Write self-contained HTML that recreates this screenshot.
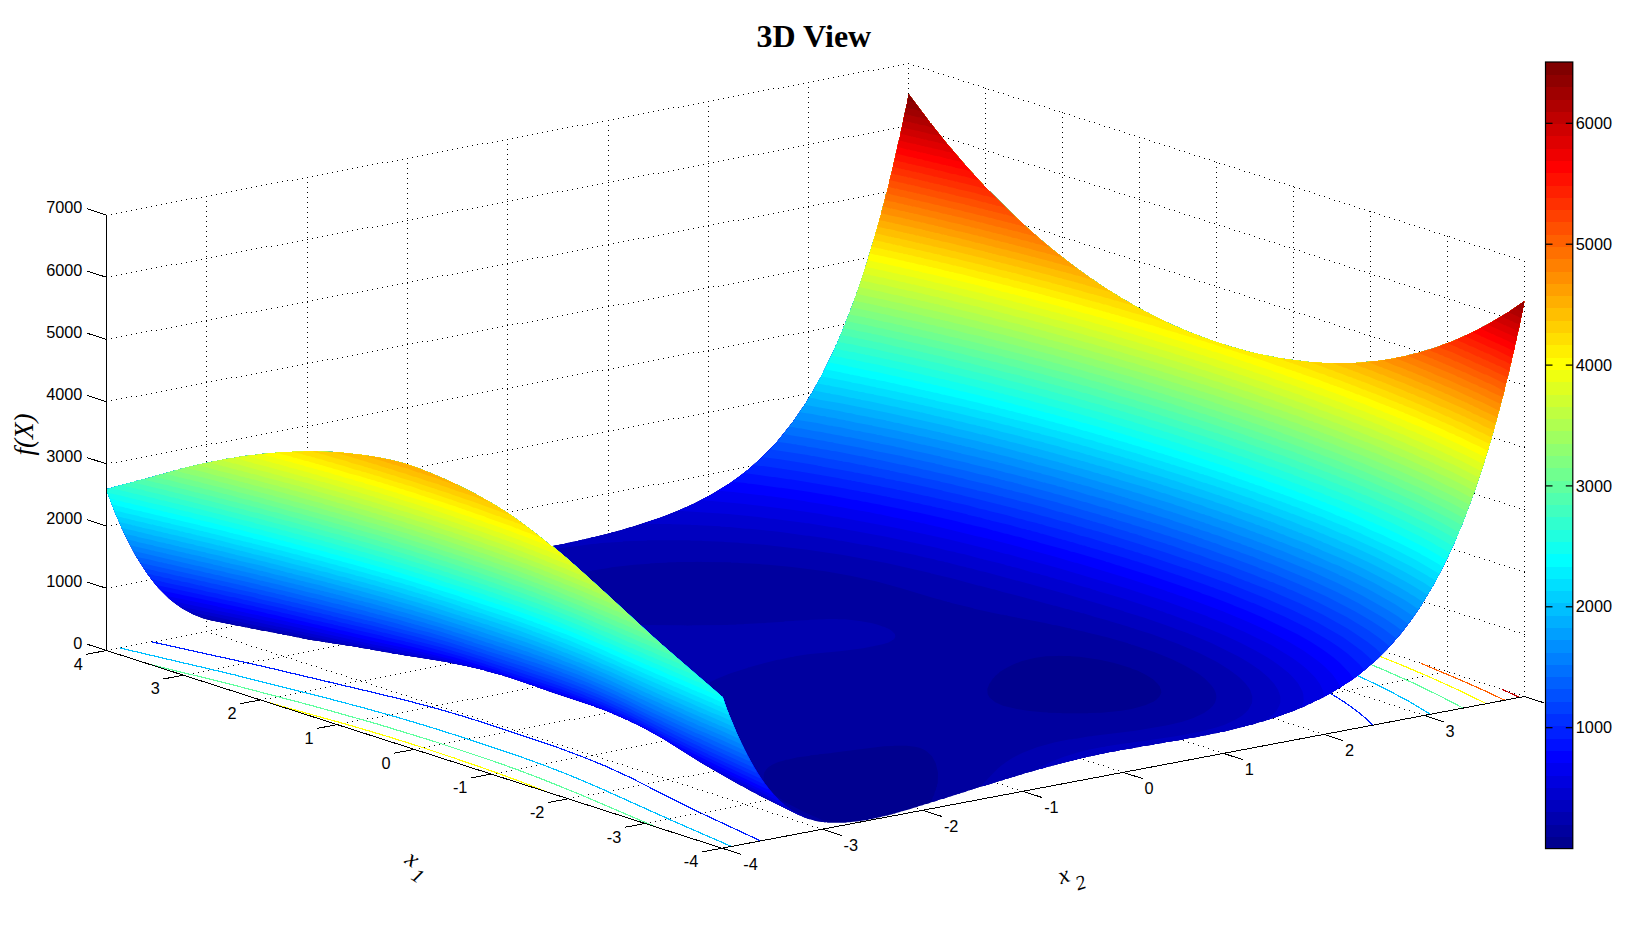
<!DOCTYPE html><html><head><meta charset="utf-8"><title>3D View</title><style>html,body{margin:0;padding:0;background:#fff}svg{display:block}</style></head><body>
<svg width="1632" height="945" viewBox="0 0 1632 945">
<rect width="1632" height="945" fill="#fff"/>
<path stroke="#000" stroke-width="1" fill="none" d="M908 63.5h1m-6 1h1m-6 1h1m14 0h1m-21 1h1m24 0h1m-31 1h1m-6 1h1m24 0h1m14 0h1m-46 1h1m49 0h1m-61 1h1m4 0h1m-11 1h1m69 0h1m-76 1h1m-6 1h1m54 0h1m29 0h1m-91 1h1m94 0h1m-101 1h1m-6 1h1m109 0h1m-116 1h1m119 0h1m-126 1h1m79 0h1m-86 1h1m134 0h1m-141 1h1m-6 1h1m149 0h1m-156 1h1m159 0h1m-166 1h1m104 0h1m-111 1h1m174 0h1m-181 1h1m184 0h1m-191 1h1m-6 1h1m24 0h1m174 0h1m-211 1h1m4 0h1m129 0h1m76 0h1m-218 1h1m219 0h1m-226 1h1m229 0h1m-236 1h1m-6 1h1m54 0h1m189 0h1m-251 1h1m159 0h1m76 0h1m17 0h1m-261 1h1m-6 1h1m269 0h1m-276 1h1m-6 1h1m79 0h1m204 0h1m-291 1h1m261 0h1m32 0h1m-301 1h1m-6 1h1m309 0h1m-316 1h1m319 0h1m-326 1h1m104 0h1m-111 1h1m286 0h1m48 0h1m-342 1h1m-6 1h1m350 0h1m-357 1h1m24 0h1m335 0h1m-372 1h1m4 0h1m129 0h1m-141 1h1m316 0h1m63 0h1m-387 1h1m-6 1h1m395 0h1m-402 1h1m54 0h1m350 0h1m-412 1h1m159 0h1m253 0h1m-420 1h1m341 0h1m78 0h1m-427 1h1m430 0h1m-437 1h1m-6 1h1m79 0h1m365 0h1m-452 1h1m184 0h1m253 0h1m-445 1h1m366 0h1m93 0h1m-467 1h1m470 0h1m-477 1h1m-7 1h1m105 0h1m380 0h1m-493 1h1m210 0h1m253 0h1m31 0h1m-503 1h1m392 0h1m-399 1h1m511 0h1m-523 1h1m4 0h1m25 0h1m-37 1h1m135 0h1m395 0h1m-538 1h1m240 0h1m89 0h1m163 0h1m46 0h1m-548 1h1m330 0h1m91 0h1m-429 1h1m330 0h1m225 0h1m-563 1h1m55 0h1m274 0h1m235 0h1m-573 1h1m160 0h1m169 0h1m-337 1h1m265 0h1m64 0h1m188 0h1m61 0h1m-588 1h1m330 0h1m116 0h1m-454 1h1m330 0h1m265 0h1m-603 1h1m80 0h1m249 0h1m275 0h1m-613 1h1m185 0h1m139 0h1m4 0h1m89 0h1m-427 1h1m290 0h1m34 0h1m218 0h1m76 0h1m-628 1h1m325 0h1m109 0h1m36 0h1m158 0h1m-638 1h1m325 0h1m-332 1h1m105 0h1m219 0h1m124 0h1m195 0h1m-653 1h1m210 0h1m114 0h1m134 0h1m-467 1h1m315 0h1m9 0h1m243 0h1m76 0h1m14 0h1m-673 1h1m4 0h1m325 0h1m149 0h1m21 0h1m173 0h1m-683 1h1m29 0h1m300 0h1m159 0h1m-497 1h1m135 0h1m194 0h1m360 0h1m-698 1h1m240 0h1m89 0h1m174 0h1m195 0h1m-708 1h1m330 0h1m14 0h1m253 0h1m76 0h1m-683 1h1m330 0h1m189 0h1m6 0h1m188 0h1m-723 1h1m54 0h1m275 0h1m199 0h1m-537 1h1m160 0h1m169 0h1m400 0h1m-738 1h1m265 0h1m64 0h1m214 0h1m195 0h1m-748 1h1m330 0h1m39 0h1m184 0h1m68 0h1m76 0h1m-708 1h1m330 0h1m221 0h1m203 0h1m-763 1h1m79 0h1m245 0h1m4 0h1m239 0h1m-577 1h1m185 0h1m139 0h1m445 0h1m-778 1h1m290 0h1m34 0h1m259 0h1m195 0h1m-788 1h1m325 0h1m69 0h1m199 0h1m53 0h1m76 0h1m-733 1h1m325 0h1m251 0h1m218 0h1m-803 1h1m104 0h1m220 0h1m284 0h1m195 0h1m-813 1h1m210 0h1m114 0h1m294 0h1m-627 1h1m315 0h1m9 0h1m495 0h1m-833 1h1m4 0h1m325 0h1m94 0h1m214 0h1m38 0h1m76 0h1m76 0h1m-840 1h1m29 0h1m300 0h1m276 0h1m233 0h1m-848 1h1m134 0h1m195 0h1m324 0h1m195 0h1m-858 1h1m240 0h1m89 0h1m335 0h1m-673 1h1m330 0h1m14 0h1m520 0h1m-873 1h1m330 0h1m119 0h1m230 0h1m22 0h1m76 0h1m76 0h1m17 0h1m-883 1h1m54 0h1m275 0h1m301 0h1m58 0h1m-698 1h1m159 0h1m170 0h1m560 0h1m-898 1h1m265 0h1m64 0h1m375 0h1m-713 1h1m330 0h1m39 0h1m535 0h1m-913 1h1m330 0h1m144 0h1m245 0h1m7 0h1m76 0h1m76 0h1m32 0h1m-923 1h1m79 0h1m245 0h1m4 0h1m326 0h1m73 0h1m-738 1h1m184 0h1m140 0h1m605 0h1m-938 1h1m290 0h1m34 0h1m420 0h1m194 0h1m-948 1h1m325 0h1m69 0h1m-402 1h1m325 0h1m174 0h1m253 0h1m6 0h1m69 0h1m76 0h1m47 0h1m-963 1h1m104 0h1m220 0h1m356 0h1m88 0h1m-778 1h1m209 0h1m115 0h1m645 0h1m-983 1h1m4 0h1m315 0h1m9 0h1m460 0h1m194 0h1m-993 1h1m330 0h1m94 0h1m375 0h1m-808 1h1m29 0h1m300 0h1m199 0h1m253 0h1m76 0h1m76 0h1m62 0h1m-1009 1h1m135 0h1m194 0h1m382 0h1m103 0h1m194 0h1m-1019 1h1m240 0h1m89 0h1m-337 1h1m330 0h1m15 0h1m485 0h1m194 0h1m-1034 1h1m330 0h1m120 0h1m390 0h1m193 0h1m-1043 1h1m55 0h1m274 0h1m225 0h1m253 0h1m76 0h1m76 0h1m77 0h1m-1049 1h1m160 0h1m169 0h1m526 0h1m194 0h1m-1059 1h1m265 0h1m64 0h1m536 0h1m-874 1h1m330 0h1m40 0h1m695 0h1m-1074 1h1m325 0h1m4 0h1m145 0h1m405 0h1m178 0h1m15 0h1m-1084 1h1m80 0h1m244 0h1m255 0h1m74 0h1m178 0h1m76 0h1m76 0h1m-996 1h1m185 0h1m139 0h1m330 0h1m240 0h1m194 0h1m-1099 1h1m290 0h1m34 0h1m330 0h1m250 0h1m-914 1h1m325 0h1m70 0h1m259 0h1m450 0h1m-1114 1h1m325 0h1m175 0h1m154 0h1m265 0h1m163 0h1m30 0h1m-1124 1h1m105 0h1m219 0h1m280 0h1m49 0h1m203 0h1m71 0h1m4 0h1m76 0h1m-1026 1h1m4 0h1m210 0h1m114 0h1m330 0h1m475 0h1m-1144 1h1m320 0h1m9 0h1m330 0h1m290 0h1m-959 1h1m330 0h1m95 0h1m234 0h1m490 0h1m-1159 1h1m29 0h1m300 0h1m200 0h1m129 0h1m305 0h1m148 0h1m45 0h1m-1169 1h1m135 0h1m194 0h1m305 0h1m19 0h1m4 0h1m228 0h1m76 0h1m9 0h1m66 0h1m-1051 1h1m240 0h1m89 0h1m325 0h1m520 0h1m-1184 1h1m330 0h1m14 0h1m310 0h1m335 0h1m194 0h1m-1194 1h1m330 0h1m120 0h1m204 0h1m345 0h1m-1009 1h1m54 0h1m275 0h1m225 0h1m99 0h1m484 0h1m60 0h1m-1209 1h1m160 0h1m169 0h1m325 0h1m4 0h1m253 0h1m76 0h1m24 0h1m51 0h1m-1076 1h1m265 0h1m64 0h1m325 0h1m560 0h1m-1224 1h1m325 0h1m4 0h1m39 0h1m285 0h1m375 0h1m194 0h1m-1234 1h1m325 0h1m150 0h1m179 0h1m385 0h1m-1049 1h1m79 0h1m245 0h1m255 0h1m74 0h1m509 0h1m75 0h1m0 0h1m-1250 1h1m185 0h1m139 0h1m330 0h1m29 0h1m253 0h1m76 0h1m39 0h1m36 0h1m157 0h1m-1259 1h1m290 0h1m34 0h1m330 0h1m-663 1h1m325 0h1m69 0h1m260 0h1m415 0h1m194 0h1m-1274 1h1m325 0h1m175 0h1m154 0h1m425 0h1m-984 1h1m220 0h1m280 0h1m49 0h1m534 0h1m76 0h1m13 0h1m-1078 1h1m114 0h1m330 0h1m54 0h1m253 0h1m76 0h1m54 0h1m21 0h1m172 0h1m-983 1h1m9 0h1m330 0h1m450 0h1m-788 1h1m94 0h1m235 0h1m650 0h1m-988 1h1m200 0h1m124 0h1m4 0h1m465 0h1m194 0h1m-1194 1h1m195 0h1m305 0h1m19 0h1m564 0h1m76 0h1m-1064 1h1m89 0h1m325 0h1m84 0h1m253 0h1m76 0h1m69 0h1m6 0h1m187 0h1m-1013 1h1m14 0h1m310 0h1m495 0h1m-828 1h1m119 0h1m205 0h1m695 0h1m-1028 1h1m225 0h1m99 0h1m510 0h1m194 0h1m-1209 1h1m170 0h1m325 0h1m4 0h1m319 0h1m195 0h1m68 0h1m76 0h1m-1064 1h1m59 0h1m4 0h1m325 0h1m109 0h1m225 0h1m27 0h1m76 0h1m76 0h1m202 0h1m-1058 1h1m44 0h1m285 0h1m535 0h1m194 0h1m-1068 1h1m149 0h1m180 0h1m350 0h1m-688 1h1m255 0h1m74 0h1m550 0h1m194 0h1m-1224 1h1m140 0h1m330 0h1m29 0h1m335 0h1m194 0h1m130 0h1m-1064 1h1m34 0h1m330 0h1m134 0h1m240 0h1m12 0h1m76 0h1m76 0h1m76 0h1m140 0h1m-1098 1h1m69 0h1m260 0h1m575 0h1m194 0h1m-1108 1h1m174 0h1m155 0h1m390 0h1m194 0h1m-923 1h1m280 0h1m49 0h1m785 0h1m-1239 1h1m115 0h1m330 0h1m54 0h1m350 0h1m194 0h1m115 0h1m76 0h1m1 0h1m-1143 1h1m9 0h1m330 0h1m159 0h1m253 0h1m1 0h1m74 0h1m76 0h1m76 0h1m-982 1h1m94 0h1m230 0h1m4 0h1m615 0h1m194 0h1m-1148 1h1m199 0h1m125 0h1m435 0h1m194 0h1m-963 1h1m305 0h1m19 0h1m445 0h1m384 0h1m-1254 1h1m90 0h1m325 0h1m84 0h1m560 0h1m100 0h1m76 0h1m16 0h1m-1173 1h1m14 0h1m310 0h1m189 0h1m253 0h1m16 0h1m59 0h1m76 0h1m57 0h1m18 0h1m-1007 1h1m119 0h1m205 0h1m855 0h1m-1188 1h1m224 0h1m100 0h1m475 0h1m194 0h1m-1003 1h1m324 0h1m5 0h1m480 0h1m384 0h1m-1269 1h1m59 0h1m4 0h1m325 0h1m110 0h1m575 0h1m85 0h1m76 0h1m31 0h1m-1219 1h1m45 0h1m284 0h1m215 0h1m253 0h1m31 0h1m44 0h1m76 0h1m72 0h1m3 0h1m-1038 1h1m150 0h1m179 0h1m511 0h1m384 0h1m-1234 1h1m255 0h1m74 0h1m711 0h1m194 0h1m-1244 1h1m330 0h1m30 0h1m495 0h1m194 0h1m-1094 1h1m34 0h1m330 0h1m135 0h1m661 0h1m76 0h1m46 0h1m-1259 1h1m70 0h1m259 0h1m240 0h1m253 0h1m46 0h1m29 0h1m76 0h1m76 0h1m10 0h1m-1074 1h1m175 0h1m154 0h1m551 0h1m384 0h1m-1274 1h1m280 0h1m49 0h1m751 0h1m194 0h1m-1284 1h1m330 0h1m55 0h1m510 0h1m194 0h1m-1109 1h1m9 0h1m330 0h1m160 0h1m415 0h1m245 0h1m76 0h1m61 0h1m-1299 1h1m95 0h1m229 0h1m4 0h1m265 0h1m59 0h1m270 0h1m76 0h1m76 0h1m25 0h1m194 0h1m-1309 1h1m200 0h1m124 0h1m330 0h1m265 0h1m-929 1h1m305 0h1m19 0h1m330 0h1m465 0h1m194 0h1m-1324 1h1m325 0h1m85 0h1m244 0h1m280 0h1m194 0h1m-1139 1h1m14 0h1m310 0h1m190 0h1m139 0h1m290 0h1m230 0h1m76 0h1m76 0h1m-1339 1h1m120 0h1m204 0h1m295 0h1m34 0h1m295 0h1m76 0h1m76 0h1m40 0h1m-1154 1h1m225 0h1m99 0h1m330 0h1m305 0h1m194 0h1m-1169 1h1m4 0h1m325 0h1m4 0h1m325 0h1m315 0h1m-984 1h1m330 0h1m110 0h1m219 0h1m515 0h1m-1184 1h1m44 0h1m285 0h1m215 0h1m114 0h1m330 0h1m215 0h1m76 0h1m76 0h1m-1369 1h1m150 0h1m179 0h1m320 0h1m9 0h1m320 0h1m76 0h1m76 0h1m55 0h1m-1199 1h1m255 0h1m74 0h1m325 0h1m4 0h1m345 0h1m194 0h1m-1209 1h1m330 0h1m29 0h1m295 0h1m360 0h1m-1024 1h1m330 0h1m135 0h1m189 0h1m560 0h1m-1224 1h1m69 0h1m260 0h1m240 0h1m84 0h1m375 0h1m194 0h1m5 0h1m76 0h1m76 0h1m-1394 1h1m175 0h1m154 0h1m325 0h1m19 0h1m330 0h1m34 0h1m41 0h1m76 0h1m-1168 1h1m280 0h1m49 0h1m325 0h1m585 0h1m-1249 1h1m330 0h1m54 0h1m270 0h1m400 0h1m-1064 1h1m325 0h1m4 0h1m160 0h1m164 0h1m600 0h1m-1264 1h1m94 0h1m230 0h1m270 0h1m59 0h1m415 0h1m185 0h1m8 0h1m67 0h1m76 0h1m-1419 1h1m200 0h1m124 0h1m330 0h1m44 0h1m330 0h1m49 0h1m26 0h1m76 0h1m-887 1h1m19 0h1m330 0h1m625 0h1m-963 1h1m84 0h1m245 0h1m440 0h1m194 0h1m-973 1h1m190 0h1m139 0h1m-543 1h1m205 0h1m295 0h1m34 0h1m455 0h1m170 0h1m23 0h1m52 0h1m76 0h1m-1218 1h1m99 0h1m330 0h1m69 0h1m330 0h1m64 0h1m11 0h1m76 0h1m-892 1h1m4 0h1m325 0h1m665 0h1m-1003 1h1m109 0h1m220 0h1m480 0h1m194 0h1m-1013 1h1m215 0h1m114 0h1m490 0h1m-1009 1h1m180 0h1m320 0h1m4 0h1m4 0h1m651 0h1m38 0h1m37 0h1m76 0h1m-1218 1h1m74 0h1m325 0h1m99 0h1m330 0h1m76 0h1m2 0h1m73 0h1m120 0h1m-1038 1h1m29 0h1m295 0h1m-332 1h1m134 0h1m190 0h1m525 0h1m194 0h1m-1053 1h1m240 0h1m84 0h1m535 0h1m-1024 1h1m155 0h1m325 0h1m19 0h1m661 0h1m53 0h1m22 0h1m76 0h1m-1218 1h1m49 0h1m325 0h1m124 0h1m330 0h1m76 0h1m17 0h1m58 0h1m135 0h1m-1083 1h1m4 0h1m54 0h1m270 0h1m560 0h1m-898 1h1m164 0h1m165 0h1m760 0h1m-1098 1h1m270 0h1m59 0h1m575 0h1m194 0h1m-1234 1h1m125 0h1m330 0h1m44 0h1m661 0h1m76 0h1m76 0h1m-1218 1h1m19 0h1m330 0h1m149 0h1m330 0h1m76 0h1m32 0h1m43 0h1m150 0h1m-1123 1h1m84 0h1m245 0h1m600 0h1m-938 1h1m189 0h1m140 0h1m800 0h1m-1138 1h1m295 0h1m34 0h1m615 0h1m194 0h1m-1249 1h1m100 0h1m330 0h1m69 0h1m555 0h1m105 0h1m76 0h1m-1146 1h1m4 0h1m325 0h1m174 0h1m330 0h1m76 0h1m76 0h1m165 0h1m-1163 1h1m109 0h1m220 0h1m640 0h1m-978 1h1m214 0h1m110 0h1m4 0h1m840 0h1m-1178 1h1m320 0h1m4 0h1m660 0h1m194 0h1m-1264 1h1m75 0h1m325 0h1m99 0h1m570 0h1m90 0h1m76 0h1m76 0h1m-1248 1h1m29 0h1m294 0h1m205 0h1m330 0h1m76 0h1m76 0h1m180 0h1m-1204 1h1m135 0h1m189 0h1m686 0h1m194 0h1m-1214 1h1m240 0h1m84 0h1m696 0h1m-1029 1h1m325 0h1m20 0h1m875 0h1m-1279 1h1m49 0h1m325 0h1m125 0h1m585 0h1m75 0h1m76 0h1m76 0h1m-1279 1h1m4 0h1m55 0h1m269 0h1m230 0h1m407 0h1m76 0h1m195 0h1m-1249 1h1m165 0h1m164 0h1m726 0h1m194 0h1m-1259 1h1m270 0h1m59 0h1m736 0h1m-1074 1h1m330 0h1m45 0h1m890 0h1m-1294 1h1m19 0h1m330 0h1m150 0h1m600 0h1m60 0h1m76 0h1m76 0h1m-1304 1h1m85 0h1m244 0h1m255 0h1m407 0h1m76 0h1m20 0h1m-1099 1h1m190 0h1m139 0h1m-337 1h1m295 0h1m34 0h1m776 0h1m-1114 1h1m330 0h1m70 0h1m-408 1h1m4 0h1m325 0h1m175 0h1m615 0h1m45 0h1m76 0h1m76 0h1m-1329 1h1m110 0h1m219 0h1m280 0h1m407 0h1m76 0h1m35 0h1m-1139 1h1m215 0h1m109 0h1m4 0h1m1001 0h1m-1339 1h1m320 0h1m4 0h1m330 0h1m490 0h1m-1154 1h1m325 0h1m100 0h1m229 0h1m-663 1h1m29 0h1m295 0h1m205 0h1m124 0h1m505 0h1m30 0h1m76 0h1m76 0h1m-1354 1h1m135 0h1m189 0h1m310 0h1m19 0h1m387 0h1m76 0h1m50 0h1m-1179 1h1m240 0h1m84 0h1m330 0h1m-663 1h1m325 0h1m19 0h1m310 0h1m530 0h1m-1199 1h1m4 0h1m325 0h1m125 0h1m204 0h1m540 0h1m-1209 1h1m59 0h1m270 0h1m230 0h1m99 0h1m561 0h1m76 0h1m76 0h1m-1384 1h1m165 0h1m164 0h1m330 0h1m4 0h1m407 0h1m76 0h1m65 0h1m-1224 1h1m270 0h1m59 0h1m330 0h1m-668 1h1m330 0h1m44 0h1m280 0h1m4 0h1m570 0h1m-1239 1h1m330 0h1m150 0h1m174 0h1m585 0h1m-1249 1h1m84 0h1m245 0h1m255 0h1m69 0h1m591 0h1m76 0h1m76 0h1m-1409 1h1m190 0h1m139 0h1m325 0h1m34 0h1m407 0h1m76 0h1m80 0h1m-1264 1h1m295 0h1m34 0h1m325 0h1m610 0h1m-1274 1h1m330 0h1m69 0h1m255 0h1m-332 1h1m175 0h1m149 0h1m625 0h1m-1179 1h1m215 0h1m4 0h1m280 0h1m44 0h1m616 0h1m76 0h1m76 0h1m-1218 1h1m109 0h1m330 0h1m59 0h1m484 0h1m95 0h1m-983 1h1m4 0h1m330 0h1m650 0h1m-988 1h1m99 0h1m230 0h1m-337 1h1m205 0h1m124 0h1m665 0h1m-1194 1h1m190 0h1m310 0h1m19 0h1m641 0h1m33 0h1m119 0h1m-1218 1h1m84 0h1m330 0h1m84 0h1m484 0h1m-907 1h1m19 0h1m310 0h1m690 0h1m-1028 1h1m124 0h1m205 0h1m-337 1h1m230 0h1m99 0h1m705 0h1m-1209 1h1m165 0h1m330 0h1m4 0h1m661 0h1m48 0h1m104 0h1m-1218 1h1m59 0h1m325 0h1m4 0h1m109 0h1m484 0h1m-932 1h1m44 0h1m280 0h1m-332 1h1m149 0h1m175 0h1m-332 1h1m255 0h1m69 0h1m-473 1h1m140 0h1m325 0h1m34 0h1m661 0h1m153 0h1m-1218 1h1m34 0h1m325 0h1m139 0h1m484 0h1m-957 1h1m69 0h1m255 0h1m-337 1h1m4 0h1m174 0h1m150 0h1m-337 1h1m285 0h1m44 0h1m-448 1h1m110 0h1m330 0h1m59 0h1m661 0h1m153 0h1m-1218 1h1m4 0h1m330 0h1m164 0h1m-502 1h1m99 0h1m230 0h1m-337 1h1m204 0h1m125 0h1m-337 1h1m310 0h1m19 0h1m-423 1h1m85 0h1m330 0h1m84 0h1m815 0h1m-1238 1h1m19 0h1m310 0h1m189 0h1m-527 1h1m124 0h1m205 0h1m-337 1h1m229 0h1m100 0h1m-338 1h1m325 0h1m4 0h1m5 0h1m-403 1h1m59 0h1m325 0h1m115 0h1m815 0h1m-1264 1h1m45 0h1m279 0h1m220 0h1m-553 1h1m150 0h1m174 0h1m-332 1h1m255 0h1m69 0h1m-332 1h1m325 0h1m35 0h1m-403 1h1m34 0h1m325 0h1m140 0h1m815 0h1m-1294 1h1m4 0h1m70 0h1m254 0h1m245 0h1m-583 1h1m180 0h1m149 0h1m-337 1h1m285 0h1m44 0h1m-337 1h1m330 0h1m60 0h1m900 0h1m-1304 1h1m4 0h1m330 0h1m165 0h1m815 0h1m-1319 1h1m100 0h1m229 0h1m270 0h1m705 0h1m-1314 1h1m205 0h1m124 0h1m986 0h1m-1324 1h1m310 0h1m19 0h1m-337 1h1m330 0h1m85 0h1m915 0h1m-1339 1h1m19 0h1m310 0h1m190 0h1m815 0h1m-1344 1h1m125 0h1m204 0h1m295 0h1m-633 1h1m230 0h1m94 0h1m4 0h1m-337 1h1m325 0h1m9 0h1m-342 1h1m325 0h1m115 0h1m-448 1h1m44 0h1m280 0h1m220 0h1m815 0h1m-1369 1h1m150 0h1m174 0h1m325 0h1m-658 1h1m255 0h1m69 0h1m330 0h1m-663 1h1m325 0h1m34 0h1m295 0h1m-663 1h1m325 0h1m140 0h1m189 0h1m-668 1h1m4 0h1m69 0h1m255 0h1m245 0h1m84 0h1m730 0h1m-1399 1h1m180 0h1m149 0h1m330 0h1m19 0h1m-688 1h1m285 0h1m44 0h1m330 0h1m-668 1h1m330 0h1m59 0h1m265 0h1m4 0h1m-668 1h1m330 0h1m165 0h1m159 0h1m-663 1h1m99 0h1m230 0h1m270 0h1m54 0h1m760 0h1m-1218 1h1m124 0h1m325 0h1m-352 1h1m19 0h1m325 0h1m-332 1h1m84 0h1m240 0h1m-332 1h1m190 0h1m134 0h1m-538 1h1m205 0h1m295 0h1m29 0h1m785 0h1m-1218 1h1m94 0h1m4 0h1m325 0h1m-337 1h1m9 0h1m320 0h1m-337 1h1m114 0h1m215 0h1m-337 1h1m220 0h1m109 0h1m-513 1h1m175 0h1m325 0h1m4 0h1m810 0h1m-1218 1h1m69 0h1m330 0h1m-337 1h1m34 0h1m295 0h1m-337 1h1m139 0h1m190 0h1m-337 1h1m245 0h1m84 0h1m-488 1h1m150 0h1m330 0h1m19 0h1m815 0h1m-1218 1h1m44 0h1m330 0h1m-337 1h1m59 0h1m265 0h1m4 0h1m-337 1h1m164 0h1m160 0h1m-332 1h1m270 0h1m54 0h1m-458 1h1m125 0h1m325 0h1m49 0h1m815 0h1m-1218 1h1m19 0h1m325 0h1m-332 1h1m84 0h1m240 0h1m-332 1h1m189 0h1m135 0h1m-337 1h1m4 0h1m295 0h1m29 0h1m-433 1h1m95 0h1m330 0h1m74 0h1m815 0h1m-1228 1h1m9 0h1m320 0h1m-337 1h1m114 0h1m215 0h1m-337 1h1m219 0h1m110 0h1m-337 1h1m325 0h1m4 0h1m-408 1h1m70 0h1m330 0h1m99 0h1m815 0h1m-1254 1h1m35 0h1m294 0h1m-337 1h1m140 0h1m189 0h1m-337 1h1m245 0h1m84 0h1m-337 1h1m330 0h1m20 0h1m-403 1h1m44 0h1m325 0h1m4 0h1m125 0h1m815 0h1m-1279 1h1m60 0h1m264 0h1m-332 1h1m165 0h1m159 0h1m926 0h1m-1259 1h1m270 0h1m54 0h1m936 0h1m-1269 1h1m325 0h1m50 0h1m-403 1h1m19 0h1m325 0h1m155 0h1m795 0h1m19 0h1m-1304 1h1m85 0h1m239 0h1m961 0h1m-1299 1h1m4 0h1m190 0h1m134 0h1m-337 1h1m300 0h1m29 0h1m976 0h1m-1314 1h1m330 0h1m75 0h1m-413 1h1m9 0h1m320 0h1m180 0h1m810 0h1m4 0h1m-1334 1h1m115 0h1m214 0h1m1001 0h1m-1339 1h1m220 0h1m109 0h1m-337 1h1m325 0h1m4 0h1m-337 1h1m330 0h1m100 0h1m-438 1h1m34 0h1m295 0h1m205 0h1m815 0h1m-1359 1h1m330 0h1m-337 1h1m245 0h1m84 0h1m-337 1h1m325 0h1m4 0h1m19 0h1m-357 1h1m325 0h1m130 0h1m-463 1h1m59 0h1m265 0h1m235 0h1m815 0h1m-1384 1h1m325 0h1m-332 1h1m270 0h1m54 0h1m-332 1h1m325 0h1m49 0h1m-382 1h1m325 0h1m155 0h1m-488 1h1m84 0h1m240 0h1m260 0h1m815 0h1m-1414 1h1m4 0h1m325 0h1m-337 1h1m300 0h1m29 0h1m-6 1h1m74 0h1m-81 1h1m180 0h1m-187 1h1m285 0h1m39 0h1m775 0h1m-1108 1h1m325 0h1m-6 1h1m-232 1h1m225 0h1m-126 1h1m119 0h1m-21 1h1m14 0h1m800 0h1m-807 1h1m-6 1h1m-207 1h1m200 0h1m-101 1h1m94 0h1m-6 1h1m9 0h1m815 0h1m-832 1h1m-6 1h1m-182 1h1m175 0h1m-76 1h1m69 0h1m-6 1h1m34 0h1m815 0h1m-857 1h1m-6 1h1m-157 1h1m145 0h1m4 0h1m-51 1h1m39 0h1m-6 1h1m64 0h1m815 0h1m-887 1h1m-6 1h1m-127 1h1m120 0h1m-21 1h1m14 0h1m-6 1h1m89 0h1m815 0h1m-912 1h1m-6 1h1m865 0h1m-968 1h1m94 0h1m-6 1h1m10 0h1m870 0h1m-888 1h1m931 0h1m-938 1h1m896 0h1m-903 1h1m906 0h1m-983 1h1m69 0h1m-6 1h1m35 0h1m885 0h1m-928 1h1m931 0h1m24 0h1m-968 1h1m4 0h1m-11 1h1m951 0h1m-998 1h1m39 0h1m-6 1h1m65 0h1m900 0h1m-973 1h1m976 0h1m9 0h1m-993 1h1m-6 1h1m991 0h1m-1013 1h1m14 0h1m1001 0h1m-1008 1h1m90 0h1m-97 1h1m1011 0h1m-1018 1h1m100 3h1m915 1h1m-917 4h1m915 1h1m-1409 3h1m-6 1h1m496 0h1m-503 1h1m1417 0h1m-917 4h1m915 1h1m-1 5h1m-1 5h1m-1 5h1m-71 3h1m4 2h1m64 0h1m-61 1h1m4 2h1m4 2h1m49 0h1m-46 1h1m4 2h1m4 1h1m-43 1h1m76 0h1m-31 1h1m4 2h1m4 1h1m-58 1h1m76 0h1m-16 1h1m4 1h1m4 2h1m-73 1h1m76 0h1m-1 1h1m-78 4h1m76 0h1m-1374 3h1m-6 1h1m-6 1h1m1305 0h1m76 0h1m-1389 1h1m-6 1h1m-6 1h1m-6 1h1m-6 1h1m1330 0h1m76 0h1m-1414 1h1m-6 1h1m1340 3h1m76 0h1m-78 5h1m76 0h1m-78 5h1m76 0h1m-101 1h1m4 1h1m4 2h1m4 1h1m7 0h1m76 0h1m-81 2h1m4 2h1m-3 1h1m6 0h1m69 0h1m-66 2h1m4 2h1m-18 1h1m21 0h1m54 0h1m-51 2h1m4 1h1m-1274 2h1m1240 0h1m36 0h1m39 0h1m-36 2h1m4 1h1m-1289 2h1m24 0h1m1215 0h1m51 0h1m24 0h1m-1299 1h1m1277 0h1m-1284 1h1m-6 1h1m1292 0h1m-1299 1h1m-6 1h1m1240 0h1m66 0h1m9 0h1m-1324 1h1m1317 0h1m-1324 1h1m14 0h1m-21 1h1m24 0h1m1307 0h1m-1339 1h1m-6 1h1m39 0h1m1225 0h1m76 0h1m-1349 1h1m49 0h1m-56 1h1m-6 1h1m64 0h1m-71 1h1m-11 1h1m4 0h1m79 0h1m1210 0h1m76 0h1m-1379 1h1m94 0h1m-101 1h1m-6 1h1m109 0h1m-116 1h1m206 0h1m-213 1h1m124 0h1m81 0h1m1113 0h1m76 0h1m-1404 1h1m134 0h1m71 0h1m-213 1h1m206 0h1m-213 1h1m149 0h1m56 0h1m-213 1h1m159 0h1m46 0h1m-6 1h1m1138 0h1m76 0h1m-1254 1h1m31 0h1m-6 1h1m1090 0h1m-1114 1h1m16 0h1m1100 0h1m-1114 1h1m6 0h1m-6 1h1m1115 0h1m47 0h1m76 0h1m-1247 1h1m7 0h1m1117 0h1m-1132 1h1m17 0h1m-24 1h1m1140 0h1m-1152 1h1m4 0h1m32 0h1m-44 1h1m1160 0h1m32 0h1m76 0h1m-1277 1h1m52 0h1m1117 0h1m-1177 1h1m62 0h1m143 0h1m-213 1h1m206 0h1m978 0h1m-1192 1h1m77 0h1m128 0h1m988 0h1m-1202 1h1m87 0h1m118 0h1m1011 0h1m76 0h1m-1302 1h1m206 0h1m1003 0h1m-1217 1h1m102 0h1m103 0h1m-213 1h1m206 0h1m1018 0h1m-1232 1h1m117 0h1m88 0h1m1028 0h1m-1242 1h1m127 0h1m78 0h1m1036 0h1m76 0h1m-1327 1h1m206 0h1m1036 0h1m6 0h1m-1257 1h1m142 0h1m63 0h1m1036 0h1m16 0h1m-1267 1h1m152 0h1m53 0h1m1036 0h1m-1250 1h1m206 0h1m1036 0h1m31 0h1m-1114 1h1m38 0h1m1036 0h1m101 0h1m-1145 1h1m1036 0h1m46 0h1m-1114 1h1m23 0h1m1036 0h1m56 0h1m-1114 1h1m13 0h1m1036 0h1m-1048 1h1m4 0h1m1036 0h1m71 0h1m-1120 1h1m5 0h1m1035 0h1m126 0h1m-1175 1h1m15 0h1m1025 0h1m86 0h1m-1135 1h1m1041 0h1m96 0h1m-1145 1h1m30 0h1m1010 0h1m-1048 1h1m1041 0h1m111 0h1m-1160 1h1m45 0h1m990 0h1m4 0h1m121 0h1m29 0h1m-1200 1h1m55 0h1m150 0h1m829 0h1m-1043 1h1m206 0h1m811 0h1m17 0h1m141 0h1m-1185 1h1m70 0h1m135 0h1m821 0h1m7 0h1m-1043 1h1m206 0h1m829 0h1m156 0h1m-1200 1h1m85 0h1m120 0h1m829 0h1m6 0h1m159 0h1m14 0h1m-1225 1h1m95 0h1m110 0h1m829 0h1m16 0h1m-1060 1h1m206 0h1m829 0h1m181 0h1m-1225 1h1m110 0h1m95 0h1m861 0h1m159 0h1m-1235 1h1m120 0h1m85 0h1m-213 1h1m206 0h1m876 0h1m159 0h1m-1250 1h1m135 0h1m70 0h1m886 0h1m-1105 1h1m4 0h1m206 0h1m-218 1h1m155 0h1m50 0h1m4 0h1m901 0h1m-954 1h1m40 0h1m916 0h1m-923 1h1m-32 1h1m25 0h1m931 0h1m-954 1h1m15 0h1m-6 1h1m946 0h1m-954 1h1m0 0h1m956 0h1m-963 1h1m-6 1h1m13 0h1m957 0h1m-978 1h1m23 0h1m-30 1h1m986 0h1m-993 1h1m38 0h1m957 0h1m-1003 1h1m49 0h1m-56 1h1m1011 0h1m-1018 1h1m64 0h1m141 0h1m814 0h1m-1028 1h1m206 0h1m-213 1h1m79 0h1m126 0h1m829 0h1m-1043 1h1m89 0h1m116 0h1m-213 1h1m206 0h1m-218 1h1m4 0h1m104 0h1m101 0h1m693 0h1m-912 1h1m119 0h1m86 0h1m4 0h1m703 0h1m-922 1h1m206 0h1m-213 1h1m134 0h1m71 0h1m723 0h1m-937 1h1m206 0h1m-213 1h1m149 0h1m56 0h1m738 0h1m-952 1h1m159 0h1m46 0h1m748 0h1m-755 1h1m-38 1h1m31 0h1m763 0h1m-792 1h1m21 0h1m773 0h1m-780 1h1m-13 1h1m6 0h1m788 0h1m-795 1h1m-6 1h1m7 0h1m795 0h1m-810 1h1m17 0h1m795 0h1m-820 1h1m-6 1h1m32 0h1m795 0h1m-835 1h1m-6 1h1m47 0h1m-59 1h1m4 0h1m57 0h1m-69 1h1m-6 1h1m77 0h1m-84 1h1m87 0h1m635 0h1m-730 1h1m206 0h1m-213 1h1m102 0h1m103 0h1m531 0h1m-745 1h1m206 0h1m541 0h1m-755 1h1m117 0h1m88 0h1m-213 1h1m127 0h1m78 0h1m556 0h1m-770 1h1m206 0h1m566 0h1m-780 1h1m142 0h1m63 0h1m-213 1h1m152 0h1m53 0h1m581 0h1m-795 1h1m206 0h1m-45 1h1m38 0h1m596 0h1m-603 1h1m606 0h1m-637 1h1m23 0h1m-20 1h1m13 0h1m621 0h1m-628 1h1m-6 1h1m0 0h1m-12 1h1m4 0h1m10 0h1m-22 1h1m-6 1h1m30 0h1m-37 1h1m516 0h1m-523 1h1m45 0h1m-52 1h1m55 0h1m475 0h1m-538 1h1m541 0h1m-548 1h1m70 0h1m-77 1h1m80 0h1m475 0h1m-563 1h1m566 0h1m-573 1h1m95 0h1m-102 1h1m581 0h1m-588 1h1m110 0h1m-117 1h1m120 0h1m475 0h1m-603 1h1m606 0h1m-613 1h1m135 0h1m70 0h1m-213 1h1m145 0h1m60 0h1m414 0h1m-628 1h1m206 0h1m-213 1h1m160 0h1m45 0h1m-6 1h1m-37 1h1m25 0h1m4 0h1m-27 1h1m15 0h1m-6 1h1m-7 1h1m0 0h1m-6 1h1m-6 1h1m13 0h1m-20 1h1m23 0h1m-30 1h1m348 0h1m-355 1h1m38 0h1m319 0h1m-365 1h1m48 0h1m-55 1h1m373 0h1m-380 1h1m63 0h1m-70 1h1m388 0h1m-395 1h1m78 0h1m319 0h1m-405 1h1m88 0h1m-95 1h1m413 0h1m-420 1h1m103 0h1m-110 1h1m113 0h1m-125 1h1m4 0h1m-11 1h1m133 0h1m-140 1h1m-6 1h1m148 0h1m-155 1h1m158 0h1m4 2h1m32 0h1m-29 1h1m22 0h1m-6 1h1m-14 1h1m7 0h1m-6 1h1m-6 1h1m6 0h1m-13 1h1m16 0h1m-23 1h1m-6 1h1m31 0h1m159 0h1m-198 1h1m41 0h1m-48 1h1m206 0h1m-213 1h1m56 0h1m-63 1h1m-6 1h1m71 0h1m-83 1h1m4 0h1m81 0h1m-93 1h1m-6 1h1m101 0h1m-108 1h1m111 0h1m-118 1h1m-6 1h1m126 0h1m-133 1h1m-6 1h1m141 0h1m-148 1h1m151 0h1m-158 1h1m161 1h1m4 2h1m4 1h1m4 2h1"/>
<g fill="none" stroke-width="1.2" shape-rendering="crispEdges">
<path stroke="#0020ff" d="M760.5 840.9L698.7 812L674.8 800.3L630.5 777.6L605 765.9L582.5 756.8L557.4 747.4L482.4 722.3L460.6 715.5L437.7 708.8L411.8 701.9L383.1 694.8L261.3 666L152 641.9M752.7 528.3L798.3 534.9L845.4 543L895 552.7L940.8 562.7L992 575L1040.8 587.7L1092.3 602.3L1140.1 616.8L1185.5 631.8L1225.8 646.2L1261.2 660.1L1292.2 673.7L1318.1 686.5L1331 693.8L1341.5 700.2L1350.3 706.1L1359.7 713.2L1367.2 719.7L1372.7 725.2"/>
<path stroke="#00bfff" d="M731.3 846.4L674.6 821.7L598.6 787.5L569.1 775L544.6 765.5L519 756.2L493.8 747.7L455.8 735.2L426.3 725.9L395.6 716.8L361.9 707.4L322.1 696.9L233 674.5L120 648M812.3 517.1L859.8 526.1L905.1 535.6L950 545.8L996 556.9L1041.7 568.7L1087.4 581.3L1131.4 594.1L1175.5 607.8L1216.4 621.2L1257.3 635.5L1293.7 649L1328.4 662.9L1358.1 675.8L1384.5 688.4L1409 701.4L1430.5 714.3"/>
<path stroke="#60ff9f" d="M655.9 827L577 793.2L538.6 777.7L516.3 769.3L491.8 760.6L434.7 741.6L377.7 724.1L310.8 705.3L227.2 683.4L149.8 664.4M845.3 510.8L888.3 519.8L932.5 529.7L978.3 540.5L1023.1 551.8L1068 563.7L1111.5 575.9L1153.6 588.4L1197.6 602L1238.6 615.5L1278.4 629.2L1316.8 643.1L1349.5 655.8L1382.6 669.4L1412 682.4L1440.1 696L1463.1 708.1"/>
<path stroke="#ffff00" d="M547.9 792.3L518.2 780.7L491.4 770.9L454.7 758.2L417 745.7L385.6 735.9L348.5 724.9L268.3 702.5M868.7 506.4L909.4 515.4L955.2 526L997.3 536.3L1043.1 548L1085.8 559.6L1130.7 572.3L1172.6 584.8L1214.9 598L1256 611.4L1295.9 625.1L1333.2 638.4L1367.8 651.5L1402.4 665.4L1432.6 678.3L1462.2 691.8L1486.4 703.7"/>
<path stroke="#ff6000" d="M1420.9 663.3L1464.8 681.9L1485.4 691.1L1504.6 700.2M887 502.9L953.4 518.2L1023.8 535.7"/>
<path stroke="#bf0000" d="M1502.3 689.4L1519.7 697.4M902.2 500.1L940.5 509"/>
</g>
<clipPath id="sc"><path clip-rule="evenodd" d="M1524.3 301.3l-15.6 10.7l-20.7 12.3l-9.3 4.7l-0.7 0.7l-5.3 2.3l-0.7 0.7l-0.7 0l-5 2.6l-0.6 0l-2.4 1.4l-0.6 0l-11 5l-10.4 3.6l-1 0.7l-11 3.7l-1 0l-10.3 3.3l-5 1l-1.3 0.7l-1.4 0l-4.3 1.3l-1.3 0l-1.7 0.7l-1.3 0l-1.7 0.6l-1.7 0l-5.3 1.4l-1.7 0l-0.3 0.3l-1.7 0l-4.3 1l-2 0l-0.3 0.3l-2 0l-0.4 0.4l-2 0l-0.3 0.3l-2.3 0l-0.4 0.3l-9.3 0.7l-0.3 0.3l-4 0l-0.4 0.4l-4.6 0l-0.4 0.3l-26 0.3l-0.3-0.3l-8 0l-0.3-0.3l-9.7-0.4l-0.3-0.3l-3.4 0l-0.3-0.3l-3 0l-0.3-0.4l-11-1l-0.4-0.3l-9-1l-0.3-0.3l-5.7-0.7l-5.6-1.3l-1.7 0l-3.3-1l-1.7 0l-6.3-1.7l-1.4 0l-3-1l-1.3 0l-9.3-2.3l-1.4-0.7l-3.6-0.7l-7-2.3l-1 0l-21.7-7l-1-0.7l-7.3-2.3l-4.4-2l-9.3-3.3l-1.7-1l-2.3-0.7l-7-3.3l-3-1l-6-3l-0.7 0l-0.6-0.7l-0.7 0l-5.7-3l-0.6 0l-0.7-0.7l-1.3-0.3l-0.7-0.7l-1.3-0.3l-0.7-0.7l-1.3-0.3l-0.7-0.7l-1.3-0.3l-1.4-1l-0.6 0l-0.7-0.7l-5.7-2.6l-0.6-0.7l-9.7-5l-2.3-1.7l-9.7-5.3l-4.3-3l-1.7-0.7l-2.7-2l-4.6-2.6l-1-1l-3.7-2l-7-5l-1-0.4l-2.3-2l-1-0.3l-15-10.7l-22-17l-0.4-0.6l-3.3-2.4l-12.3-10.3l-0.4-0.7l-5.3-4.3l-18.3-16.7l-30.7-30.6l-18-19.7l-19.7-23l-12.6-15.7l-2-3l-1.7-1.6l-6.3-8.7l-1.7-1.7l-0.7-1.3l-12.6-16.7l-2 11l-0.7 1.7l0 1.3l-1.3 5.4l0 1.3l-0.7 1.7l-1.7 9.3l-1.3 4.7l-0.3 3l-3.4 13.3l0 1.3l-1.6 6l0 1.4l-1 3l0 1.3l-1.4 4.3l0 1.4l-1.3 4.3l0 1.3l-3 11l0 1.4l-2.3 9.3l-0.7 1.3l-2 9l-0.7 1.4l-1 5l-0.6 1.3l-0.7 3.7l-1.7 5l-0.3 2.3l-0.7 1.3l0 1l-0.6 1.4l-0.4 2.3l-1.6 4.7l-1.4 5.6l-1 2.4l-0.6 3.3l-1 2.3l0 1l-1 2.4l0 1l-1 2.3l0 1l-1 2.3l0 1l-10.7 32.7l-0.7 1l-1.3 4.7l-0.7 1l-1.6 5.3l-0.7 1l-0.3 1.7l-0.7 1l-0.3 1.6l-0.7 1l-0.3 1.7l-4.7 11.3l-1 3.4l-1 1.6l-2 5.7l-1 1.7l-4 10l-1.3 2.3l0 0.7l-1.4 2.3l0 0.7l-14.3 29l-0.7 0.6l-6 11.4l-3.3 5l-3.3 6l-14 20.6l-15 18.7l-6.4 7l-10.3 10.3l-12 10.7l-9.3 7.3l-9.4 6.7l-18.3 11.3l-20 10.4l-0.7 0l-4.3 2.3l-0.7 0l-7 3.3l-15 6l-1.6 0.4l-1 0.6l-30.4 10l-1 0l-10.6 3.4l-2.4 0.3l-1.3 0.7l-3.7 0.6l-1.3 0.7l-17.3 4.3l-1.4 0l-4.3 1.4l-1.3 0l-3 1l-1.4 0l-7.6 2l-3 0.3l-1.7 0.7l-3 0.3l-1.7 0.7l-14 2.6l-7.3-6.3l-14-11l-14-10.3l-1-0.4l-2.3-2l-10-6.6l-1.7-0.7l-2.7-2l-10.6-6.3l-3-1.4l-2.4-1.6l-3.6-1.7l-4.4-2.7l-18.6-9.3l-0.7 0l-0.7-0.7l-0.6 0l-7.4-3.6l-0.6 0l-2.4-1.4l-0.6 0l-2.4-1.3l-0.6 0l-9.7-4.3l-1.7-0.4l-10.3-4.3l-14-4.7l-16-4l-1.3 0l-8.7-2l-1.7 0l-2-0.6l-12.3-1.7l-0.3-0.3l-10.7-1l-0.3-0.4l-3 0l-0.4-0.3l-3.3 0l-0.3-0.3l-8.7-0.4l-0.3-0.3l-16.7-0.3l-0.3-0.4l-14 0l-0.4 0.4l-11 0l-0.3 0.3l-6.3 0l-0.4 0.3l-9.6 0.4l-0.4 0.3l-7.3 0.3l-0.3 0.4l-6.4 0.3l-0.3 0.3l-2.7 0l-0.3 0.4l-13 1.3l-0.3 0.3l-8.7 1l-0.3 0.4l-11.7 1.6l-2 0.7l-1.7 0l-3.6 1l-1.7 0l-6.7 1.7l-4.6 0.6l-1.7 0.7l-1.3 0l-1.7 0.7l-1.3 0l-5.7 1.6l-1.3 0l-2.7 1l-2.7 0.4l-1.3 0.6l-5 1l-1.3 0.7l-6 1.3l-3.7 1.4l-2.3 0.3l-1.4 0.7l-7 1.6l-3.6 1.4l-2.4 0.3l-1.3 0.7l-2.3 0.3l-1.4 0.7l-5 1l-1.3 0.6l-5 1l-1.3 0.7l-18.7 4.7l-6 2l-2.3 0.3l-0.4 0.7l9.7 25.3l2.3 4.7l3.4 8.3l2 3.7l0 0.6l11.6 22.7l11.7 18.3l6 8l5.3 6.4l11 11l5.7 4.6l7 5l11 6l10 4l10.3 2.7l1.4 0l0.3 0.3l1.3 0l0.4 0.4l1.3 0l0.3 0.3l1.4 0l0.3 0.3l1.3 0l0.4 0.4l1.3 0l0.3 0.3l1.4 0l0.3 0.3l1.3 0l0.4 0.4l1.3 0l0.3 0.3l1.4 0l8.6 2l1.7 0l5.3 1.3l1.7 0l5.3 1.4l1.7 0l8.7 2l5.3 0.6l1.7 0.7l3.3 0.3l7 1.7l1.7 0l1.6 0.7l1.7 0l0.3 0.3l1.4 0l0.3 0.3l1.3 0l8.7 2l1.7 0l5 1.4l1.6 0l3.7 1l1.7 0l2 0.6l8 1l2.3 0.7l2 0l0.3 0.3l2 0l2.4 0.7l2 0l0.3 0.3l11.3 1.4l4.4 1l2 0l0.3 0.3l1.7 0l4.3 1l2 0l2 0.7l9.7 1.3l2 0.7l1.6 0l0.4 0.3l5.3 0.7l5.7 1.3l3.6 0.3l5.7 1.4l2 0l0.3 0.3l1.7 0l0.3 0.3l1.7 0l0.3 0.4l1.7 0l4.3 1l2 0l2.4 0.6l4.3 0.4l2.3 0.6l4.4 0.4l0.3 0.3l17.7 2.7l2 0.6l1.6 0l2 0.7l1.7 0l7 1.7l1.7 0l1.6 0.6l9.4 1.7l3 1l1.3 0l3 1l1.3 0l9.4 2.3l1.3 0.7l3.7 0.7l1.3 0.6l2.3 0.4l1.4 0.6l8 2l2.3 1l1 0l22 7.4l1 0.6l6.7 2l1 0.7l8.6 2.7l1 0.6l1 0l1 0.7l46 15.3l1 0.7l7 2.3l10 4l1.7 1l2.3 0.7l2.4 1.3l0.6 0l7.7 3.7l0.7 0l5 2.7l0.6 0l0.7 0.6l0.7 0l14.3 7.4l0.7 0.6l12.3 6.7l39.7 25l38.3 22l3 1.3l8 4.7l6.3 3l0.7 0.7l41.3 20.6l0.7 0l4 2l5.7 2l1 0l5.3 1.7l5.3 0.7l0.4 0.3l2 0l0.3 0.3l3 0l0.3 0.4l19 0l0.4-0.4l4 0l0.3-0.3l8.3-0.7l0.4-0.3l8-1l1.6-0.7l1.7 0l6.3-1.6l3-0.4l2.7-1l1.3 0l1.4-0.6l1.3 0l2.7-1l1.3 0l2.3-1l1.4 0l1.3-0.7l3.3-0.7l2.4-1l1 0l1.3-0.6l5.7-1.4l4.3-1.6l3.3-0.7l1-0.7l4.4-1l2-1l3.3-0.6l4-1.7l3.3-0.7l5-2l3.4-0.6l5-2l3.3-0.7l1-0.7l1 0l4.3-1.6l1 0l2-1l3.4-0.7l4-1.7l1 0l12-4l3.3-0.6l2-1l1 0l12-4l3.3-0.7l2-1l1 0l7-2.3l1 0l2-1l5.7-1.4l2.3-1l8-2l7-2.3l1.4 0l8.3-2.7l1.3 0l2.4-1l1.3 0l1.3-0.6l14-3.4l1.4-0.6l1.3 0l3-1l1.3 0l1.4-0.7l2.6-0.3l1.4-0.7l3-0.3l1.3-0.7l1.3 0l1.7-0.7l1.3 0l1.7-0.6l3-0.4l1.7-0.6l1.3 0l1.7-0.7l1.3 0l8.7-2l1.6 0l0.4-0.3l5-0.7l3.6-1l13.4-2l2-0.7l3.6-0.3l2-0.7l11.7-1.6l2-0.7l4-0.3l0.3-0.4l3.7-0.3l2-0.7l13.7-2l2-0.6l1.6 0l2-0.7l1.7 0l2-0.7l9-1.3l3.7-1l1.6 0l1.7-0.7l1.7 0l8.3-2l3.3-0.3l3-1l3-0.3l14.4-3.7l1.3 0l1.3-0.7l3.7-0.6l1.3-0.7l1.4 0l2.3-1l2.7-0.3l7-2.4l5.6-1.3l3-1.3l1 0l3.4-1.4l1 0l1-0.6l2-0.4l1-0.6l4.6-1.4l1-0.6l1 0l1-0.7l9.7-3.3l4-2l5.7-2l3-1.7l0.6 0l0.7-0.7l3.7-1.3l2.6-1.7l5-2l0.7-0.6l3.7-1.7l0.6-0.7l1.4-0.3l6-3.7l0.6 0l2.7-2l0.7 0l1-1l3.3-1.6l3-2.4l0.7 0l1-1l6-3.6l8.6-6.4l0.4-0.6l1.3-0.7l2.3-2.3l1-0.4l13-11.3l11.7-11.7l12.3-14.3l9-11.7l9.7-14l14-23.3l10.3-19.7l0-0.6l4-7.7l0-0.7l6-12.3l0-0.7l1-1.6l0-0.7l1-1.7l0-0.6l2-4l0.4-1.7l5-11.3l0.3-1.7l1.3-2.7l0.4-1.6l0.6-1l0.4-1.7l4.6-11.7l1-3.6l1.7-3.7l10.3-31l0-1l4-12l1.4-5.7l0.6-1l0-1l1-2.3l0-1l3.4-10.7l0.6-3.6l1.4-3.7l0.3-2.3l0.7-1.4l0.6-3.6l1.4-3.7l1.3-6.3l2.3-7.7l1.7-6.7l0-1.3l4.7-17.7l0.6-4.3l1-2.7l0-1.3l3.4-13.3l0.3-3l1.7-6l0.3-3l2.3-9l0-1.4l0.4-0.3l1-6.3l0.6-1.7l0.4-3l0.6-1.7z"/></clipPath>
<g clip-path="url(#sc)" fill-rule="evenodd">
<rect x="90" y="80" width="1450" height="760" fill="#00008f"/>
<path fill="#00009f" d="M1525 301l-0.7-0.3l-1 0.3l-5.3 4l-16.3 10.7l-18 10.3l-17.4 8.7l-18 7.6l-19 6.7l-17.6 5l-18.7 4l-17.7 2.7l-13.6 1l-0.4 0.3l-4.6 0l-0.4 0.3l-26 0.4l-0.3-0.4l-18-0.6l-18.3-2l-22.7-3.7l-17-3.7l-22.3-6l-21.7-7l-18.7-7l-17.3-7.3l-21.7-10.3l-18.6-10l-18-10.7l-20-13l-18.4-13l-22-17l-16-13.3l-24-21.7l-30.6-30.7l-18-19.6l-19.7-23l-24.3-30.7l-12.4-17l-1.6-1.3l-0.7 0.3l-2 11l-0.7 1.7l-1.3 8l-6 27.6l-12 50.4l-0.7 1.3l-2 9l-6.6 24.7l-10.4 34.6l-11 33l-11 29l-10.6 25l-14.4 29l-13.3 23l-14 20.7l-15 18.7l-16.7 17.3l-12 10.7l-18.6 14l-18.4 11.3l-19.3 10l-12.7 5.7l-17.6 7l-30.4 10l-37.6 10l-42 9l-21-17l-14-10.4l-13.4-9l-20.3-12l-28.7-14.6l-24.3-10.7l-12-4.7l-14-4.6l-26-6l-24.3-3.7l-13.7-1l-0.3-0.3l-11-0.4l-0.4-0.3l-10.3 0l-0.3-0.3l-25.4 0.3l-0.3 0.3l-11.7 0.4l-0.3 0.3l-4.3 0l-0.4 0.3l-14 1l-25.3 3.4l-26 4.6l-24.7 5.7l-39 11l-39.6 10.3l-1 0.7l0 1l9.6 25.3l7.7 17.4l11.7 22.6l11.6 18.4l11.4 14.3l11 11l12.6 9.7l11.7 6.3l10 4l10.3 2.7l49.4 9.6l5.3 0.7l12 2.7l1.7 0l1.6 0.6l15.4 2.7l5 1.3l19.3 3.4l35 5l36 6.6l27.7 4l34 6l29 6.7l28.6 8.3l33 11.7l1 0l1 0.7l46 15.3l12.4 4.7l21 9l15 7.3l18.6 10.3l46.4 29l25.6 14.7l24 13l46.7 23l12 3.7l9.3 1.3l0.7-0.3l0-1l-21.7-9.7l-13.3-6.7l-6.3-3.6l-11.7-8.4l-8-9.3l-1.3-3.7l0-5.6l0.6-1.4l0-1.3l0.7-0.3l1-2l2.7-2.7l3.6-2.3l6-2.7l6.7-1.7l1-0.6l1.7 0l10-2.4l11-1.3l2.3-0.7l5.3-0.6l0.4 0.3l2.6-0.7l10.7-1l2.7-0.6l51.3-6.4l9-0.3l0.3-0.3l0.4 0.3l0.3-0.3l12.7 0l8.3 1l5.3 1.3l5.7 2.7l6 5.6l3.7 7l2.3 9.4l-0.3 10.6l-0.7 1.4l0 2l-0.7 0.6l-0.3 2.4l-1 1.6l-1 4l-1 1.4l-1.3 4l0 1.6l0.6 0.4l27-8.4l2-1l3.4-0.6l4-1.7l3.3-0.7l5.3-2l7.7-2l2-1l16.3-4.6l2-1l9-2.4l2-1l23-6.6l1.4 0l8.3-2.7l1.3 0l2.4-1l1.3 0l16.7-4.7l39-8.6l29.6-5l2-0.7l11.7-1.7l2-0.6l23.7-3.7l38.6-7.3l21.7-5l25.3-7l29.7-10.4l25.3-11.3l17-9.3l21-14l17.4-14.4l15-14.6l12.3-14.4l9-11.6l9.7-14l14-23.4l10.3-19.6l10-21.4l9.3-22.3l10.4-27.7l10.3-31l5.3-18.6l1.7-4.4l7-26.3l1.3-3.7l10-39.6l0.7-4.4l1-2.6l5.7-26.7l2.3-9l1.3-8l3.7-16.3zM987.3 689l2.4-6l0.6-0.3l2.4-4l1.3-1l1.3-2l1.7-1l0.7-1l1-0.4l0.6-1l5.7-3.6l7-3.7l9.3-3.7l13-3.3l11.4-1.7l12.3-0.3l0.3-0.3l3 0.3l0.7-0.3l0.3 0.3l8.4 0l0.3 0.3l8.3 0.4l20.4 3l14.6 3.3l16.4 5l1.6 1l4.4 1.3l9 4.4l7.3 4.6l4.7 4.4l2.3 3l0 1l1 2l0.3 3l-2 4l-3.3 3.3l-2.7 1.7l-8.3 3.6l-12.3 3.4l-11.4 2l-20 2l-13 0.3l-0.3 0.3l-26.3 0l-0.4-0.3l-13.6-0.3l-0.4-0.4l-4 0l-13.6-1.3l-11.4-1.7l-15.3-3.6l-7.7-3.4l-5.6-4.6l-2-3.4z"/>
<path fill="#0000af" d="M1525 301l-0.7-0.3l-1 0.3l-5.3 4l-16.3 10.7l-18 10.3l-17.4 8.7l-18 7.6l-19 6.7l-17.6 5l-18.7 4l-17.7 2.7l-13.6 1l-0.4 0.3l-4.6 0l-0.4 0.3l-26 0.4l-0.3-0.4l-18-0.6l-18.3-2l-22.7-3.7l-17-3.7l-22.3-6l-21.7-7l-18.7-7l-17.3-7.3l-21.7-10.3l-18.6-10l-18-10.7l-20-13l-18.4-13l-22-17l-16-13.3l-24-21.7l-30.6-30.7l-18-19.6l-19.7-23l-24.3-30.7l-12.4-17l-1.6-1.3l-0.7 0.3l-2 11l-0.7 1.7l-1.3 8l-6 27.6l-12 50.4l-0.7 1.3l-2 9l-6.6 24.7l-10.4 34.6l-11 33l-11 29l-10.6 25l-14.4 29l-13.3 23l-14 20.7l-15 18.7l-16.7 17.3l-12 10.7l-18.6 14l-18.4 11.3l-19.3 10l-12.7 5.7l-17.6 7l-30.4 10l-37.6 10l-42 9l-21-17l-14-10.4l-13.4-9l-20.3-12l-28.7-14.6l-24.3-10.7l-12-4.7l-14-4.6l-26-6l-24.3-3.7l-13.7-1l-0.3-0.3l-11-0.4l-0.4-0.3l-10.3 0l-0.3-0.3l-25.4 0.3l-0.3 0.3l-11.7 0.4l-0.3 0.3l-4.3 0l-0.4 0.3l-14 1l-25.3 3.4l-26 4.6l-24.7 5.7l-39 11l-39.6 10.3l-1 0.7l0 1l9.6 25.3l7.7 17.4l11.7 22.6l11.6 18.4l11.4 14.3l11 11l12.6 9.7l11.7 6.3l6.3 2.7l7.4 2.3l0.3-0.3l31.7 6.6l1.6 0l42.7 8.7l1.7 0l1.6 0.7l8.4 1.3l1 0.7l0.6-0.4l8.7 2l15 2.4l1.3 0.6l0.7-0.3l3.7 1l0.6-0.3l1.4 0.6l2.6 0.4l0.4-0.4l1.6 0.7l25.7 3.7l36 6.6l27.7 4l34 6l29 6.7l28.6 8.3l33 11.7l1 0l1 0.7l46 15.3l12.4 4.7l21 9l15 7.3l18.6 10.3l46.4 29l38.3 21.7l53.3 27l9.7 3.7l0.7-0.4l0-1l-20-9.6l-5-3.7l-8.7-8l-11-13l-11.3-17.3l-13-24.7l-11-25.3l-7-19.4l-15.7-13.6l10-5l13.7-5.4l16-5l2-1l1.3 0l1-0.6l26.7-7l1.6 0l11.7-2.7l2 0l2-0.7l13.3-2l33.7-3.3l21.3-2.7l19.4-4l5.3-1.6l6-3.4l1.3-2.6l-0.3-2.7l-3.3-3.3l-2.7-1.7l-5-2.3l-1 0l-5-2l-6.7-1.7l-13.3-2.3l-13.3-1.4l-6.7 0l-0.3-0.3l-12 0l-0.4 0.3l-0.3-0.3l-0.3 0.3l-15 0.4l-0.4 0.3l-15.3 0.7l-0.3 0.3l-9 0.3l-0.4 0.4l-18 1l-0.3 0.3l-22 1l-0.3 0.3l-7 0l-0.4 0.4l-8 0l-0.3 0.3l-36.3 0.3l-0.4 0.4l-0.3-0.4l-1.3 0.4l-0.4-0.4l-1.3 0.4l-3-0.4l-0.3 0.4l-0.4-0.4l-43.6-0.3l-1-0.3l-40-37l-13.7-12l-3-3l0.7-0.7l17-2.7l2-0.6l0.3 0.3l9-1.7l22.3-2.6l15.4-1l0.3-0.4l0.3 0.4l0.4-0.4l4 0l0.3-0.3l12-0.3l0.3-0.4l0.4 0.4l0.3-0.4l8.3 0l0.4-0.3l18.3 0l0.3-0.3l0.4 0.3l0.3-0.3l1.3 0.3l0.4-0.3l1.3 0.3l2.7-0.3l0.3 0.3l29 0.3l0.3 0.4l7 0l0.4 0.3l21.3 1l0.3 0.3l7.7 0.4l24 2.3l33 4.3l25.3 4.4l25.4 5.6l24.6 6.7l34 10.3l6 1.4l4.7 1.6l1.3 0l1 0.7l1.4 0l3.6 1.3l20.4 4.7l1.3 0.7l27.7 6l1.6 0l1.7 0.6l1.7 0l1.6 0.7l36.7 7l8 2l3.3 0.3l12.4 3l1.6 0l1.4 0.7l13 2.7l1.3 0.6l21 5l21 6l1 0.7l1.3 0l1 0.7l1 0l22.4 7.6l17.3 7l15 7.4l12.3 7.6l6 4.7l6.4 6.7l2.3 3.3l1.7 3.7l0.6 3l0 2.6l-1.3 4.4l-2.3 3.3l-3.4 3.3l-5.3 3.7l-11.3 5.3l-10.4 3.4l-15 3.6l-32 5.4l-41.3 5l-2.3 0.6l-2.4 0l-13.3 2.4l-2 0l-2 0.6l-2 0l-15 3l-17.3 4.7l-15 5.7l-10.4 5.3l-7.3 4.7l-0.3 0.6l-2.4 1.4l-5 4.3l-16.3 16.7l0 0.6l1 0.7l57.3-17.3l1.4 0l12-3.7l1.3 0l6.3-2l16-3.7l5.4-1.6l3-0.4l1.3-0.6l34.3-7l5.7-0.7l31-5.7l6-0.6l4-1l2 0l2-0.7l7.7-1l22-4.3l1.6 0l1.7-0.7l1.7 0l20.6-4.3l30-7.7l16.4-5l9.6-3.7l1 0l20.4-8l10.6-5.3l5-2l13.7-7.3l18.3-11.7l8.7-6.3l0.3-0.7l9-7l8.7-7.7l11.7-11.6l16.3-19.4l14.7-20.6l7.6-12.4l10-17.6l13.7-27.7l12.3-29l13.7-37.3l14-44.4l12-44l10-41.3l9-41.3z"/>
<path fill="#0000bf" d="M1525 301l-0.7-0.3l-1 0.3l-5.3 4l-16.3 10.7l-18 10.3l-17.4 8.7l-18 7.6l-19 6.7l-17.6 5l-18.7 4l-17.7 2.7l-13.6 1l-0.4 0.3l-4.6 0l-0.4 0.3l-26 0.4l-0.3-0.4l-18-0.6l-18.3-2l-22.7-3.7l-17-3.7l-22.3-6l-21.7-7l-18.7-7l-17.3-7.3l-21.7-10.3l-18.6-10l-18-10.7l-20-13l-18.4-13l-22-17l-16-13.3l-24-21.7l-30.6-30.7l-18-19.6l-19.7-23l-24.3-30.7l-12.4-17l-1.6-1.3l-0.7 0.3l-2 11l-0.7 1.7l-1.3 8l-6 27.6l-12 50.4l-0.7 1.3l-2 9l-6.6 24.7l-10.4 34.6l-11 33l-11 29l-10.6 25l-14.4 29l-13.3 23l-14 20.7l-15 18.7l-16.7 17.3l-12 10.7l-18.6 14l-18.4 11.3l-19.3 10l-12.7 5.7l-17.6 7l-30.4 10l-37.6 10l-42 9l-21-17l-14-10.4l-13.4-9l-20.3-12l-28.7-14.6l-24.3-10.7l-12-4.7l-14-4.6l-26-6l-24.3-3.7l-13.7-1l-0.3-0.3l-11-0.4l-0.4-0.3l-10.3 0l-0.3-0.3l-25.4 0.3l-0.3 0.3l-11.7 0.4l-0.3 0.3l-4.3 0l-0.4 0.3l-14 1l-25.3 3.4l-26 4.6l-24.7 5.7l-39 11l-39.6 10.3l-1 0.7l0 1l9.6 25.3l7.7 17.4l11.7 22.6l11.6 18.4l11.4 14.3l11 11l12.6 9.7l11.7 6.3l14.7 3.3l1.6 0l1.7 0.7l100 20l54 9.7l1.3 0.6l0.7-0.3l3 1l0.7-0.3l1.3 0.6l0.3-0.3l5.4 1.3l0.3-0.3l1.3 0.7l14.7 2.6l27.7 4l34 6l29 6.7l28.6 8.3l33 11.7l1 0l1 0.7l46 15.3l22 8.7l18.4 8.3l13.6 7l13 7.3l39.7 25l32.3 18.7l24 13l41.4 20.7l0.6-0.4l-0.3-1.3l-3.7-1.7l-7.6-5l-5-4l-6.7-6.3l-11-13l-6-8.7l-9.7-16.3l-8.6-17l-11-25.3l-7-19.4l-64-55.3l-73-67l-18-16l-11.7-9.7l0.3-0.6l38-5l0.4 0.3l6.6-1l21.7-1.3l0.3-0.4l23.4-0.6l0.3-0.4l42.7 0l0.3 0.4l1-0.4l0.3 0.4l10.7 0l0.3 0.3l21.4 0.7l0.3 0.3l15 0.7l0.3 0.3l24.4 1.7l43.6 5l35.7 5.3l43.3 8l44 10l1.4 0.7l1.3 0l1.3 0.6l17.4 4l27 7.4l1.3 0l12.7 3.6l1.3 0l8.7 2.7l22.6 5.7l28.7 8l1.3 0l11 3.3l1.4 0l8.3 2.7l1.3 0l4.7 1.6l1.3 0l11.7 3.7l14 3.7l1 0.6l18.7 5.4l3 1.3l2.3 0.3l1 0.7l17 5.3l26.3 9.7l21 9l17.7 9l12.3 7.7l10 7.6l6 6l2.7 3.4l2.3 3.6l2 6.4l-0.3 6.3l-3.3 6.3l-2.7 3l-4 3.4l-5.7 3.6l-11.6 5.4l-7.7 2.6l-18 4.7l-23.3 4.3l-34 5l-2.4 0l-2.3 0.7l-2.3 0l-4.7 1l-2.3 0l-21.4 3.3l-2 0.7l-2 0l-15 3l-10.6 2.7l-12.7 4l-11.7 4.6l-14 7l-0.3 1.4l0.7 0.3l32-8.7l29-6.6l41.6-7.7l50.4-8.3l22.3-4.7l3.3-0.3l21.7-5l25.3-7l29.7-10.4l4-2l5.7-2l16.3-7.6l13-7l11.3-7l13-9l9.7-7.7l11-9.7l11.7-11.6l16.3-19.4l14-19.6l8.3-13.4l10-17.6l13.7-27.7l12.3-29l13.7-37.3l14-44.4l12-44l10-41.3l9-41.3z"/>
<path fill="#0000cf" d="M105.7 489l0.6 3l4.4 11.7l10.3 24.6l10 20.4l9.3 16l9.7 14l11.3 13.3l7.4 7l5.6 4.7l11 7.3l6.7 1l14.3 3.3l1.7 0l27.7 6l1.6 0l21.4 4.7l10 1.7l1.6 0.6l16.4 3l17.6 4l80.7 16.4l70.7 12.6l29 6.7l28.6 8.3l33 11.7l1 0l1 0.7l46 15.3l12.4 4.7l21 9l15 7.3l18.6 10.3l39.7 25l30 17.4l14.3 7.6l44.4 22l1-0.3l-0.4-1l-4-2.7l-7.3-6.3l-6.7-7l-7.3-9l-8.3-12.3l-7.4-12.7l-10.6-21.3l-9-21l-7-19.4l-58-50l-79-72.3l-18-16l-23-19.3l-23.4-18l-18-12.4l-20.3-12l-28.7-14.6l-18.6-8.4l-17.7-7l-14-4.6l-16-4l-19.7-3.7l-21-2.7l-12.3-0.6l-0.3-0.4l-6 0l-0.4-0.3l-24.6-0.3l-0.4 0.3l-11 0l-0.3 0.3l-11.7 0.4l-0.3 0.3l-4.3 0l-0.4 0.3l-14 1l-25.3 3.4l-21 3.6l-29.7 6.7l-39 11l-31.3 8l-6 2l-2.3 0.3zM908 94l-8 39.3l-8.7 37.7l-3 11l0 1.3l-11.6 44.4l-12.4 41l-11.3 33l-8 21l-8.7 20.6l-9.3 20l-7.7 15l-13.3 23l-14 20.7l-8 10.3l-9.7 11.4l-18.3 18.3l-17 14l-13.3 9.3l-12 7.4l-21.7 11.3l-27.7 11.7l-21.6 7.3l0 0.7l0.6 0.3l27.4 0l0.3 0.3l0.7-0.3l0.3 0.3l18.7 0.4l0.3 0.3l6.7 0l0.3 0.3l22.3 1l0.4 0.4l4.3 0l0.3 0.3l4.4 0l16 1.7l3.6 0l31.4 3.3l25.6 3.7l2.4 0l22.3 3.3l8.3 1.7l2 0l21 4l5.7 0.6l1.7 0.7l1.6 0l23.7 4.7l1.7 0.6l20 4l3 1l3 0.4l1.3 0.6l10.3 2l4 1.4l4.4 0.6l2.6 1l1.4 0l13.6 3.7l5.4 1l1.3 0.7l1.3 0l1.4 0.6l1.3 0l9 2.7l5.3 1l79.7 21.7l58.3 17.3l1 0.7l13.7 4l1 0.6l4 1l30 10.4l2.7 1.3l12.3 4.3l1.7 1l2.6 0.7l19 8l27.7 13.7l10 6l10.7 7.3l9 7.7l5.6 6.3l4 6.3l0 1l0.7 0.7l1.3 4.7l0 5.6l-1 3.4l-3 5.3l-5.3 5.3l-4 2.7l0 0.7l0.7 0.3l1.6 0l24.7-8.7l25.3-11.3l13.7-7.3l4.3-3l3.4-1.7l19.3-13.3l18-15.4l11.7-11.6l12.3-14.4l9-11.6l9.7-14l14-23.4l10.3-19.6l10-21.4l9.3-22.3l10.4-27.7l10.3-31l5.3-18.6l1.7-4.4l7-26.3l1.3-3.7l10-39.6l0.7-4.4l1-2.6l5.7-26.7l2.3-9l1.3-8l3.7-16.3l0-1.7l-0.7-0.3l-1 0.3l-5.3 4l-16.3 10.7l-18 10.3l-17.4 8.7l-18 7.6l-19 6.7l-17.6 5l-18.7 4l-17.7 2.7l-13.6 1l-0.4 0.3l-4.6 0l-0.4 0.3l-26 0.4l-0.3-0.4l-18-0.6l-18.3-2l-22.7-3.7l-17-3.7l-22.3-6l-21.7-7l-18.7-7l-17.3-7.3l-21.7-10.3l-18.6-10l-18-10.7l-20-13l-18.4-13l-22-17l-16-13.3l-24-21.7l-30.6-30.7l-18-19.6l-19.7-23l-24.3-30.7l-12.4-17l-1.6-1.3z"/>
<path fill="#0000df" d="M105.7 489l0.6 3l4.4 11.7l10.3 24.6l10 20.4l7 12.3l11 16.3l8.7 10.7l11 11l9 7l83.3 17l9.7 2.3l3.3 0.4l3 1l1.7 0l95.3 20.6l72 14.4l28.7 6.6l1 0.7l0.3-0.3l1 0.6l0.3-0.3l1 0.7l0.4-0.4l1 0.7l0.3-0.3l1 0.6l0.3-0.3l1 0.7l6.4 1.3l24.6 7.3l33 11.7l1 0l1 0.7l46 15.3l12.4 4.7l21 9l15 7.3l18.6 10.3l22.7 14l11 7.4l28.3 16l59.7 29.6l1-0.3l0-0.7l-5-4.3l-6.7-7l-7.3-9l-6-8.7l-8-13.3l-10.3-20l-5-11l-9-22l-4-11.7l-58-50l-79-72.3l-18-16l-23-19.3l-23.4-18l-18-12.4l-20.3-12l-28.7-14.6l-18.6-8.4l-17.7-7l-14-4.6l-16-4l-19.7-3.7l-21-2.7l-12.3-0.6l-0.3-0.4l-6 0l-0.4-0.3l-24.6-0.3l-0.4 0.3l-11 0l-0.3 0.3l-11.7 0.4l-0.3 0.3l-4.3 0l-0.4 0.3l-14 1l-25.3 3.4l-21 3.6l-29.7 6.7l-39 11l-31.3 8l-6 2l-2.3 0.3zM908 94l-8 39.3l-8.7 37.7l-3 11l0 1.3l-11.6 44.4l-10.4 34.6l-11 33l-14 36.4l-10.6 24l-13.4 26.3l-11.3 19.3l-14 20.7l-15 18.7l-16.7 17.3l-17 14.7l-17.6 12.6l-21 12.4l-17.7 8.6l-9 3.7l0 0.7l50.3 3.3l27.7 2.7l14.7 2l3 0l2.6 0.6l27.4 3.4l2.3 0.6l2.3 0l23.7 4l2 0l53.3 9.7l49.4 10.7l11.3 3l7 1.3l2.7 1l7 1.3l16 4.4l1.3 0l2.3 1l1.4 0l1.3 0.6l16.7 4l3.6 1.4l2.7 0.3l2.3 1l2.7 0.3l18.3 5.4l6.4 1.3l1 0.7l6 1.3l4.6 1.7l1.4 0l5.6 2l1.4 0l25.3 7.6l4.7 1l3.3 1.4l2.3 0.3l1 0.7l26 7.6l33.7 11l1 0.7l1 0l3 1.3l1 0l5.7 2.4l1 0l40 15l17.3 7.3l14.3 6.7l13.7 7l14 8l10.3 7l10.4 8.3l4.6 4.7l4.7 5.6l4.3 7.7l1 3.3l0.4 7l-1.4 4.4l0 1.3l0.7 0.3l16.3-7.3l13.7-7.3l11.3-7l15.7-11l18-15.4l11.7-11.6l12.3-14.4l9-11.6l9.7-14l14-23.4l10.3-19.6l10-21.4l9.3-22.3l10.4-27.7l10.3-31l5.3-18.6l1.7-4.4l7-26.3l1.3-3.7l10-39.6l0.7-4.4l1-2.6l5.7-26.7l2.3-9l1.3-8l3.7-16.3l0-1.7l-0.7-0.3l-1 0.3l-5.3 4l-16.3 10.7l-18 10.3l-17.4 8.7l-18 7.6l-19 6.7l-17.6 5l-18.7 4l-17.7 2.7l-13.6 1l-0.4 0.3l-4.6 0l-0.4 0.3l-26 0.4l-0.3-0.4l-18-0.6l-18.3-2l-22.7-3.7l-17-3.7l-22.3-6l-21.7-7l-18.7-7l-17.3-7.3l-21.7-10.3l-18.6-10l-18-10.7l-20-13l-18.4-13l-22-17l-16-13.3l-24-21.7l-30.6-30.7l-18-19.6l-19.7-23l-24.3-30.7l-12.4-17l-1.6-1.3z"/>
<path fill="#0000ef" d="M105.7 489l0.6 3l4.4 11.7l10.3 24.6l10 20.4l6 10.6l9.3 14.4l7.4 9.6l7.6 8.7l7.4 7l2.3 1.7l49.3 10.6l52.4 10.7l101.6 22.7l11 2l49 10.6l39 9.7l31.7 9.3l32.3 11.4l52 17.3l14 5.7l1 0l23.4 10l15 7.3l11.6 6.3l15.4 9l19 12l20 11l68 33.7l1 0.3l0.6-0.3l0-0.7l-8-8.6l-8.6-11.4l-12.4-20.3l-8.6-17l-5-11l-9-22l-4-11.7l-58-50l-79-72.3l-18-16l-23-19.3l-23.4-18l-18-12.4l-20.3-12l-28.7-14.6l-18.6-8.4l-17.7-7l-14-4.6l-16-4l-19.7-3.7l-21-2.7l-12.3-0.6l-0.3-0.4l-6 0l-0.4-0.3l-24.6-0.3l-0.4 0.3l-11 0l-0.3 0.3l-11.7 0.4l-0.3 0.3l-4.3 0l-0.4 0.3l-14 1l-25.3 3.4l-21 3.6l-29.7 6.7l-39 11l-31.3 8l-6 2l-2.3 0.3zM908 94l-8 39.3l-8.7 37.7l-3 11l0 1.3l-10 38.4l-10.3 35.3l-10.7 32.7l-12.3 33l-11.3 26.6l-10.4 21.4l-10.6 19.6l-15.7 24.7l-13 17.3l-13.3 15.4l-14.7 14.3l-17 14l-13.3 9.3l-14.4 8.7l-10.3 5.3l0 0.7l41.3 3.7l51.4 6.3l28.6 4.3l12.4 2.4l2 0l58.6 11l53 11.6l40.7 10l16.7 4.7l2.6 0.3l52.4 14.4l64.6 19.3l37.7 12.3l44.3 16l1.7 1l15 5.7l20.7 9l27 13.3l20.3 12.4l7 5l7.7 6.3l8.3 8.3l4.7 6.4l3.3 7l1 5.3l1 0.7l8-4l4.3-3l3.4-1.7l19.3-13.3l18-15.4l11.7-11.6l12.3-14.4l9-11.6l9.7-14l14-23.4l10.3-19.6l10-21.4l9.3-22.3l10.4-27.7l10.3-31l5.3-18.6l1.7-4.4l7-26.3l1.3-3.7l10-39.6l0.7-4.4l1-2.6l5.7-26.7l2.3-9l1.3-8l3.7-16.3l0-1.7l-0.7-0.3l-1 0.3l-5.3 4l-16.3 10.7l-18 10.3l-17.4 8.7l-18 7.6l-19 6.7l-17.6 5l-18.7 4l-17.7 2.7l-13.6 1l-0.4 0.3l-4.6 0l-0.4 0.3l-26 0.4l-0.3-0.4l-18-0.6l-18.3-2l-22.7-3.7l-17-3.7l-22.3-6l-21.7-7l-18.7-7l-17.3-7.3l-21.7-10.3l-18.6-10l-18-10.7l-20-13l-18.4-13l-22-17l-16-13.3l-24-21.7l-30.6-30.7l-18-19.6l-19.7-23l-24.3-30.7l-12.4-17l-1.6-1.3z"/>
<path fill="#0000ff" d="M105.7 489l0.6 3l4.4 11.7l9 21.6l15 30l5.6 9.4l9.7 14l11.3 13.3l2.7 2.7l1.7 1l51 10.6l1.6 0.7l4.7 0.7l3 1l5 0.6l20.3 4.7l6.4 1l3 1l25.6 5.3l3 1l23.7 5l48.7 11.4l53.3 11.6l38 9.4l38.3 11l35.7 12l1 0.6l1 0l4 1.7l1 0l2 1l1 0l37.7 12.7l24 9l20 8.3l11.6 5.3l18.4 9.4l35 20.3l28.6 15l60 29l0.7-0.3l0-1l-8-9.7l-6-8.7l-12.7-22l-5.6-11.3l-7-15.7l-7-17.3l-4-11.7l-64-55.3l-85.4-78l-32-27l-20-15.3l-18-12.4l-12.6-7.6l-15.7-8.7l-25-12.3l-18.3-8l-18.4-7l-1 0l-8.3-3l-16-4l-19.7-3.7l-21-2.7l-12.3-0.6l-0.3-0.4l-6 0l-0.4-0.3l-24.6-0.3l-0.4 0.3l-11 0l-0.3 0.3l-11.7 0.4l-0.3 0.3l-4.3 0l-0.4 0.3l-14 1l-25.3 3.4l-21 3.6l-29.7 6.7l-39 11l-31.3 8l-6 2l-2.3 0.3zM908 94l-8 39.3l-8.7 37.7l-3 11l0 1.3l-10 38.4l-10.3 35.3l-10.7 32.7l-9.3 25.3l-11.7 28.3l-9.3 20l-13 24.7l-10.3 17l-11.7 17l-13 16.3l-8.3 9.4l-17.7 17l-14 11.3l-13.3 9.3l-7.4 4.4l0 0.6l2.7 0.7l10 0.7l29.7 3.6l2.6 0l5 1l2.7 0l33 4.7l4.3 1l18.7 2.7l7.7 1.6l2 0l2 0.7l2 0l11 2.3l18 3l8.6 2l1.7 0l15 3.4l1.7 0l1.6 0.6l15.7 3l3 1l1.7 0l3 1l1.6 0l7.4 2l3 0.4l1.3 0.6l3 0.4l40.7 10l1.3 0l5 1.6l1.3 0l33.7 8.7l3.7 1.3l32.6 8.7l18.7 5.7l1.3 0l49.7 15l40.7 13.3l1 0.7l2 0.3l1 0.7l1 0l8.6 3.3l1 0l41.4 15.3l23.3 9.7l17.7 8l25 12.7l15 9l14 10l6.3 5.3l8.3 8.3l5.4 7.4l2.3 5l1 0.6l3.3-1.6l15.7-11l18-15.4l11.7-11.6l12.3-14.4l9-11.6l9.7-14l14-23.4l10.3-19.6l10-21.4l9.3-22.3l10.4-27.7l10.3-31l5.3-18.6l1.7-4.4l7-26.3l1.3-3.7l10-39.6l0.7-4.4l1-2.6l5.7-26.7l2.3-9l1.3-8l3.7-16.3l0-1.7l-0.7-0.3l-1 0.3l-5.3 4l-16.3 10.7l-18 10.3l-17.4 8.7l-18 7.6l-19 6.7l-17.6 5l-18.7 4l-17.7 2.7l-13.6 1l-0.4 0.3l-4.6 0l-0.4 0.3l-26 0.4l-0.3-0.4l-18-0.6l-18.3-2l-22.7-3.7l-17-3.7l-22.3-6l-21.7-7l-18.7-7l-17.3-7.3l-21.7-10.3l-18.6-10l-18-10.7l-20-13l-18.4-13l-22-17l-16-13.3l-24-21.7l-30.6-30.7l-18-19.6l-19.7-23l-24.3-30.7l-12.4-17l-1.6-1.3z"/>
<path fill="#0010ff" d="M105.7 489l2 6.7l7.6 19.6l7.7 17.4l8 16l7 12.3l8.3 12.7l9 11.6l5 5l104.7 22.4l3 1l7.3 1.3l7.4 2l22 4.7l8.6 2.3l4.4 0.7l4.3 1.3l4.3 0.7l4.4 1.3l4.3 0.7l4.3 1.3l4.4 0.7l13 3.3l43.3 9.7l54 13.6l41.7 12.7l18.6 6.7l52.7 17.3l20.7 7.7l27.6 11.3l29.7 14.3l36 20l35.7 18l50.6 24l1-0.3l0-1l-6.6-8.7l-8-12.6l-13-24.7l-11-25.3l-7-19.4l-64-55.3l-85.4-78l-32-27l-20-15.3l-22.3-15l-24-13.7l-28.7-14l-16.3-7l-20.7-7.7l-15.6-4.3l-15.7-3.3l-16.3-2.7l-22-2.3l-11-0.4l-0.4-0.3l-10.3 0l-0.3-0.3l-14 0l-0.4 0.3l-11 0l-0.3 0.3l-11.7 0.4l-0.3 0.3l-4.3 0l-0.4 0.3l-14 1l-25.3 3.4l-21 3.6l-29.7 6.7l-39 11l-31.3 8l-6 2l-2.3 0.3zM908 94l-6.3 31.7l-7.7 34l-8 33l-10 37.3l-11.7 38.7l-9 26.6l-11 29l-10.6 25l-10.4 21.4l-10.6 19.6l-9 14.7l-14.7 21l-14.7 17.7l-14 14.3l-12 10.7l-9.3 7.3l-6.3 4.3l-0.4 1l2 0.7l11.4 1l2.6 0.7l2.7 0l28 4l2.3 0l28.7 4.3l18.3 3.3l2 0l22.4 4.4l3.6 0.3l7 1.7l2 0l6.7 1.6l8.7 1.4l1.6 0.6l22.7 4.4l9.3 2.3l1.7 0l39.7 9l11 3l4.3 0.7l1.3 0.6l13.7 3l7.7 2.4l1.3 0l10.3 3l1.4 0l7.6 2.3l6.4 1.3l7.3 2.4l7.7 1.6l4.6 1.7l26.4 7l4.6 1.7l2.4 0.3l31.6 9.3l1 0.7l2.4 0.3l7.6 2.7l3.4 0.7l1 0.6l31.3 9.7l47.7 16.3l2.6 1.4l7.4 2.3l22.6 8.7l2.4 1.3l10 3.7l18.6 8l33.7 16.3l14 8l12 7.7l10.3 7.6l6.7 5.7l9.3 9.7l4 5.6l0.7 0.4l6-4l18-15.4l11.7-11.6l12.3-14.4l9-11.6l9.7-14l14-23.4l10.3-19.6l10-21.4l9.3-22.3l10.4-27.7l10.3-31l5.3-18.6l1.7-4.4l7-26.3l1.3-3.7l10-39.6l0.7-4.4l1-2.6l5.7-26.7l2.3-9l1.3-8l3.7-16.3l0-1.7l-0.7-0.3l-1 0.3l-5.3 4l-16.3 10.7l-18 10.3l-17.4 8.7l-18 7.6l-19 6.7l-17.6 5l-18.7 4l-17.7 2.7l-13.6 1l-0.4 0.3l-4.6 0l-0.4 0.3l-26 0.4l-0.3-0.4l-18-0.6l-18.3-2l-22.7-3.7l-17-3.7l-22.3-6l-21.7-7l-18.7-7l-17.3-7.3l-21.7-10.3l-18.6-10l-18-10.7l-20-13l-18.4-13l-22-17l-16-13.3l-24-21.7l-30.6-30.7l-18-19.6l-19.7-23l-24.3-30.7l-12.4-17l-1.6-1.3z"/>
<path fill="#0020ff" d="M105.7 489l2 6.7l7.6 19.6l7.7 17.4l8 16l7 12.3l8.3 12.7l7.4 9.6l2.3 1.7l45.7 9.7l6 1.6l9.3 1.7l3 1l4.7 0.7l4.6 1.3l1.7 0l16.7 4l4.6 0.7l4.4 1.3l22 4.7l4.3 1.3l4.3 0.7l24.4 6l10 2l1.3 0.6l10 2l1.3 0.7l3 0.3l1.4 0.7l4.3 0.7l5.7 1.6l34 7.7l1.3 0.7l20.7 4.6l1.3 0.7l1.3 0l31 8l28 8l1 0.7l18 5.3l1 0.7l1 0l2 1l1 0l2 1l1 0l8 3l59.7 19.6l41.7 16l26.6 12l23.4 12l19.3 10.7l32.7 16.3l58.3 27.4l1.3-0.4l0-0.6l-2.6-3.4l-8-12.6l-13-24.7l-11-25.3l-7-19.4l-64-55.3l-85.4-78l-32-27l-20-15.3l-22.3-15l-24-13.7l-28.7-14l-16.3-7l-20.7-7.7l-15.6-4.3l-15.7-3.3l-16.3-2.7l-22-2.3l-11-0.4l-0.4-0.3l-10.3 0l-0.3-0.3l-14 0l-0.4 0.3l-11 0l-0.3 0.3l-11.7 0.4l-0.3 0.3l-4.3 0l-0.4 0.3l-14 1l-25.3 3.4l-21 3.6l-29.7 6.7l-39 11l-31.3 8l-6 2l-2.3 0.3zM908 94l-6.3 31.7l-7.7 34l-8 33l-10 37.3l-9.7 32.3l-9 27.4l-9.3 25.3l-11.7 28.3l-9.3 20l-9.7 18.7l-11.3 19.3l-11.3 17l-10.7 14l-13.3 15.4l-14.7 14.3l-12.3 10.3l0 0.7l28.3 4l2.3 0l13.7 2.3l2.3 0l56 9.4l1.7 0.6l10.7 1.7l3.3 1l2 0l20.3 4.3l1.7 0l1.7 0.7l1.6 0l1.7 0.7l11.3 2l13.7 3.3l1.7 0l6 1.7l7.6 1.3l1.4 0.7l1.6 0l2.7 1l4.7 0.6l2.6 1l4.4 0.7l18.3 4.3l1.3 0.7l8.4 1.7l1.3 0.6l1.3 0l8 2.4l1.4 0l2.6 1l19.7 4.6l11.3 3.4l2.7 0.3l2.3 1l2.7 0.3l2.3 1l5 1l3.7 1.4l1.3 0l17.7 5.3l0.3-0.3l2.4 1l2.3 0.3l5.7 2l1.3 0l8 2.7l1.3 0l2 1l0.4-0.4l4.3 1.7l1.3 0l1 0.7l8 2l1 0.6l2.4 0.4l1 0.6l26.3 7.7l3 1.3l2.3 0.4l1 0.6l1 0l31.7 10.4l1 0.6l2 0.4l1 0.6l1 0l1 0.7l1 0l1 0.7l1 0l31.3 11l2.7 1.3l2 0.3l1.7 1l11.6 4l25.4 10.4l1.6 0.3l32 14l22.7 11.3l21.7 12.7l9 6l9.3 7l11.3 10.3l4.7 5.4l1.3 0.3l1.7-1l11-9.7l11.7-11.6l12.3-14.4l10.7-14l12-18l10-17l10.3-19.6l10-21.4l9.3-22.3l10.4-27.7l10.3-31l5.3-18.6l1.7-4.4l7-26.3l1.3-3.7l10-39.6l0.7-4.4l1-2.6l5.7-26.7l2.3-9l1.3-8l3.7-16.3l0-1.7l-0.7-0.3l-1 0.3l-5.3 4l-16.3 10.7l-18 10.3l-17.4 8.7l-18 7.6l-19 6.7l-17.6 5l-18.7 4l-17.7 2.7l-13.6 1l-0.4 0.3l-4.6 0l-0.4 0.3l-26 0.4l-0.3-0.4l-18-0.6l-18.3-2l-22.7-3.7l-17-3.7l-22.3-6l-21.7-7l-18.7-7l-17.3-7.3l-21.7-10.3l-18.6-10l-18-10.7l-20-13l-18.4-13l-22-17l-16-13.3l-24-21.7l-30.6-30.7l-18-19.6l-19.7-23l-24.3-30.7l-12.4-17l-1.6-1.3z"/>
<path fill="#0030ff" d="M105.7 489l2 6.7l7.6 19.6l7.7 17.4l8 16l9.3 16l9.7 14l1 0.6l8.7 1.7l3 1l0.3-0.3l3 1l34.7 7.3l7.6 2l7.7 1.3l15 3.7l3.3 0.3l10.4 2.7l1.6 0l4.4 1.3l36 8l1.3 0.7l8.7 1.7l1.3 0.6l8.7 1.7l1.3 0.7l12.7 2.6l8.3 2.4l4.3 0.6l8.4 2.4l5.6 1l1.4 0.6l15.3 3.4l1.3 0.6l8.4 1.7l9.6 2.7l1.4 0l58.6 15.3l36 11l77.7 26l27.7 10.3l1.6 1l15.7 6l24.3 11l28.4 14.4l5 3l33.3 16.6l14.7 6.7l1.3 1l50.7 23.3l0.6-0.3l0-1l-3.6-5.3l-7.4-12.7l-8.6-17l-11-25.3l-7-19.4l-64-55.3l-59-54.3l-32-28.7l-32.7-27l-21.7-16l-22.6-14.3l-15.7-8.7l-20.7-10.3l-14-6.4l-22.3-9l-14-4.6l-16-4l-13.7-2.7l-20.6-3l-13.7-1l-0.3-0.3l-4.7 0l-0.3-0.4l-16.7-0.3l-0.3-0.3l-25.4 0.3l-0.3 0.3l-6.3 0l-0.4 0.4l-17.3 1l-23 2.6l-35 6l-31 7.4l-32.7 9.3l-31.3 8l-6 2l-2.3 0.3zM908 94l-6.3 31.7l-7.7 34l-8 33l-0.7 1.3l-2 9l-6.6 24.7l-8.7 29.3l-10.7 32.7l-16 42l-7.6 17.6l-10.4 21.4l-10.6 19.6l-9 14.7l-11.7 17l-13 16.3l-8.3 9.4l-10.4 10.3l-6.6 6l0 0.7l4 1l7.3 0.6l31.7 4.7l41.3 7l5.3 1.3l3.7 0.4l1.7 0.6l2 0l1.6 0.7l2 0l3.4 1l2 0l8.3 2l12 2l1.7 0.7l13 2.3l3 1l1.6 0l26.4 6l1.6 0l4.4 1.3l3 0.4l1.3 0.6l14.7 3l1.3 0.7l15.7 3.3l12 3.4l5.6 1l3.7 1.3l17.3 4l12.7 3.7l2.7 0.3l5 1.7l10 2.3l3.6 1.3l1.4 0l4.6 1.7l11 2.7l4.7 1.6l3.7 0.7l3.3 1.3l1.3 0l10.4 3.4l7 1.6l24.6 7.7l2.4 0.3l5.3 2l3.3 0.7l2 1l6.7 1.7l4 1.6l1.3 0l7 2.7l1.4 0l38.3 13l1 0l45.7 16.3l34.3 13.7l27.3 12l25.7 12.7l24.7 14.3l19 13.7l12.3 11.3l1.3-0.3l14.4-14l10.6-12.4l10.7-13.6l9.7-14l7.6-12.4l13.4-24l10.3-21.3l7-16l0.3-1.7l4.4-9.6l3.6-10.4l2-4.3l8.7-24.3l8.7-26.7l8.6-29.3l0.7-3.7l8-28.7l6.3-25.6l0.7-4.4l1-2.6l5.7-26.7l2.3-9l1.3-8l3.7-16.3l0-1.7l-0.7-0.3l-1 0.3l-5.3 4l-16.3 10.7l-18 10.3l-17.4 8.7l-18 7.6l-19 6.7l-17.6 5l-18.7 4l-17.7 2.7l-13.6 1l-0.4 0.3l-4.6 0l-0.4 0.3l-26 0.4l-0.3-0.4l-18-0.6l-18.3-2l-22.7-3.7l-17-3.7l-22.3-6l-21.7-7l-18.7-7l-17.3-7.3l-21.7-10.3l-18.6-10l-18-10.7l-20-13l-18.4-13l-22-17l-16-13.3l-24-21.7l-30.6-30.7l-18-19.6l-19.7-23l-24.3-30.7l-12.4-17l-1.6-1.3z"/>
<path fill="#0040ff" d="M105.7 489l0.6 3l4.4 11.7l12.3 29l8 16l6 10.6l8.7 13.4l2 1.3l3 0.3l4.3 1.4l4.7 0.6l4.3 1.4l4.7 0.6l4.3 1.4l4.7 0.6l4.3 1.4l4.7 0.6l13.3 3.4l0.3-0.4l6 1.7l47.7 10.3l4.3 1.4l27 6l1.4 0.6l4.3 0.7l1.3 0.7l5.7 1l1.3 0.6l5.7 1l1.3 0.7l5.7 1l2.7 1l5.6 1l2.7 1l7 1.3l4 1.4l3 0.3l1.3 0.7l11 2.3l6.7 2l4.3 0.7l4 1.3l1.4 0l52.3 13.3l30.7 8.7l21.6 6.7l1 0.6l14.4 4.4l1 0.6l64.6 21.4l19 7l1.7 1l2.7 0.6l25 10l32 14.7l48 24.3l21 9.7l1.3 1l53.7 24.7l1-0.4l-0.4-1.6l-2.6-4l-7.4-13.4l-9.3-19.3l-10.3-25l-4-11.7l-64-55.3l-59-54.3l-32-28.7l-32.7-27l-21.7-16l-22.6-14.3l-15.7-8.7l-20.7-10.3l-14-6.4l-22.3-9l-14-4.6l-16-4l-13.7-2.7l-20.6-3l-13.7-1l-0.3-0.3l-4.7 0l-0.3-0.4l-16.7-0.3l-0.3-0.3l-25.4 0.3l-0.3 0.3l-6.3 0l-0.4 0.4l-17.3 1l-23 2.6l-35 6l-31 7.4l-32.7 9.3l-31.3 8l-6 2l-2.3 0.3zM908 94l-6.3 31.7l-7.7 34l-8 33l-0.7 1.3l-7 27.7l-14 47l-9 26.6l-11 29l-8 19l-9.3 20l-9.7 18.7l-11.3 19.3l-11.3 17l-9.4 12.4l-11 13l-12 12.3l0 0.7l1.4 0.6l16 2l37 6l2 0.7l2 0l2 0.7l29.3 5l3.3 1l2 0l6.7 1.6l7 1l1.7 0.7l11.6 2l1.4 0.7l8.3 1.3l3 1l1.7 0l42.6 9.3l2.7 1l17.3 3.7l4 1.3l7 1.4l25.7 6.6l2.7 0.4l1.3 0.6l10.3 2.4l1 0.6l0.4-0.3l10 3l2.6 0.3l17.4 5l3.6 0.7l14.4 4.3l8.3 2l2.3 1l2.4 0.4l2.3 1l4.7 1l5.6 2l1.4 0l1 0.6l1.3 0l2 1l4.7 1l47 14.4l1 0.6l20.6 6.4l27.7 9.6l5 1.4l4.7 2l25 8.6l10.6 4.4l1 0l5 2.3l3.7 1l1.7 1l16.6 6.3l32.4 14l23.3 11.4l25 14l19.3 13l7.7 6l6.3 6l1.4 0.6l0.6-0.3l6.4-6.3l16.3-19.4l14-19.6l7.3-11.7l11-19.3l6.7-13l10-21.4l8.7-20.6l14.3-39l8.7-26.7l8.6-29.3l0.7-3.7l8-28.7l6.3-25.6l0.7-4.4l1-2.6l5.7-26.7l2.3-9l1.3-8l3.7-16.3l0-1.7l-0.7-0.3l-1 0.3l-5.3 4l-16.3 10.7l-18 10.3l-17.4 8.7l-18 7.6l-19 6.7l-17.6 5l-18.7 4l-17.7 2.7l-13.6 1l-0.4 0.3l-4.6 0l-0.4 0.3l-26 0.4l-0.3-0.4l-18-0.6l-18.3-2l-22.7-3.7l-17-3.7l-22.3-6l-21.7-7l-18.7-7l-17.3-7.3l-21.7-10.3l-18.6-10l-18-10.7l-20-13l-18.4-13l-22-17l-16-13.3l-24-21.7l-30.6-30.7l-18-19.6l-19.7-23l-24.3-30.7l-12.4-17l-1.6-1.3z"/>
<path fill="#0050ff" d="M105.7 489l0.6 3l4.4 11.7l12.3 29l11.7 22.6l7.6 12.4l1.4 0.6l4.3 0.7l3 1l1.7 0l7 2l6.3 1l13 3.3l0.3-0.3l4.4 1.3l10.6 2l7.4 2l1.6 0l7.4 2l6 1l6 1.7l1.6 0l13 3.3l19 4l2.7 1l15.7 3.4l12.3 3.3l1.7 0l2.6 1l5.7 1l4 1.3l7 1.4l57.3 14.3l1.4 0l1.3 0.7l4 0.6l13 3.7l1.3 0l1.4 0.7l35 9l26.3 7.6l24.3 8l1 0l4 1.7l1 0l24.4 8.3l1 0l1 0.7l1 0l1 0.7l1 0l1 0.6l18.3 5.7l1 0.7l21 7l25 9.3l22.3 9l29.4 13.3l42 21l33 15.7l50.6 23l1-0.3l0-1l-7-12.4l-10.6-22.3l-9-22l-4-11.7l-64-55.3l-59-54.3l-32-28.7l-32.7-27l-21.7-16l-22.6-14.3l-15.7-8.7l-20.7-10.3l-14-6.4l-22.3-9l-14-4.6l-16-4l-13.7-2.7l-20.6-3l-13.7-1l-0.3-0.3l-4.7 0l-0.3-0.4l-16.7-0.3l-0.3-0.3l-25.4 0.3l-0.3 0.3l-6.3 0l-0.4 0.4l-17.3 1l-23 2.6l-35 6l-31 7.4l-32.7 9.3l-31.3 8l-6 2l-2.3 0.3zM908 94l-10 48.3l-1.3 4.4l-5.4 24.3l-3 11l0 1.3l-8 31l-16 54.4l-7 21l-9.3 25.3l-14.3 34.3l-10.4 21.4l-10.6 19.6l-9 14.7l-9 13.3l-10.7 14l-7 8.4l-6.3 6.6l-0.7 1.7l4.3 1l33.4 5l4 1l2 0l15 3l5.6 0.7l5.4 1.3l2 0l1.6 0.7l5.4 0.6l10.6 2.4l1.7 0l1.7 0.6l1.6 0l5 1.4l3.4 0.3l3.3 1l1.7 0l1.6 0.7l1.7 0l1.7 0.6l6.6 1l1.4 0.7l1.6 0l8 2l6.4 1l3 1l9.3 1.7l3 1l17.7 3.6l1.3 0.7l10.3 2l7 2l18 4l1.4 0.7l7 1.3l16 4.3l1.3 0l2.3 1l9.4 2l10 3l1.3 0l18.7 5l15.6 4.7l0.4-0.3l1 0.6l1.3 0l2.3 1l9.4 2.4l1 0.6l0.3-0.3l3.3 1.3l2.4 0.4l7 2.3l1.3 0l2 1l0.3-0.3l2 1l1.4 0l4.3 1.6l4.7 1l5.3 2l3.7 0.7l1 0.7l14.3 4l2 1l6.7 1.6l3 1.4l0.3-0.4l4 1.7l23 7l1 0.7l3 0.6l18 6.4l1 0l5.7 2.3l4 1l10.3 4l12.3 4l31.4 11.7l9.3 4l1 0l6.3 3l2.7 0.6l4 2l8 3l3 1.7l4 1.3l25 11.4l29.7 15.3l21.3 13l12.7 9l8.3 7l1 0.3l1.3-0.6l10.7-12.4l9-11.6l9.7-14l7.6-12.4l10-17.6l6.7-13l10-21.4l9.3-22.3l10.4-27.7l7-20.6l13.6-45l0.7-3.7l8-28.7l6.3-25.6l0.7-4.4l1-2.6l5.7-26.7l2.3-9l1.3-8l3.7-16.3l0-1.7l-0.7-0.3l-1 0.3l-5.3 4l-16.3 10.7l-18 10.3l-17.4 8.7l-18 7.6l-19 6.7l-17.6 5l-18.7 4l-17.7 2.7l-13.6 1l-0.4 0.3l-4.6 0l-0.4 0.3l-26 0.4l-0.3-0.4l-18-0.6l-18.3-2l-22.7-3.7l-17-3.7l-22.3-6l-21.7-7l-18.7-7l-17.3-7.3l-21.7-10.3l-18.6-10l-18-10.7l-20-13l-18.4-13l-22-17l-16-13.3l-24-21.7l-30.6-30.7l-18-19.6l-19.7-23l-24.3-30.7l-12.4-17l-1.6-1.3z"/>
<path fill="#0060ff" d="M105.7 489l0.6 3l4.4 11.7l12.3 29l11.7 22.6l3.3 5.7l2 1.7l99 22l1.3 0.6l4.4 0.7l5.6 1.7l14 3l1.4 0.6l8.6 1.7l2.7 1l7 1.3l4 1.4l1.3 0l57.4 14.3l1.3 0l4 1.3l4 0.7l1.3 0.7l2.7 0.3l11.7 3.3l1.3 0l1.3 0.7l1.4 0l1.3 0.7l1.3 0l1.4 0.6l12.6 3l25.7 7.4l1.3 0l1 0.6l8.4 2l35 10.7l1 0.7l13.3 4l1 0.6l2 0.4l1 0.6l1 0l1 0.7l1 0l2 1l16.3 5l1 0.7l1 0l1 0.6l1 0l4 1.7l1 0l25.7 8.7l31 11.3l12.7 5.3l1 0l36 15.7l33.6 16.7l9.7 4.3l1.3 1l32 15l3.7 1.3l5.7 3l1.6 0.4l8.7 4.3l33.7 15l1.3-0.3l0-1l-3.7-6.4l-10.6-22.3l-9-22l-4-11.7l-64-55.3l-59-54.3l-32-28.7l-32.7-27l-21.7-16l-22.6-14.3l-15.7-8.7l-20.7-10.3l-18.6-8.4l-17.7-7l-14-4.6l-16-4l-19.7-3.7l-17.6-2.3l-15.7-1l-0.3-0.4l-16.7-0.3l-0.3-0.3l-25.4 0.3l-0.3 0.3l-6.3 0l-0.4 0.4l-17.3 1l-23 2.6l-35 6l-31 7.4l-32.7 9.3l-31.3 8l-6 2l-2.3 0.3zM908 94l-10 48.3l-1.3 4.4l-5.4 24.3l-3 11l0 1.3l-8 31l-16 54.4l-7 21l-9.3 25.3l-14.3 34.3l-10.4 21.4l-9.3 17.3l-8 13.3l-9 13.7l-11.7 15.7l-8.3 9.6l0 1l1.7 0.7l12.6 1.7l2 0.6l2.4 0l2 0.7l8 1l1.6 0.7l9.7 1.3l3.7 1l6 0.7l5.3 1.3l3.7 0.3l24.6 5l1.7 0l11.7 2.7l2 0l1.3 0.7l1.7 0l22.3 5l3.3 0.3l7.4 2l1.6 0l10.7 2.7l1.7 0l1.3 0.6l3 0.4l4.3 1.3l17.7 3.7l7 2l3 0.3l5.3 1.7l26 6l3.7 1.3l0.3-0.3l7.7 2.3l0.3-0.3l2.4 1l1.3 0l1.3 0.6l1.4 0l1.3 0.7l14 3.3l8.7 2.7l21 5.3l8.3 2.7l3.7 0.7l17.3 5.3l0.3-0.3l3.4 1.3l10.3 2.7l2 1l4.7 1l3.3 1.3l2.3 0.3l1 0.7l2.4 0.3l1 0.7l14.3 4l2 1l6.7 1.7l1 0.6l7.3 2l8.3 3l2.4 0.4l6 2.3l5.3 1.3l2 1l3 0.7l18 6.3l1 0l3.7 1.7l9 2.7l19.6 7.3l6.7 2l2.7 1.3l21.3 7.7l3.3 1.7l1 0l5 2.3l2.7 0.7l31.3 13l25.7 11.6l29.7 15.4l15.3 9l13 8.6l10.7 8l0.3 0.7l1.7 1l0.6-0.3l8.7-10.4l14-19.6l14.7-24.4l7-13l10.3-21.3l7-16l0.3-1.7l4.4-9.6l3.6-10.4l2-4.3l8.7-24.3l7-21.4l5.3-18.6l1.7-4.4l7-26.3l1.3-3.7l13.7-55.3l9-41.3l2-11.7l-0.7-0.3l-1 0.3l-5.3 4l-16.3 10.7l-18 10.3l-17.4 8.7l-18 7.6l-19 6.7l-17.6 5l-18.7 4l-17.7 2.7l-13.6 1l-0.4 0.3l-4.6 0l-0.4 0.3l-26 0.4l-0.3-0.4l-18-0.6l-18.3-2l-22.7-3.7l-17-3.7l-22.3-6l-21.7-7l-18.7-7l-17.3-7.3l-21.7-10.3l-18.6-10l-18-10.7l-20-13l-18.4-13l-22-17l-16-13.3l-24-21.7l-30.6-30.7l-18-19.6l-19.7-23l-24.3-30.7l-12.4-17l-1.6-1.3z"/>
<path fill="#0070ff" d="M105.7 489l0.6 3l4.4 11.7l10.3 24.6l12 24l2.3 4l1.4 0.7l11.6 2.3l11.7 3l1.7 0l2.6 1l1.7 0l2.7 1l1.6 0l16 4l0.4-0.3l8.6 2.3l1.7 0l10 2.7l1.7 0l7.3 2l1.7 0l7.3 2l4.3 0.7l1.4 0.6l28.3 6.4l2.7 1l5.6 1l4 1.3l16.7 3.7l24.3 6.3l1.4 0l21.6 5.7l2.7 0.3l4 1.3l1.3 0l2.7 1l1.3 0l1 0.7l17.4 4l5 1.7l1.3 0l6.3 2l1.4 0l11.3 3.3l6.3 1.3l12 3.7l1.4 0l1 0.7l1.3 0l2.3 1l2.4 0.3l2.3 1l19.3 5.3l30.7 10l1 0l3 1.4l20.3 6.3l1 0.7l1 0l1 0.6l20.4 6.4l7.6 3l10.7 3.3l25.7 9.3l1.6 1l2.7 0.7l22.7 9l29.3 13l1.3 1l5.7 2.3l17.3 8.7l54 25.3l3 1l46.4 21l1.3-0.3l0-1l-6.3-12l-7-15.7l-7-17.3l-4-11.7l-64-55.3l-59-54.3l-32-28.7l-32.7-27l-21.7-16l-22.6-14.3l-15.7-8.7l-20.7-10.3l-22.6-10l-13.7-5.4l-14-4.6l-16-4l-26.3-4.7l-18-2l-15-0.7l-0.4-0.3l-24.6-0.3l-0.4 0.3l-17.6 0.3l-0.4 0.4l-17.3 1l-23 2.6l-35 6l-31 7.4l-32.7 9.3l-31.3 8l-6 2l-2.3 0.3zM908 94l-10 48.3l-14.7 60.7l-6.6 24.7l-8.7 29.3l-12.7 38.3l-14 36.4l-7.6 17.6l-10.4 21.4l-9.3 17.3l-8 13.3l-11.3 17l-10.7 13.7l-0.7 1.7l1 0.6l4 0.4l2 0.6l22 3.4l5.4 1.3l6 0.7l5.3 1.3l3.7 0.3l1.6 0.7l26.4 4.7l10 2.3l1.6 0l1.7 0.7l28.7 5.6l3 1l3.3 0.4l7.7 2l1.6 0l5.7 1.6l10.7 2l1.3 0.7l6 1l1.3 0.7l24 5.3l11 3l11 2.3l2.7 1l1.3 0l1.4 0.7l1.3 0l6.3 2l1.7 0l1.3 0.7l7.7 1.6l2.3 1l0.4-0.3l3.6 1.3l1.4 0l1.3 0.7l30 7.7l2.3 1l5 1l24.7 7.3l1.3 0l14.7 4.7l7 1.6l5.3 2l0.4-0.3l1 0.7l2.3 0.3l1 0.7l27.3 8l3 1.3l1.4 0l5 2l1.3 0l3 1.3l1 0l14.3 5l3.4 0.7l2 1l9 2.7l4 1.6l1 0l1 0.7l1 0l1 0.7l1 0l2.6 1.3l1.4 0l3.6 1.7l4 1l4.7 2l2 0.3l9.3 3.7l15 5l1.7 1l6.3 2l3.7 1.6l1 0l8.7 3.7l13 4.7l37.6 15.6l26 12l20.4 10.4l26.6 15.6l10.4 7l8 6l1.3-0.6l7-9l9.7-14l7.6-12.4l10-17.6l6.7-13l10-21.4l14.3-35.3l8.7-24.3l7-21.4l5.3-18.6l1.7-4.4l7-26.3l1.3-3.7l13.7-55.3l9-41.3l2-11.7l-0.7-0.3l-1 0.3l-5.3 4l-16.3 10.7l-18 10.3l-17.4 8.7l-18 7.6l-19 6.7l-17.6 5l-18.7 4l-17.7 2.7l-13.6 1l-0.4 0.3l-4.6 0l-0.4 0.3l-26 0.4l-0.3-0.4l-18-0.6l-18.3-2l-22.7-3.7l-17-3.7l-22.3-6l-21.7-7l-18.7-7l-17.3-7.3l-21.7-10.3l-18.6-10l-18-10.7l-20-13l-18.4-13l-22-17l-16-13.3l-24-21.7l-30.6-30.7l-18-19.6l-19.7-23l-24.3-30.7l-12.4-17l-1.6-1.3z"/>
<path fill="#0080ff" d="M105.7 489l0.6 3l4.4 11.7l9 21.6l12.3 25l1.3 1l1.7 0l62.7 14.7l0.3-0.3l11.7 3l14.6 3l2.7 1l21.3 4.6l12.4 3.4l1.6 0l1.4 0.6l16.3 3.7l9.7 2.7l1.3 0l16 4.3l13.7 3l6.3 2l1.3 0l4 1.3l1.4 0l31.3 8l1.3 0.7l2.7 0.3l2.3 1l4 0.7l29.4 8.3l1.3 0l1 0.7l1.3 0l2.4 1l14 3.7l3.3 1.3l15.3 4.3l1 0.7l6.7 1.7l2 1l12.3 3.6l19.4 6.4l1 0.6l7.3 2l1 0.7l37.7 12.3l47 17.7l34 14.7l41.6 20l45.7 21l9 3.6l1.3 1l4.7 1.7l28 12.7l1-0.4l0-1l-7-14.3l-7.3-17.3l-7-19.4l-64-55.3l-85.4-78l-14.6-12.7l-23.7-19.3l-13.7-10.3l-18-12.4l-12.6-7.6l-15.7-8.7l-20.7-10.3l-22.6-10l-13.7-5.4l-14-4.6l-16-4l-26.3-4.7l-18-2l-15-0.7l-0.4-0.3l-24.6-0.3l-0.4 0.3l-17.6 0.3l-0.4 0.4l-17.3 1l-23 2.6l-35 6l-31 7.4l-32.7 9.3l-31.3 8l-6 2l-2.3 0.3zM908 94l-10 48.3l-14.7 60.7l-6.6 24.7l-8.7 29.3l-12.7 38.3l-14 36.4l-7.6 17.6l-10.4 21.4l-9.3 17.3l-8 13.3l-9 13.7l-8 10.7l0 0.6l1.7 0.7l2 0l5.6 1.3l2 0l13.7 2.7l7.7 1l5.3 1.3l3.7 0.4l1.6 0.6l9 1.4l5 1.3l3.7 0.3l27 5.7l1.7 0l1.3 0.7l13 2.3l4.3 1.3l3.7 0.4l6 1.6l25.7 5.4l1.3 0.6l6 1l1.3 0.7l27 6l2.7 1l24.7 5.7l3.6 1.3l0.4-0.3l6.3 2l5.3 1l13 3.6l1.4 0l3.3 1.4l0.3-0.4l1 0.7l1.4 0l12.3 3.7l0.3-0.4l2.4 1l8.6 2l3.4 1.4l0.3-0.4l1 0.7l2.7 0.3l7 2.4l3.6 0.6l17.4 5.4l1.3 0l4.7 1.6l8 2l1 0.7l5.6 1.3l1 0.7l0.4-0.3l5.3 2l2.3 0.3l7.7 2.3l1 0.7l3.3 0.7l1 0.6l12 3.4l2 1l2.4 0.3l9.3 3.3l2.3 0.4l1 0.6l7.4 2l1 0.7l1 0l2 1l19 6l1 0.7l4.3 1l2.7 1.3l8 2.3l3.6 1.7l5 1.3l16 6l6.7 2l2.7 1.4l3.6 1l1.7 1l2.7 0.6l6.3 2.7l1 0l17.3 6.7l1.7 1l2.7 0.6l29.3 12l29 13l24.7 12.4l24.6 14l10.4 6.6l10.3 7.4l1.7-0.4l15-22l10-17l7-13l10.3-21.3l7-16l0.3-1.7l5-11.3l10.4-27.7l10.3-31l5.3-18.6l1.7-4.4l12-44l10-41.3l9-41.3l2-11.7l-0.7-0.3l-1 0.3l-5.3 4l-16.3 10.7l-18 10.3l-17.4 8.7l-18 7.6l-19 6.7l-17.6 5l-18.7 4l-17.7 2.7l-13.6 1l-0.4 0.3l-4.6 0l-0.4 0.3l-26 0.4l-0.3-0.4l-18-0.6l-18.3-2l-22.7-3.7l-17-3.7l-22.3-6l-21.7-7l-18.7-7l-17.3-7.3l-21.7-10.3l-18.6-10l-18-10.7l-20-13l-18.4-13l-22-17l-16-13.3l-24-21.7l-30.6-30.7l-18-19.6l-19.7-23l-24.3-30.7l-12.4-17l-1.6-1.3z"/>
<path fill="#008fff" d="M105.7 489l2 6.7l8.6 22l6.7 15l6 12l1 0.6l19.7 4.4l2.6 1l0.4-0.4l2.6 1l7.4 1.4l1.3 0.6l1.7 0l1.3 0.7l13.3 2.7l1.4 0.6l13 2.7l3 1l14.6 3l1.4 0.7l7.3 1.3l1.3 0.7l10 2l1.4 0.6l4.3 0.7l2.7 1l4.3 0.7l1.3 0.6l9.7 2l5.3 1.7l3 0.3l20.4 5.4l1.3 0l1.3 0.6l6.7 1.4l1.3 0.6l8 1.7l1.4 0.7l9.3 2l1.3 0.6l4 0.7l1.4 0.7l2.6 0.3l1.4 0.7l1.3 0l5.3 1.6l1.4 0l1.3 0.7l1.3 0l1 0.7l1.4 0l22 6l2.6 0.3l2.4 1l5.3 1l14.7 4.3l1.3 0l3.7 1.4l1.3 0l2.3 1l12 3l55 16.6l12 4.4l5.4 1.3l1 0.7l23.3 7.6l1 0l21.7 7.7l1 0l9.3 3.7l1 0l3.7 1.6l3.6 1l2.7 1.4l1 0l32 12.3l33.7 14.7l23.6 11l2 1.3l3.7 1.3l28.7 13.7l2.3 0.7l5.7 3l1.6 0.3l7.4 3.7l6 2.3l5 2.7l4.6 1.6l3.7 2l19 8l1.3 1l1.7 0.4l11.7 5.3l0.6-0.3l-0.6-2.4l-3.7-7.3l-7.3-17.3l-7-19.4l-64-55.3l-59-54.3l-32-28.7l-32.7-27l-13.7-10.3l-18-12.4l-12.6-7.6l-15.7-8.7l-20.7-10.3l-22.6-10l-13.7-5.4l-14-4.6l-16-4l-26.3-4.7l-18-2l-15-0.7l-0.4-0.3l-24.6-0.3l-0.4 0.3l-17.6 0.3l-0.4 0.4l-17.3 1l-23 2.6l-35 6l-31 7.4l-32.7 9.3l-31.3 8l-6 2l-2.3 0.3zM908 94l-10 48.3l-14.7 60.7l-11.3 40.7l-14.7 46l-16 42l-7.6 17.6l-6.7 14l-14.3 27l-9 14.7l-9 13l0 1l1.3 0.7l21.3 3.3l12.4 2.7l2.3 0l1.3 0.6l7.4 1l15 3.4l4 0.3l3 1l13.3 2.3l1.3 0.7l3.7 0.3l3 1l16 3l22.7 5.4l1.6 0l4 1.3l0.4-0.3l6 1.6l4.3 0.7l1.3 0.7l7.4 1.3l12.6 3.3l0.4-0.3l1 0.7l14 3l9.3 2.6l3 0.4l2.7 1l6.6 1.3l2.4 1l1.6 0l6.4 2l1.3 0l19.3 5.3l2.7 0.4l1.3 0.6l8.7 2l1 0.7l9 2l19 5.7l2.7 0.3l5.6 2l1.4 0l3.3 1.3l5 1l9 3l0.3-0.3l2 1l3.7 0.7l2 1l7 1.6l5.3 2l0.4-0.3l1 0.7l2.3 0.3l1 0.7l2.3 0.3l1 0.7l2.4 0.3l1 0.7l12 3.3l2 1l9.6 2.7l1 0.6l1.4 0l4 1.7l1.3 0l5 2l7.3 2l1 0.7l1 0l19.4 6.6l1 0l1 0.7l2 0.3l1 0.7l1 0l1 0.7l1 0l1 0.6l1 0l2.6 1.4l1.4 0l5.6 2.3l7 2l1.7 1l3 0.7l16.7 6.3l11.3 3.7l1.7 1l1 0l1.6 1l3.7 1l1.7 1l1 0l11.3 4.6l7 2.4l19 8l1.7 0.3l2.3 1.3l5 1.7l1.3 1l11 4.3l15.7 7l2 1.4l2.3 0.6l25.7 12.7l26.7 15l18.6 12.3l1.4-0.3l6-8.3l7.6-12.4l10-17.6l6.7-13l14-30.7l0.3-1.7l5-11.3l10.4-27.7l10.3-31l5.3-18.6l1.7-4.4l12-44l10-41.3l9-41.3l2-11.7l-0.7-0.3l-1 0.3l-5.3 4l-16.3 10.7l-18 10.3l-17.4 8.7l-18 7.6l-19 6.7l-17.6 5l-18.7 4l-17.7 2.7l-13.6 1l-0.4 0.3l-4.6 0l-0.4 0.3l-26 0.4l-0.3-0.4l-18-0.6l-18.3-2l-22.7-3.7l-17-3.7l-22.3-6l-21.7-7l-18.7-7l-17.3-7.3l-21.7-10.3l-18.6-10l-18-10.7l-20-13l-18.4-13l-22-17l-16-13.3l-24-21.7l-30.6-30.7l-18-19.6l-19.7-23l-24.3-30.7l-12.4-17l-1.6-1.3z"/>
<path fill="#009fff" d="M105.7 489l2 6.7l7.6 19.6l7.7 17.4l3.3 6.6l9.4 2l2.6 1l7.4 1.4l1.3 0.6l6 1l1.3 0.7l21.7 4.7l1.3 0.6l7.4 1.4l2.6 1l0.4-0.4l2.6 1l10.4 2l1.3 0.7l1.7 0l7 2l6 1l11 3l0.3-0.3l2.7 1l12.6 2.6l5.4 1.7l0.3-0.3l10.7 3l3 0.3l1.3 0.7l1.3 0l10.7 3l11 2.3l1 0.7l7 1.3l1 0.7l1.3 0l4 1.3l1.4 0l4 1.3l13.3 3l9 2.7l4 0.7l5 1.6l5.3 1l6.4 2l2.6 0.4l2.4 1l2.6 0.3l5 1.7l15 3.6l2.4 1l2.6 0.4l16.7 5l1.3 0l5.7 2l6 1.3l3.3 1.3l16.7 4.7l30.7 10l1 0l3 1.3l14.3 4.4l10 3.6l5.3 1.4l1 0.6l6 1.7l1 0.7l26 8.6l29 10.7l3.4 1.7l8.6 3l2.4 1.3l1 0l2.3 1.3l27.3 11.4l25.4 12l8 3.3l2.6 1.7l19.7 8.6l5 2.7l3 1l26.7 12.3l2.3 0.7l3.7 2l7.6 3l1.4 1l1.6 0.3l26 11.7l1-0.3l0-1.4l-4.6-10l-7-17.3l-4-11.7l-64-55.3l-59-54.3l-32-28.7l-32.7-27l-13.7-10.3l-18-12.4l-12.6-7.6l-15.7-8.7l-20.7-10.3l-24.3-10.7l-16.7-6.3l-14.3-4.4l-21-4.6l-16.3-2.7l-18-2l-15-0.7l-0.4-0.3l-24.6-0.3l-0.4 0.3l-17.6 0.3l-0.4 0.4l-17.3 1l-23 2.6l-35 6l-31 7.4l-32.7 9.3l-31.3 8l-6 2l-2.3 0.3zM908 94l-10 48.3l-14.7 60.7l-11.3 40.7l-14.7 46l-12.3 33l-11.3 26.6l-14.4 29l-8.6 15.4l-11 17l0 1l3 1l9.6 1.3l9 2l4 0.3l1.4 0.7l9 1.3l3.3 1l5.7 0.7l1.6 0.7l1.7 0l8.3 2l11.7 2l1.7 0.6l2 0l1.3 0.7l25.7 5l7.3 2l0.3-0.3l4.4 1.3l1.6 0l6 1.7l7.4 1.3l1.3 0.7l0.3-0.4l5.7 1.7l1.7 0l4.3 1.3l7.3 1.4l12.7 3.3l1.7 0l2.3 1l0.3-0.3l2.7 1l4.3 0.6l1.4 0.7l1.3 0l9.3 2.7l0.4-0.4l10.6 3l0.4-0.3l3.6 1.3l10.7 2.4l10.3 3l1.4 0l10 3l0.3-0.4l7.3 2.4l10 2.3l2.4 1l0.3-0.3l1 0.6l14.7 3.7l7 2.3l0.3-0.3l2 1l1.3 0l16.4 5l3.6 0.7l3.4 1.3l30.3 8.7l1 0.6l0.3-0.3l1 0.7l7.7 2l7.3 2.6l25.7 7.7l2.7 1.3l6.3 1.7l8 3l3.3 0.7l8.7 3.3l2.3 0.3l1 0.7l5 1.3l3.7 1.7l3 0.7l4.7 2l5 1.3l2.6 1.3l1.4 0l4.3 2l9.7 3l6.3 2.7l3.7 1l1.6 1l6.4 2l3.6 1.7l1 0l13 5.3l1 0l12.7 5.3l6 2l8 3.7l1 0l3 1.7l1 0l20 9l4.7 1.6l10 5l2.3 0.7l24.3 12l30.7 17.3l13 8.7l2-0.3l8.3-13.4l10-17.6l13.7-27.7l12.3-29l13.7-37.3l14-44.4l12-44l10-41.3l9-41.3l2-11.7l-0.7-0.3l-1 0.3l-5.3 4l-16.3 10.7l-18 10.3l-17.4 8.7l-18 7.6l-19 6.7l-17.6 5l-18.7 4l-17.7 2.7l-13.6 1l-0.4 0.3l-4.6 0l-0.4 0.3l-26 0.4l-0.3-0.4l-18-0.6l-18.3-2l-22.7-3.7l-17-3.7l-22.3-6l-21.7-7l-18.7-7l-17.3-7.3l-21.7-10.3l-18.6-10l-18-10.7l-20-13l-18.4-13l-22-17l-16-13.3l-24-21.7l-30.6-30.7l-18-19.6l-19.7-23l-24.3-30.7l-12.4-17l-1.6-1.3z"/>
<path fill="#00afff" d="M105.7 489l2 6.7l7.6 19.6l8 18l1.4 0.7l11.6 2.3l1.4 0.7l14.3 3l7 2l6 1l1.3 0.7l3 0.3l7 2l1.7 0l1.3 0.7l18.7 4l1.3 0.6l6 1l1.4 0.7l14.3 3l5.3 1.7l0.4-0.4l2.6 1l5.7 1l4 1.4l24.7 5.6l6.6 2l9.7 2l1 0.7l1.3 0l5.4 1.7l4.3 0.6l1 0.7l17.3 4l3.7 1.3l12 2.7l2.3 1l1.4 0l15.3 4.3l2.7 0.4l3.6 1.3l5.4 1l54 15l56.6 17.7l1 0.6l16.4 5l1 0.7l4 1l36.3 12.3l36 13.4l15.7 6.6l1 0l30 13l37.6 17.7l2.4 0.7l5.6 3l3 1l18.4 8.6l7.6 3l1.4 1l10.6 4.4l14.4 6.6l1.6 0.4l1.4 1l1.6 0.3l5.4 2.7l1.6 0.3l13.7 6.3l1-0.3l-0.3-1.7l-9-21.3l-4-11.7l-64-55.3l-59-54.3l-41-36.4l-17.4-14.3l-20-15.3l-22.3-15l-24-13.7l-20.7-10.3l-18.6-8.4l-13.4-5.3l-18.3-6.3l-16-4l-19.7-3.7l-14.6-2l-13.7-1l-0.3-0.3l-4.7 0l-0.3-0.4l-16.7-0.3l-0.3-0.3l-14 0l-0.4 0.3l-11 0l-0.3 0.3l-11.7 0.4l-0.3 0.3l-4.3 0l-0.4 0.3l-14 1l-16.3 2l-21 3.4l-20.3 4l-24.7 6l-32.7 9.3l-31.3 8l-6 2l-2.3 0.3zM908 94l-10 48.3l-14.7 60.7l-11.3 40.7l-14.7 46l-12.3 33l-11.3 26.6l-14.4 29l-6.6 12l-8 12.7l-0.4 1.7l35 6.3l8.4 2l3.6 0.3l5 1.4l11.7 2l1.3 0.6l3.7 0.4l1.3 0.6l11.4 2l1.3 0.7l1.7 0l6.3 1.7l3.3 0.3l7.4 2l0.3-0.3l4.3 1.3l0.4-0.3l3 1l13.3 2.6l1.3 0.7l0.4-0.3l5.6 1.6l6 1l1.4 0.7l1.6 0l2.7 1l4.3 0.7l1.4 0.6l26.6 6l9.4 2.7l3 0.3l6.3 2l1.3 0l23.7 6.4l1.3 0l11.4 3.3l2.6 0.3l1 0.7l4 0.7l1 0.6l2.7 0.4l3.7 1.3l8.6 2l2 1l0.4-0.3l14.3 4.3l0.3-0.3l2 1l5 1l1 0.6l6 1.4l5.7 2l3.3 0.6l1 0.7l0.4-0.3l2.3 1l7 1.6l2 1l5.7 1.4l1 0.6l0.3-0.3l1 0.7l29.7 8.6l2 1l1.3 0l10.3 3.7l2.4 0.3l11.3 4l15.3 4.7l1 0.7l9.4 2.6l5.6 2.4l11 3.3l6.7 2.7l6 1.6l1.7 1l2 0.4l3.6 1.6l2 0.4l6.7 2.6l5.7 1.7l3.3 1.7l3 0.6l1.7 1l6.3 2l3.7 1.7l1 0l10.3 4.3l1 0l3.3 1.7l22 8.3l8 3.7l1 0l5.4 2.7l22.3 9.3l18.7 8.7l33.3 17.3l12 7l1 1l4 2l9.3 6.3l1.4-1l13.6-23.6l13.7-27.7l12.3-29l13.7-37.3l14-44.4l12-44l10-41.3l9-41.3l2-11.7l-0.7-0.3l-1 0.3l-5.3 4l-16.3 10.7l-18 10.3l-17.4 8.7l-18 7.6l-19 6.7l-17.6 5l-18.7 4l-17.7 2.7l-13.6 1l-0.4 0.3l-4.6 0l-0.4 0.3l-26 0.4l-0.3-0.4l-18-0.6l-18.3-2l-22.7-3.7l-17-3.7l-22.3-6l-21.7-7l-18.7-7l-17.3-7.3l-21.7-10.3l-18.6-10l-18-10.7l-20-13l-18.4-13l-22-17l-16-13.3l-24-21.7l-30.6-30.7l-18-19.6l-19.7-23l-24.3-30.7l-12.4-17l-1.6-1.3z"/>
<path fill="#00bfff" d="M105.7 489l2 6.7l7.6 19.6l5.4 12l1 0.7l14 3l4 1.3l0.3-0.3l8.3 2.3l3 0.4l2.7 1l7.3 1.3l4 1.3l0.4-0.3l4 1.3l6 1l7 2l3 0.4l1.3 0.6l6 1l4 1.4l6 1l4 1.3l0.3-0.3l1.4 0.6l7 1.4l5.3 1.6l0.3-0.3l12.4 3.3l0.3-0.3l1.3 0.7l19 4.3l3.7 1.3l8.3 1.7l4 1.3l2.7 0.4l18.7 5l1.3 0l1 0.6l1.3 0l2.7 1l16 3.7l2.3 1l1.4 0l18 5l2.6 0.3l3.7 1.4l7.7 1.6l3.6 1.4l1.4 0l9.6 3l2.7 0.3l3.7 1.3l15.6 4l4.7 1.7l1.3 0l8 2.7l2.4 0.3l2.3 1l17 4.7l2 1l3.3 0.6l30.7 10l1 0l3 1.4l9.3 2.6l12 4.4l5.4 1.3l1 0.7l30.3 10l17.7 6.3l5.3 2.3l1 0l1.7 1l1 0l1.6 1l1 0l15.4 6.4l1 0l33.3 14l1.3 1l10.7 4.3l53.3 24.7l8.4 3.3l16.6 7.7l2.4 0.6l1.3 1l2.3 0.7l5.4 2.7l1.6 0.3l1.4 1l1.6 0.3l27 12l1-0.3l-0.3-2l-6.3-15l-4-11.7l-58-50l-79-72.3l-18-16l-23-19.3l-14-11l-17.4-12.7l-10-6.7l-15-9l-13.3-7.3l-20.7-10.3l-18.6-8.4l-17.7-7l-14-4.6l-16-4l-19.7-3.7l-14.6-2l-13.7-1l-0.3-0.3l-4.7 0l-0.3-0.4l-16.7-0.3l-0.3-0.3l-14 0l-0.4 0.3l-11 0l-0.3 0.3l-11.7 0.4l-0.3 0.3l-4.3 0l-0.4 0.3l-14 1l-16.3 2l-21 3.4l-20.3 4l-24.7 6l-32.7 9.3l-31.3 8l-6 2l-2.3 0.3zM908 94l-8 39.3l-8.7 37.7l-3 11l0 1.3l-11.6 44.4l-12.4 41l-11.3 33l-8 21l-8.7 20.6l-13 27.4l-9.3 17.3l-4.7 7.3l-0.6 2l1.6 0.7l3.7 0.3l5.3 1.4l21.4 3.6l49.3 10l62.7 14l1.3 0.7l17 3.7l10.7 3l0.3-0.4l21 5.7l1.7 0l5 1.7l13 3l7.6 2.3l1.4 0l1 0.7l0.3-0.4l1 0.7l1.3 0l11.4 3.3l1.3 0l1 0.7l4 0.7l4.7 1.6l6 1.4l9.6 3l1.4 0l7 2.3l1.3 0l3.3 1.3l0.4-0.3l4.3 1.7l1.3 0l5.7 2l1.3 0l10.4 3l2 1l2.6 0.3l1 0.7l3.4 0.6l5.3 2l0.3-0.3l1 0.7l9 2.3l1 0.7l12 3.3l2 1l0.4-0.3l2 1l4.3 1l3 1.3l1.3 0l4 1.7l1.4 0l6 2.3l7.6 2l3.7 1.7l5.3 1.3l12 4.3l2.4 0.4l1 0.6l9 2.7l2.6 1.3l13 4l1.7 1l1 0l6.7 2.7l3 0.7l2.6 1.3l8.7 2.7l2.7 1.3l7.3 2.3l2.7 1.4l2 0.3l1.6 1l2 0.3l1.7 1l1 0l7.7 3.4l1 0l8.6 3.6l1 0l1.7 1l4.3 1.4l1.7 1l2.7 0.6l2.3 1.4l8.7 3l5.3 2.6l2.7 0.7l3 1.7l3.3 1l7.7 3.6l6.3 2.4l27 12.3l22 11l11 6.3l1.3 0.4l12.7 7.3l12.7 8l1.3-1l12.7-22.7l13.3-28l14.3-35.3l12.4-35.3l7.3-23.4l1.3-5.6l1.7-4.4l12-44l10-41.3l9-41.3l2-11.7l-0.7-0.3l-1 0.3l-5.3 4l-16.3 10.7l-18 10.3l-17.4 8.7l-18 7.6l-19 6.7l-17.6 5l-18.7 4l-17.7 2.7l-13.6 1l-0.4 0.3l-4.6 0l-0.4 0.3l-26 0.4l-0.3-0.4l-18-0.6l-18.3-2l-22.7-3.7l-17-3.7l-22.3-6l-21.7-7l-18.7-7l-17.3-7.3l-21.7-10.3l-18.6-10l-18-10.7l-20-13l-18.4-13l-22-17l-16-13.3l-24-21.7l-30.6-30.7l-18-19.6l-19.7-23l-24.3-30.7l-12.4-17l-1.6-1.3z"/>
<path fill="#00cfff" d="M105.7 489l2 6.7l7.6 19.6l2.7 6l1.7 1l8.3 1.7l1.3 0.7l0.4-0.4l4 1.4l0.3-0.4l2.3 1l3 0.4l1.4 0.6l0.3-0.3l1.3 0.7l11.4 2.3l4 1.3l3 0.4l4 1.3l0.3-0.3l1.3 0.6l0.4-0.3l2.3 1l9 1.7l1.3 0.6l7 1.4l4 1.3l0.4-0.3l4 1.3l0.3-0.3l1.3 0.6l3 0.4l1.4 0.6l11.3 2.4l6.7 2l0.3-0.4l4 1.4l0.3-0.4l1.4 0.7l5.3 1l8 2.3l0.3-0.3l2.4 1l0.3-0.3l9.3 2.6l0.4-0.3l1 0.7l15 3.3l1 0.7l0.3-0.4l5 1.7l1.3 0l23.7 6.3l12 2.7l2.3 1l1.4 0l6.3 2l6.7 1.3l12.3 3.7l6.7 1.3l8.3 2.7l11.3 2.7l6 2l1.4 0l10.6 3.3l1.4 0l1 0.7l6 1.3l3.3 1.3l2.3 0.4l17 5.3l2.4 0.3l1 0.7l2.3 0.3l5.3 2l1.4 0l1 0.7l16 4.7l6 2.3l2.3 0.3l3 1.4l11.3 3.3l1 0.7l21.4 6.6l1 0.7l2 0.3l26.3 9l36.3 13.4l11.7 5l1 0l2.3 1.3l15.4 6l18.3 8.3l5.3 2l49.4 22.7l7.6 3l4.4 2.3l21.3 9l8.3 4l1 0l1.4 1l1.6 0.4l8.4 4l6.3 2.3l11.7 5.3l1.3-0.3l-6.3-16.3l-2-6.4l-58-50l-79-72.3l-18-16l-23-19.3l-14-11l-17.4-12.7l-10-6.7l-15-9l-13.3-7.3l-20.7-10.3l-18.6-8.4l-17.7-7l-14-4.6l-16-4l-19.7-3.7l-14.6-2l-13.7-1l-0.3-0.3l-4.7 0l-0.3-0.4l-16.7-0.3l-0.3-0.3l-14 0l-0.4 0.3l-11 0l-0.3 0.3l-11.7 0.4l-0.3 0.3l-4.3 0l-0.4 0.3l-14 1l-16.3 2l-21 3.4l-20.3 4l-24.7 6l-32.7 9.3l-31.3 8l-6 2l-2.3 0.3zM908 94l-8 39.3l-8.7 37.7l-3 11l0 1.3l-11.6 44.4l-12.4 41l-9 26.6l-14 36.4l-7.6 17.6l-6.7 14l-7.7 15l-6 10.4l-0.3 1.6l14.7 3l2 0l1.3 0.7l7.3 1l13.4 3l2 0l3 1l3.3 0.3l1.3 0.7l7 1l23.7 5.3l5 0.7l4.3 1.3l18.4 3.7l1.3 0.7l0.3-0.4l7 2l0.4-0.3l4 1.3l0.3-0.3l1.3 0.7l6 1l2.7 1l0.3-0.4l1 0.7l4.7 0.7l5.3 1.6l0.4-0.3l1.3 0.7l5.7 1l8 2.3l6 1l1.3 0.7l2.7 0.3l1.3 0.7l1.3 0l1.4 0.6l1.3 0l1.3 0.7l4 0.7l5.4 1.6l1.3 0l4 1.4l13.3 3l1.4 0.6l1.3 0l2 1l0.3-0.3l6.4 2l5.3 1l1 0.7l11.7 2.6l1 0.7l13.6 3.3l4.7 1.7l0.3-0.3l7 2.3l9.7 2.3l1 0.7l0.3-0.3l6.7 2.3l1.3 0l9.4 3l1.3 0l3 1.3l0.3-0.3l2.4 1l7 1.7l2 1l5.6 1.3l1 0.7l0.4-0.4l1 0.7l13.3 3.7l5.3 2l5.7 1.3l4 1.7l1.3 0l1 0.6l8.7 2.4l4 1.6l0.3-0.3l6 2.3l1.4 0l16.3 5.7l4.3 1l1.7 1l3.3 0.7l1 0.6l2 0.4l15 5.3l1 0l5.7 2.3l9 2.7l1.7 1l6 1.7l2.6 1.3l4 1l4.4 2l1 0l14 5.3l3 0.7l5 2.3l2 0.4l11.3 4.6l1 0l16.3 6.7l4.4 1.3l11.3 5l2.7 0.7l2.3 1.3l1.7 0.4l2.3 1.3l5.7 2l5.3 2.7l13 5.3l24.3 11.3l26 13.4l20.4 11.6l5.3 3.7l2 1l0.7-0.3l12.3-23l14-30.7l0.3-1.7l5-11.3l10.4-27.7l10.3-31l10.3-34.6l10.4-39l0-1.4l4.6-17.6l0.7-4.4l1-2.6l5.7-26.7l2.3-9l1.3-8l3.7-16.3l0-1.7l-0.7-0.3l-1 0.3l-5.3 4l-16.3 10.7l-18 10.3l-17.4 8.7l-18 7.6l-19 6.7l-17.6 5l-18.7 4l-17.7 2.7l-13.6 1l-0.4 0.3l-4.6 0l-0.4 0.3l-26 0.4l-0.3-0.4l-18-0.6l-18.3-2l-22.7-3.7l-17-3.7l-22.3-6l-21.7-7l-18.7-7l-17.3-7.3l-21.7-10.3l-18.6-10l-18-10.7l-20-13l-18.4-13l-22-17l-16-13.3l-24-21.7l-30.6-30.7l-18-19.6l-19.7-23l-24.3-30.7l-12.4-17l-1.6-1.3z"/>
<path fill="#00dfff" d="M105.7 489l0.6 3l9 23.3l1 1l4.4 0.7l4 1.3l0.3-0.3l8.3 2.3l0.4-0.3l2.3 1l4.3 0.7l1.4 0.6l0.3-0.3l9.7 2.7l0.3-0.4l5.3 1.7l3 0.3l4 1.4l0.4-0.4l1.3 0.7l11.3 2.3l4 1.4l0.4-0.4l4 1.4l4.6 0.6l2.4 1l3 0.4l2.6 1l0.4-0.4l1.3 0.7l14 3l4 1.3l0.3-0.3l21.7 5.7l0.3-0.4l3.7 1.4l8.3 1.6l1 0.7l5.7 1l1 0.7l1.3 0l4 1.3l8.4 1.7l1 0.6l8 1.7l1 0.7l0.3-0.4l1.3 0.7l1.4 0l9 2.7l4 0.6l2.3 1l4.3 0.7l2.4 1l11.6 2.7l2.4 1l2.6 0.3l8.7 2.7l20 5l2.3 1l6.4 1.3l6 2l1.3 0l1 0.7l1.3 0l1 0.6l1.4 0l7 2.4l1.3 0l2.3 1l19.7 5.3l4.3 1.7l1.4 0l5.3 2l1.3 0l4 1.6l1.4 0l1 0.7l2.3 0.3l3 1.4l2.3 0.3l2 1l11.7 3.3l15.3 5l1 0.7l18.4 5.7l1 0.6l0.3-0.3l22.7 8l2 0.3l25.3 9l2.7 1.4l1 0l2.6 1.3l1 0l20 8l2.7 0.7l27.3 11.3l22 10l2.4 0.7l18.3 8.6l65.7 29l1.6 0.4l29.4 13l1-0.4l0-1l-2-4.3l-4-11.7l-64-55.3l-85.4-78l-32-27l-28-21l-10-6.7l-15-9l-13.3-7.3l-20.7-10.3l-18.6-8.4l-17.7-7l-14-4.6l-16-4l-19.7-3.7l-14.6-2l-13.7-1l-0.3-0.3l-4.7 0l-0.3-0.4l-16.7-0.3l-0.3-0.3l-14 0l-0.4 0.3l-11 0l-0.3 0.3l-11.7 0.4l-0.3 0.3l-4.3 0l-0.4 0.3l-14 1l-16.3 2l-21 3.4l-20.3 4l-24.7 6l-32.7 9.3l-31.3 8l-6 2l-2.3 0.3zM908 94l-8 39.3l-8.7 37.7l-3 11l0 1.3l-11.6 44.4l-10.4 34.6l-11 33l-11 29l-10.6 25l-10.4 21.4l-6.3 11.6l0.3 1l9.4 2l2 0l3 1l9 1.4l15 3.3l1.6 0l1.4 0.7l5.3 0.6l1.3 0.7l8.4 1.3l1.3 0.7l0.3-0.3l1.4 0.6l9.6 1.7l12.4 3l0.3-0.3l5.7 1.6l0.3-0.3l7.3 2l0.4-0.3l8.6 2.3l0.4-0.3l4 1.3l6 1l2.6 1l0.4-0.3l3 1l1.6 0l4 1.3l4.4 0.7l35 8.6l1.3 0l22.3 6l1.7 0l10.3 3l1.4 0l2.3 1l0.3-0.3l1 0.7l4 0.6l5 1.7l6.7 1.3l3.3 1.4l1.4 0l1.3 0.6l8.7 2l19.3 5.7l0.3-0.3l2 1l0.4-0.4l8 2.7l1.3 0l18.7 5.7l1.3 0l3 1.3l0.3-0.3l2 1l0.4-0.4l1 0.7l1.3 0l1 0.7l5.7 1.3l2 1l0.3-0.3l5.3 2l0.4-0.4l3 1.4l0.3-0.4l3 1.4l0.3-0.4l3 1.4l0.4-0.4l1 0.7l7.6 2l4 1.7l0.4-0.4l5 2l0.3-0.3l3 1.3l0.3-0.3l3 1.3l1.4 0l1 0.7l25 7.7l14 5l3.3 0.6l1 0.7l7 2l2.7 1.3l1 0l28.3 10l4 1l8 3.4l8.7 2.6l7 3l2 0.4l1.6 1l1 0l1.7 1l1 0l1.7 1l1 0l7 3l1 0l25.6 10l2.4 1.3l3.3 1l17.7 7.7l4 1.3l30.3 13.7l35.7 18l16.3 9.3l1 1l3 1.3l2.7 2l1 0.4l1.3-0.7l15-30l11.7-27.3l11-29.4l10.3-31l10.3-34.6l10.4-39l0-1.4l4.6-17.6l0.7-4.4l1-2.6l5.7-26.7l2.3-9l1.3-8l3.7-16.3l0-1.7l-0.7-0.3l-1 0.3l-5.3 4l-16.3 10.7l-18 10.3l-17.4 8.7l-18 7.6l-19 6.7l-17.6 5l-18.7 4l-17.7 2.7l-13.6 1l-0.4 0.3l-4.6 0l-0.4 0.3l-26 0.4l-0.3-0.4l-18-0.6l-18.3-2l-22.7-3.7l-17-3.7l-22.3-6l-21.7-7l-18.7-7l-17.3-7.3l-21.7-10.3l-18.6-10l-18-10.7l-20-13l-18.4-13l-22-17l-16-13.3l-24-21.7l-30.6-30.7l-18-19.6l-19.7-23l-24.3-30.7l-12.4-17l-1.6-1.3z"/>
<path fill="#00efff" d="M105.7 489l0.6 3l7 18l1.4 0.7l6 1l5.3 1.6l13 2.7l1.3 0.7l14 3l1.4 0.6l0.3-0.3l8 2.3l6 1l1.3 0.7l17 3.7l9.7 2.6l0.3-0.3l1.4 0.7l2.6 0.3l2.7 1l0.3-0.3l8 2.3l0.4-0.3l1.3 0.6l21.7 5.4l1.3 0l6.7 2l0.3-0.4l1 0.7l5.7 1l1 0.7l1.3 0l12 3.3l0.3-0.3l1 0.6l8 1.7l3.7 1.3l0.3-0.3l15.4 4.3l1.3 0l9 2.7l4 0.7l2.3 1l1.7 0l4.7 1.6l4 0.7l7.3 2.3l7.7 1.7l2.3 1l9 2l1 0.7l8.7 2l1 0.6l2.6 0.4l12 3.6l2.4 0.4l1 0.6l1.3 0l7 2.4l3.7 0.6l4.3 1.7l9.3 2.3l4.4 1.7l2.3 0.3l6.7 2l1 0.7l15.3 4.3l1 0.7l5.3 1.3l6 2.4l12.4 3.6l1 0.7l2.3 0.3l1 0.7l11.3 3.3l1 0.7l4 1l1 0.7l33.4 11l47.6 17.6l2.4 1.4l5 1.6l18.3 8l4 1.4l19 8.6l1.7 0.4l14.6 7l7.7 3l16.3 7.6l4 1.4l1.4 1l5.3 2l3.7 2l2.3 0.6l1.3 1l6.4 2.4l1.3 1l1.7 0.3l34.6 15.3l1 0l4.4 2.4l1 0l1.3 1l1.7 0.3l5.3 2.7l1.3-0.4l0-1l-1.6-3.6l-2-6.4l-64-55.3l-59-54.3l-32-28.7l-32.7-27l-21.7-16l-10-6.7l-20.3-12l-33-16.6l-18.3-8l-18.4-7l-1 0l-8.3-3l-16-4l-19.7-3.7l-21-2.7l-12.3-0.6l-0.3-0.4l-6 0l-0.4-0.3l-10.3 0l-0.3-0.3l-25.4 0.3l-0.3 0.3l-16.3 0.7l-30.7 3.3l-21 3.4l-20.3 4l-24.7 6l-32.7 9.3l-31.3 8l-6 2l-2.3 0.3zM908 94l-8 39.3l-8.7 37.7l-3 11l0 1.3l-10 38.4l-10.3 35.3l-10.7 32.7l-12.3 33l-11.3 26.6l-13 26l0.3 1l29.7 5.7l1.6 0.7l8.7 1.3l4.7 1.3l3.3 0.4l1.3 0.6l5 0.7l1.4 0.7l6.6 1l10.7 2.6l0.3-0.3l7.4 2l0.3-0.3l7.3 2l1.7 0l7.7 2l3 0.3l2.6 1l3 0.3l1.4 0.7l6 1l1.3 0.7l33 7.3l1 0.7l4.3 0.6l12 3.4l3 0.3l19.7 5.3l0.3-0.3l1.4 0.7l2.6 0.3l1.4 0.7l5 1l1 0.6l5.3 1l2.3 1l0.4-0.3l3.6 1.3l0.4-0.3l1 0.7l1.3 0l18.7 5.3l2.6 0.3l1 0.7l2.7 0.3l1 0.7l6 1.3l9.7 3l2.6 0.4l6.7 2.3l6.3 1.3l6.7 2.4l1.3 0l5.7 2l6 1.3l2 1l7 1.7l2 1l0.3-0.4l1 0.7l6.7 1.7l1 0.6l3.7 0.7l3 1.3l0.3-0.3l7.3 2.7l17.4 5l3 1.3l1.3 0l4 1.7l1.3 0l7 2.6l2.7 0.4l10 3.6l5.3 1.4l1.7 1l3.3 0.6l1 0.7l2 0.3l20 7l1 0l5.7 2.4l1.3 0l1.7 1l11.7 3.6l2.6 1.4l4 1l4.4 2l11.3 4l1 0l8 3.3l2 0.3l1.7 1l2 0.4l3.3 1.6l1 0l3.3 1.7l4.7 1.3l15.3 6.4l2 0.3l2.4 1.3l5.3 1.7l6.3 3l2.7 0.7l2.3 1.3l13.7 5.3l3 1.7l10.7 4.3l3.6 2l6 2.4l1.4 1l1 0l1.3 1l18.3 8.3l23.4 12l23.6 13.7l1.4-0.7l11.3-23l12.3-29l10.4-27.7l12-36.3l8.6-29.3l10.4-39l0-1.4l4.6-17.6l0.7-4.4l1-2.6l5.7-26.7l2.3-9l1.3-8l3.7-16.3l0-1.7l-0.7-0.3l-1 0.3l-5.3 4l-16.3 10.7l-18 10.3l-17.4 8.7l-18 7.6l-19 6.7l-17.6 5l-18.7 4l-17.7 2.7l-13.6 1l-0.4 0.3l-4.6 0l-0.4 0.3l-26 0.4l-0.3-0.4l-18-0.6l-18.3-2l-22.7-3.7l-17-3.7l-22.3-6l-21.7-7l-18.7-7l-17.3-7.3l-21.7-10.3l-18.6-10l-18-10.7l-20-13l-18.4-13l-22-17l-16-13.3l-24-21.7l-30.6-30.7l-18-19.6l-19.7-23l-24.3-30.7l-12.4-17l-1.6-1.3z"/>
<path fill="#00ffff" d="M105.7 489l0.6 3l4.4 11.7l2.6 1.3l3 0.3l1.4 0.7l5.6 1l2.7 1l0.3-0.3l8 2.3l7.4 1.3l1.3 0.7l4.3 0.7l9.7 2.6l3 0.4l5.3 1.6l0.4-0.3l3.6 1.3l0.4-0.3l1.3 0.7l4.3 0.6l1.4 0.7l0.3-0.3l5.3 1.6l15.7 3.4l1 0.6l0.3-0.3l1.4 0.7l24.6 5.6l5.4 1.7l0.3-0.3l1 0.6l0.3-0.3l1.4 0.7l6.6 1.3l1 0.7l0.4-0.4l1.3 0.7l9.3 2l1 0.7l16 3.6l1 0.7l0.4-0.3l9 2.6l10.6 2.4l2.4 1l1.3 0l19 5.3l4 0.7l11 3.3l1.3 0l1.4 0.7l10 2.3l2.3 1l4 0.7l1 0.6l3.7 0.7l11 3.3l1.3 0l1 0.7l1.3 0l1 0.7l1.4 0l2.3 1l4.7 1l1 0.6l2.6 0.4l2 1l3.7 0.6l11.3 3.7l3.7 0.7l27.3 8.6l2.4 0.4l2 1l27 8.3l2 1l1 0l1 0.7l37 12l22.6 8l5.4 2.3l4.6 1.3l2.7 1.4l1 0l1.7 1l2 0.3l1.6 1l1 0l1.7 1l2.7 0.7l6.6 3l12.7 4.6l40 17l3.7 2l17.3 7.4l18.7 8.6l1.6 0.4l9.7 4.6l9.3 3.7l2 1.3l1.7 0.4l5.3 2.6l8.7 3.4l1.3 1l1.7 0.3l5.3 2.7l4 1.3l1.4 1l3.3 1l22.3 10l0.7-0.3l0-1.7l-1.3-3.7l-64-55.3l-59-54.3l-32-28.7l-23-19.3l-14-11l-14-10.4l-13.4-9l-12.6-7.6l-15.7-8.7l-20.7-10.3l-14-6.4l-27-10.6l-1 0l-8.3-3l-16-4l-19.7-3.7l-21-2.7l-12.3-0.6l-0.3-0.4l-6 0l-0.4-0.3l-10.3 0l-0.3-0.3l-25.4 0.3l-0.3 0.3l-16.3 0.7l-30.7 3.3l-21 3.4l-20.3 4l-24.7 6l-32.7 9.3l-31.3 8l-6 2l-2.3 0.3zM908 94l-8 39.3l-8.7 37.7l-3 11l0 1.3l-10 38.4l-10.3 35.3l-10.7 32.7l-9.3 25.3l-11.7 28.3l-12 25l0.4 1l16 3l3.3 1l3.7 0.4l3 1l2 0l1.3 0.6l5.3 0.7l1.4 0.7l6.6 1l3 1l5 0.6l1.4 0.7l8 1.3l7.6 2l0.4-0.3l10.6 2.7l1.7 0l17.7 4.3l0.3-0.3l4 1.3l0.3-0.3l7.4 2l1.6 0l6.7 2l1.7 0l1.3 0.6l7.3 1.4l1.4 0.6l11.3 2.4l1 0.6l11.3 2.4l10.7 3l1.7 0l6.3 2l0.3-0.4l3.7 1.4l3 0.3l6 2l1.7 0l7.6 2.3l0.4-0.3l2.3 1l5.3 1l1 0.7l2.7 0.3l2.3 1l0.4-0.3l1 0.6l1.3 0l6.3 2l0.4-0.3l4.6 1.7l0.4-0.4l1 0.7l5 1l2.3 1l3.7 0.7l1 0.6l0.3-0.3l8.3 2.7l0.4-0.4l1 0.7l2.6 0.3l10.4 3.4l2.6 0.3l3.4 1.3l2.3 0.4l7 2.3l1.3 0l5.7 2l0.3-0.3l3 1.3l0.4-0.3l2 1l0.3-0.4l3 1.4l0.3-0.4l1 0.7l1.4 0l1 0.7l5.6 1.3l1 0.7l0.4-0.4l4 1.7l0.3-0.3l1 0.6l0.3-0.3l1 0.7l7.7 2l3 1.3l0.3-0.3l1 0.6l3.4 0.7l5.3 2l1.3 0l4 1.7l4.7 1l2.7 1.3l0.3-0.3l4 1.6l0.3-0.3l5 2l0.4-0.3l7 2.6l26.6 8.4l1 0.6l5.4 1.4l3.6 1.6l4.4 1l8.6 3.4l1.4 0l6.3 2.6l1 0l2 1l5 1.4l1.7 1l4 1l1.6 1l5 1.3l15.7 6l3 0.7l2.3 1.3l1 0l2.7 1.3l4.7 1.4l11.3 4.6l1 0l29.7 11.7l5.6 2.7l1 0l3 1.6l4.4 1.4l10 4.6l6.3 2.4l10.3 5l10.4 4.3l10.3 5.3l4.3 1.7l22.4 11.3l2.3 1.7l4.3 2l11.7 6.7l5.3 3.3l0.7-0.3l11-23.4l9.3-22.3l10.4-27.7l12-36.3l8.6-29.3l10.4-39l0-1.4l4.6-17.6l0.7-4.4l1-2.6l5.7-26.7l2.3-9l1.3-8l3.7-16.3l0-1.7l-0.7-0.3l-1 0.3l-5.3 4l-16.3 10.7l-18 10.3l-17.4 8.7l-18 7.6l-19 6.7l-17.6 5l-18.7 4l-17.7 2.7l-13.6 1l-0.4 0.3l-4.6 0l-0.4 0.3l-26 0.4l-0.3-0.4l-18-0.6l-18.3-2l-22.7-3.7l-17-3.7l-22.3-6l-21.7-7l-18.7-7l-17.3-7.3l-21.7-10.3l-18.6-10l-18-10.7l-20-13l-18.4-13l-22-17l-16-13.3l-24-21.7l-30.6-30.7l-18-19.6l-19.7-23l-24.3-30.7l-12.4-17l-1.6-1.3z"/>
<path fill="#10ffef" d="M105.7 489l0 1l3 8.3l3.6 0.7l5.4 1.7l0.3-0.4l8 2.4l4.3 0.6l2.7 1l12.7 2.7l1.3 0.7l0.3-0.4l1.4 0.7l12.6 2.7l2.7 1l3 0.3l1 0.7l3 0.3l8.3 2.3l0.4-0.3l1.3 0.7l8.3 1.6l8 2.4l0.4-0.4l4 1.4l0.3-0.4l1 0.7l0.3-0.3l1.4 0.6l5.3 1l13.7 3.7l0.3-0.3l1 0.6l4 0.7l6.7 2l0.3-0.3l1 0.6l1.3 0l13.4 3.7l12 2.7l6.3 2l0.3-0.4l2.4 1l6.6 1.4l2.4 1l0.3-0.4l6 2l1.7 0l7.3 2.4l1.3 0l12.7 3.6l15.3 3.7l4.7 1.7l6.3 1.3l2.4 1l14.6 3.7l1 0.6l6.4 1.4l3.3 1.3l5 1l1 0.7l1.3 0l8 2.6l3.7 0.7l17 5l3.3 1.3l2.4 0.4l1 0.6l20.6 6l2 1l3.4 0.7l4 1.7l18.6 5.6l5 2l2.4 0.4l1 0.6l4 1l1 0.7l3 0.7l18 6.3l1 0l4.6 2l2 0.3l31 11l42.7 16.7l25.7 11.3l4.6 1.7l3 1.7l2.4 0.6l39.3 17.7l1.7 0.3l2 1.4l7 2.6l11.3 5.4l6.3 2.3l43.4 19l1-0.3l0-0.7l-5.4-5l-23.6-20l-38.4-33.7l-52.6-48.6l-26.4-23.7l-28.6-24.3l-14-11l-14-10.4l-13.4-9l-12.6-7.6l-15.7-8.7l-20.7-10.3l-14-6.4l-27-10.6l-1 0l-8.3-3l-16-4l-19.7-3.7l-21-2.7l-12.3-0.6l-0.3-0.4l-6 0l-0.4-0.3l-10.3 0l-0.3-0.3l-25.4 0.3l-0.3 0.3l-16.3 0.7l-30.7 3.3l-21 3.4l-20.3 4l-24.7 6l-32.7 9.3l-31.3 8l-6 2l-2.3 0.3zM908 94l-6.3 31.7l-10.4 45.3l-9.6 38.3l-9.7 34.4l-7.7 25l-11.3 33l-11.7 30l-7.6 17.6l-6 12l0.3 1l19.3 3.7l1.7 0.7l2 0l2.7 1l1.6 0l10 2.3l5 0.7l1.4 0.6l5 0.7l17 4l0.3-0.3l10.3 2.6l7.7 1.4l3 1l6 1l7.3 2l0.4-0.4l5.3 1.7l2 0l3.7 1.3l4.6 0.7l11.4 3l1.6 0l1 0.7l0.4-0.4l1 0.7l4.6 0.7l1 0.6l0.4-0.3l4 1.3l7 1.4l13.3 3.6l0.3-0.3l19.7 5.3l0.3-0.3l6 2l0.4-0.3l2.3 1l1.3 0l1.4 0.6l4 0.7l1 0.7l0.3-0.4l2.3 1l2.7 0.4l1 0.6l3 0.4l1 0.6l6.3 1.4l2.4 1l4 0.6l1 0.7l2.6 0.3l6 2l0.4-0.3l1 0.7l7.3 1.6l2 1l0.3-0.3l13 4l2.7 0.3l2.3 1l0.4-0.3l2 1l1.3 0l3.3 1.3l1.4 0l5.6 2l1.4 0l5.6 2l13.7 3.7l1 0.7l0.3-0.4l2 1l3.7 0.7l4 1.7l0.3-0.4l3 1.4l0.4-0.4l3 1.4l0.3-0.4l1 0.7l6.7 1.7l6.3 2.3l0.3-0.3l1 0.6l15 4.4l4 1.6l0.4-0.3l7 2.7l0.3-0.4l17.3 6l8.4 2.4l1.6 1l3.4 0.6l1 0.7l14 4.3l6.6 2.7l1 0l1 0.7l7 2l1.7 1l1.3 0l1.7 1l1 0l13.3 4.6l5.4 2.4l9.6 3l3.4 1.6l1 0l6.3 2.7l2 0.3l1.7 1l1 0l6 2.7l4.6 1.3l2.4 1.4l1 0l7.6 3.3l1 0l6 2.7l2.7 0.6l2.3 1.4l7.7 2.6l12 5.4l0.3-0.4l23 10.4l1.7 0.3l4.3 2.3l9 3.7l12.7 6l28.3 14.3l20.4 11.7l0.6-0.3l11.7-25.7l0.3-1.7l4.4-9.6l3.6-10.4l2-4.3l8.7-24.3l11-34.4l11.3-40l10-39.6l0.7-4.4l1-2.6l5.7-26.7l2.3-9l1.3-8l3.7-16.3l0-1.7l-0.7-0.3l-1 0.3l-5.3 4l-16.3 10.7l-18 10.3l-17.4 8.7l-18 7.6l-19 6.7l-17.6 5l-18.7 4l-17.7 2.7l-13.6 1l-0.4 0.3l-4.6 0l-0.4 0.3l-26 0.4l-0.3-0.4l-18-0.6l-18.3-2l-22.7-3.7l-17-3.7l-22.3-6l-21.7-7l-18.7-7l-17.3-7.3l-21.7-10.3l-18.6-10l-18-10.7l-20-13l-18.4-13l-22-17l-16-13.3l-24-21.7l-30.6-30.7l-18-19.6l-19.7-23l-24.3-30.7l-12.4-17l-1.6-1.3z"/>
<path fill="#20ffdf" d="M105.7 489l0.6 3l2 1l15.4 3.3l2.6 1l0.4-0.3l6.6 2l0.4-0.3l5 1.6l0.3-0.3l11 3l0.3-0.3l1.4 0.6l18 4l1.3 0.7l0.3-0.3l1 0.6l1.4 0l2.6 1l0.4-0.3l1.3 0.7l0.3-0.4l1 0.7l4.4 0.7l2.6 1l0.4-0.4l12.3 3.4l0.3-0.4l1 0.7l9.7 2l12 3.3l0.3-0.3l1 0.7l0.4-0.4l2.3 1l1.3 0l4 1.4l0.4-0.4l1 0.7l0.3-0.3l1.3 0.6l2.7 0.4l1 0.6l0.3-0.3l1.4 0.7l2.6 0.3l1 0.7l3 0.3l1 0.7l1.4 0l2.6 1l10.7 2.3l3.7 1.3l10.6 2.4l2.4 1l5.3 1l7.3 2.3l1.7 0l2.3 1l4 0.7l3.7 1.3l19 4.7l4.7 1.6l6.3 1.4l1 0.6l8.7 2l11 3.4l1.3 0l5.7 2l1.3 0l14 4.3l6 1.3l4.3 1.7l7 1.7l4.4 1.6l2.3 0.4l10 3l1 0.6l1.3 0l3 1.4l6.7 1.6l2 1l2.3 0.4l2 1l3.4 0.6l15.3 5.4l2.3 0.3l1 0.7l20.4 6.3l1 0.7l12 3.6l6.6 2.7l4 1l2.7 1.3l0.3-0.3l3.7 1.7l13.3 4.3l1.7 1l2 0.3l13.7 5.4l1 0l1.6 1l1 0l1.7 1l5.3 1.6l18.7 7.4l12 5.3l11.3 4.3l5.4 2.7l1.6 0.3l6.7 3.4l8.7 3.3l28.6 13l1.7 0.3l10.7 5l1.6 0.4l5 2.6l1.7 0.4l41 18l1 0l6 3l1 0l1.7 1l1.3-0.4l-0.7-1.3l-16.6-14l-38.4-33.7l-52.6-48.6l-32-28.7l-23-19.3l-23.4-18l-18-12.4l-12.6-7.6l-15.7-8.7l-20.7-10.3l-14-6.4l-18-7.3l-13-4.7l-15.6-4.3l-15.7-3.3l-16.3-2.7l-14.4-1.7l-12.3-0.6l-0.3-0.4l-6 0l-0.4-0.3l-10.3 0l-0.3-0.3l-25.4 0.3l-0.3 0.3l-16.3 0.7l-30.7 3.3l-21 3.4l-20.3 4l-24.7 6l-32.7 9.3l-31.3 8l-6 2l-2.3 0.3zM908 94l-6.3 31.7l-10.4 45.3l-9.6 38.3l-9.7 34.4l-7.7 25l-9 26.6l-11 29l-8 19l-5.3 11l0 1l7.3 1.7l2 0l6.4 1.7l8.6 1.3l1.4 0.7l1.6 0l8.4 2l1.6 0l1.4 0.6l9.6 1.7l12.4 3l0.3-0.3l18 4.3l0.3-0.3l1.4 0.6l7.3 1.4l1.3 0.6l0.4-0.3l5.6 1.7l1.7 0l5.3 1.6l0.4-0.3l2.6 1l0.4-0.3l2.6 1l4.4 0.6l3 1l1.6 0l1.4 0.7l8.3 1.7l2.7 1l3 0.3l2.6 1l0.4-0.3l1 0.6l7 1.4l12 3.3l0.3-0.3l1.3 0.6l5.4 1l1 0.7l1.3 0.3l0.3-0.3l5 1.7l0.4-0.4l3.6 1.4l1.7 0l2.3 1l1.7 0l5 1.6l1.3 0l1.4 0.7l4 0.7l1 0.6l5.3 1l2.3 1l2.7 0.4l1 0.6l11.7 2.7l1 0.7l5.3 1l1 0.6l6.3 1.4l3.4 1.3l0.3-0.3l1.3 0.3l1 0.7l6 1.6l0.4-0.3l1 0.7l5 1l8 2.6l2.6 0.4l4.4 1.6l1.3 0l3.3 1.4l5 1l11.4 3.6l0.3-0.3l3 1.3l2.3 0.4l8 2.6l3.4 0.7l1 0.7l2.3 0.3l1 0.7l7 1.6l1 0.7l6.7 1.7l5.3 2l1.3 0l1 0.6l10.7 3l3 1.4l1.3 0l4 1.6l0.4-0.3l7 2.7l0.3-0.4l3 1.4l11.3 3.3l1.7 1l10.7 3l1.6 1l2.4 0.3l1 0.7l11 3.3l2.6 1.4l17 5.3l1.7 1l6 1.7l1.7 1l10.6 3.3l5.4 2.3l7.6 2.4l3.4 1.6l3 0.7l6.3 2.7l1 0l1.7 1l1 0l6 2.6l1 0l11.3 4.7l7 2.3l5 2.4l2.7 0.6l2.3 1.4l7.7 2.6l13.6 6l1.7 0.4l10 4.6l3.3 1l12.7 6l2.3 0.7l1.4 1l5.3 2l29.7 14.3l13.3 7l6 3.7l1.3 0.3l9 5.4l1.7-0.7l8-18l0.3-1.7l4.4-9.6l3.6-10.4l2-4.3l12.4-35.3l7.3-23.4l1.3-5.6l1.7-4.4l7-26.3l1.3-3.7l10-39.6l0.7-4.4l1-2.6l5.7-26.7l2.3-9l1.3-8l3.7-16.3l0-1.7l-0.7-0.3l-1 0.3l-5.3 4l-16.3 10.7l-18 10.3l-17.4 8.7l-18 7.6l-19 6.7l-17.6 5l-18.7 4l-17.7 2.7l-13.6 1l-0.4 0.3l-4.6 0l-0.4 0.3l-26 0.4l-0.3-0.4l-18-0.6l-18.3-2l-22.7-3.7l-17-3.7l-22.3-6l-21.7-7l-18.7-7l-17.3-7.3l-21.7-10.3l-18.6-10l-18-10.7l-20-13l-18.4-13l-22-17l-16-13.3l-24-21.7l-30.6-30.7l-18-19.6l-19.7-23l-24.3-30.7l-12.4-17l-1.6-1.3z"/>
<path fill="#30ffcf" d="M111.3 487.3l0 0.7l1.4 0.7l1.3 0l2.7 1l0.3-0.4l6.7 2l0.3-0.3l11 3l0.3-0.3l5.4 1.6l4.3 0.7l2.7 1l7 1.3l1 0.7l0.3-0.3l6.7 2l0.3-0.4l11 3l4.3 0.7l2.7 1l0.3-0.3l5 1.6l0.4-0.3l4 1.3l0.3-0.3l1 0.7l0.3-0.4l1.4 0.7l5.3 1l16.3 4.3l0.4-0.3l1 0.7l2.6 0.3l12 3.3l0.4-0.3l1 0.7l1.3 0l2.7 1l0.3-0.4l1 0.7l14.7 3.3l3.6 1.4l9.4 2l2.3 1l0.3-0.4l2.4 1l5.3 1l7.3 2.4l0.4-0.4l12.3 3.7l0.3-0.3l12.4 3.6l15.3 3.7l1 0.7l5 1l13.3 4l2.7 0.3l3.3 1.3l3.7 0.7l9.3 3l1.4 0l7 2.3l1.3 0l4.3 1.7l8.4 2l3.3 1.3l5.7 1.4l4.3 1.6l1.3 0l2 1l1.4 0l2 1l1.3 0l6.3 2.4l3.4 0.6l5.3 2l2.3 0.4l2 1l11.7 3.3l19.3 6.3l1 0.7l0.4-0.3l4.6 2l0.4-0.4l1 0.7l15 4.7l12.6 4.6l1 0l6.7 2.7l2 0.3l1.7 1l5 1.4l7.3 3l2 0.3l5.3 2.3l2 0.4l10.7 4.3l2 0.3l1.7 1l15.3 5.7l30.7 12.7l45.3 20l2.3 0.6l6 3l4.7 1.7l6 3l4 1.3l1.3 1l1.7 0.4l12.3 5.6l1 0l3 1.7l18 7.3l5.4 2.7l0.6-0.3l0-1l-15.6-13.4l-28.4-25l-52.6-48.6l-32-28.7l-23-19.3l-23.4-18l-18-12.4l-12.6-7.6l-15.7-8.7l-20.7-10.3l-14-6.4l-18-7.3l-13-4.7l-15.6-4.3l-15.7-3.3l-16.3-2.7l-14.4-1.7l-12.3-0.6l-0.3-0.4l-6 0l-0.4-0.3l-10.3 0l-0.3-0.3l-25.4 0.3l-0.3 0.3l-16.3 0.7l-30.7 3.3l-21 3.4l-20.3 4l-24.7 6l-25.3 7.3l-25 6.3l-5 1.7l-1.4 0zM908 94l-6.3 31.7l-7.7 34l-8 33l-10 37.3l-9.7 32.3l-9 27.4l-12.3 33l-10 23l-0.7 2.6l10 2.4l2 0l3 1l5.4 0.6l4.6 1.4l0.4-0.4l1.3 0.7l1.7 0l1.3 0.7l0.3-0.4l1.4 0.7l3.3 0.3l1.3 0.7l0.4-0.3l1.3 0.6l3.3 0.4l11 2.6l0.4-0.3l1 0.7l0.3-0.4l6 1.7l11 2l2.7 1l0.3-0.3l5.7 1.6l0.3-0.3l5.3 1.7l0.4-0.4l3 1l3 0.4l1.3 0.6l0.3-0.3l4 1.3l7.4 1.4l1.3 0.6l1.7 0l4 1.4l0.3-0.4l5.3 1.7l6 1l2.4 1l0.3-0.3l8.3 2.3l0.4-0.3l1 0.6l7 1.4l8 2.3l0.3-0.3l23.7 6.3l4.3 0.7l8.7 2.6l0.3-0.3l1 0.7l14.3 3.3l3.4 1.3l0.3-0.3l3.3 1.3l1.7 0l3.3 1.4l1.7 0l4.7 1.6l1.6 0l1 0.7l8.7 2l3.3 1.3l0.4-0.3l2 1l0.3-0.3l13 4l2.7 0.3l3.3 1.3l10.7 2.7l3.3 1.3l0.3-0.3l9 3l8 2l2 1l0.4-0.3l1 0.6l4.6 1l5.4 2l0.3-0.3l1 0.7l5.7 1.3l3 1.3l0.3-0.3l1 0.7l12 3.3l5 2l0.3-0.3l3.4 1l1 0.6l3 0.7l3 1.3l0.3-0.3l5 2l0.3-0.3l8.4 3l1.3 0l11 4l5.3 1.3l1.7 1l3.3 0.7l2 1l2 0.3l18 6.3l1 0l2.7 1.4l3.3 0.6l3.7 1.7l1.3 0l7.4 3l11.6 3.7l1.7 1l8 2.3l10.7 4.3l6.6 2l2.4 1.4l2 0.3l4.3 2l5.7 1.7l4.3 2l13 4.6l5 2.4l8.7 3l6.3 3l3.7 1l9.3 4.3l1 0l4.7 2.3l14 5.7l26.3 12l31.7 15.7l18 10.3l1-0.3l10-23l11-29.4l10.3-31l5.3-18.6l1.7-4.4l7-26.3l1.3-3.7l10-39.6l0.7-4.4l1-2.6l5.7-26.7l2.3-9l1.3-8l3.7-16.3l0-1.7l-0.7-0.3l-1 0.3l-5.3 4l-16.3 10.7l-18 10.3l-17.4 8.7l-18 7.6l-19 6.7l-17.6 5l-18.7 4l-17.7 2.7l-13.6 1l-0.4 0.3l-4.6 0l-0.4 0.3l-26 0.4l-0.3-0.4l-18-0.6l-18.3-2l-22.7-3.7l-17-3.7l-22.3-6l-21.7-7l-18.7-7l-17.3-7.3l-21.7-10.3l-18.6-10l-18-10.7l-20-13l-18.4-13l-22-17l-16-13.3l-24-21.7l-30.6-30.7l-18-19.6l-19.7-23l-24.3-30.7l-12.4-17l-1.6-1.3z"/>
<path fill="#40ffbf" d="M122 484.3l0 0.7l1 0.7l0.3-0.4l1 0.7l4.4 0.7l2.6 1l0.4-0.4l1 0.7l2.6 0.3l4 1.4l0.4-0.4l4.3 1l1.3 0.7l18 4l9.4 2.7l0.3-0.4l2.7 1l0.3-0.3l1 0.7l0.3-0.4l5 1.7l0.4-0.3l24.6 6.3l0.4-0.3l1 0.6l2.6 0.4l6.7 2l0.3-0.4l1 0.7l0.4-0.3l10.3 3l0.3-0.4l1 0.7l5.4 1l1 0.7l0.3-0.4l1.3 0.7l1.4 0l3.6 1.3l0.4-0.3l1.3 0.7l1.3 0l3.7 1.3l6.7 1.3l2.3 1l0.3-0.3l10 3l0.4-0.3l3.6 1.3l11.7 2.7l6 2l3 0.3l7.3 2.3l13.7 3.4l2.3 1l5 1l2.4 1l4 0.6l1 0.7l2.6 0.3l1 0.7l5 1.3l1.4 0l1 0.7l1.3 0l1 0.7l14.3 3.6l1 0.7l1.4 0l2.3 1l22 6l3.3 1.3l2.4 0.4l3.3 1.3l2.3 0.3l2 1l1.4 0l8.6 2.7l1 0.7l1.4 0l1 0.6l3.3 0.7l2 1l2.3 0.3l1 0.7l2.4 0.3l10.3 3.7l5.3 1.3l7 2.7l2.4 0.3l3 1.4l25 8l1 0.6l0.3-0.3l1.7 1l8 2.3l2.6 1.4l7 2l45.7 16.6l34.7 14l25.6 11.4l1 0l1.4 1l1.6 0.3l24.4 11l4 1.3l11.3 5.4l1.7 0.3l1.3 1l1.7 0.3l7.6 3.7l19.7 8l5.3 2.7l1.4-0.4l0-0.6l-32.4-28.4l-52.6-48.6l-32-28.7l-23-19.3l-23.4-18l-18-12.4l-12.6-7.6l-15.7-8.7l-20.7-10.3l-14-6.4l-18-7.3l-13-4.7l-15.6-4.3l-15.7-3.3l-16.3-2.7l-14.4-1.7l-12.3-0.6l-0.3-0.4l-6 0l-0.4-0.3l-10.3 0l-0.3-0.3l-14 0l-0.4 0.3l-11 0l-0.3 0.3l-11.7 0.4l-0.3 0.3l-4.3 0l-0.4 0.3l-14 1l-16.3 2l-35 6l-24.7 5.7l-31.6 9zM908 94l-6.3 31.7l-7.7 34l-8 33l-0.7 1.3l-2 9l-6.6 24.7l-8.7 29.3l-10.7 32.7l-9.3 25.3l-6.7 16.7l-4 8.6l0 1l4.4 1.4l2 0l3 1l5.3 0.6l9.7 2.4l3.3 0.3l1.3 0.7l0.4-0.4l3 1l1.6 0l18.7 4.4l1.7 0l3 1l1.6 0l4.4 1.3l0.3-0.3l3 1l10.3 2l1.4 0.6l3.3 0.4l1.3 0.6l3 0.4l1.4 0.6l3 0.4l1.3 0.6l13.3 2.7l8.4 2.3l3 0.4l2.3 1l3.3 0.3l3.7 1.3l7.3 1.4l1 0.6l7 1.4l5.4 1.6l0.3-0.3l16 4.3l0.3-0.3l3.7 1.3l18.3 4.4l1 0.6l0.4-0.3l2.3 1l5.3 1l1 0.7l3 0.3l3.4 1.3l0.3-0.3l1 0.7l6.7 1.3l5.6 2l1.7 0l1 0.7l1.3 0l2.4 1l2.6 0.3l1 0.7l6.4 1.3l14.3 4.3l0.3-0.3l9 3l0.4-0.3l4.6 1.6l1.4 0l11.3 3.7l8.3 2l2 1l3.7 0.7l6.3 2.3l0.4-0.3l1 0.6l2.3 0.4l2 1l0.3-0.4l1 0.7l2.4 0.3l1 0.7l0.3-0.3l3 1.3l0.3-0.3l5 2l0.4-0.4l1 0.7l7.6 2l4 1.7l0.4-0.4l8.3 3l1.3 0l3 1.4l0.4-0.4l4 1.7l1.3 0l5 2l1.3 0l1 0.7l17.7 5.3l2.7 1.3l4.3 1l2 1l2 0.4l2 1l2 0.3l19 6.7l1 0l1 0.6l1 0l15.3 5.7l6 1.7l1.7 1l5 1.3l4.3 2l13.4 4.3l3.3 1.7l2 0.3l5.3 2.4l2 0.3l4.4 2l1 0l3.3 1.7l4.7 1.3l19.6 8l2.7 0.7l2.3 1.3l9.4 3.3l9.6 4.4l1.7 0.3l3 1.7l2.7 0.6l19 8.7l1.6 0.3l16.4 7.4l32 15.6l20 11l0.3 1.4l0.7 0.3l1-0.7l7.6-18.3l10.4-27.7l10.3-31l5.3-18.6l1.7-4.4l7-26.3l1.3-3.7l10-39.6l0.7-4.4l1-2.6l5.7-26.7l2.3-9l1.3-8l3.7-16.3l0-1.7l-0.7-0.3l-1 0.3l-5.3 4l-16.3 10.7l-18 10.3l-17.4 8.7l-18 7.6l-19 6.7l-17.6 5l-18.7 4l-17.7 2.7l-13.6 1l-0.4 0.3l-4.6 0l-0.4 0.3l-26 0.4l-0.3-0.4l-18-0.6l-18.3-2l-22.7-3.7l-17-3.7l-22.3-6l-21.7-7l-18.7-7l-17.3-7.3l-21.7-10.3l-18.6-10l-18-10.7l-20-13l-18.4-13l-22-17l-16-13.3l-24-21.7l-30.6-30.7l-18-19.6l-19.7-23l-24.3-30.7l-12.4-17l-1.6-1.3z"/>
<path fill="#50ffaf" d="M132.7 481.7l0 0.6l2 0.7l0.3-0.3l1 0.6l0.3-0.3l1.4 0.7l5.3 1l5.3 1.6l0.4-0.3l1 0.7l0.3-0.4l1.3 0.7l15 3.3l4 1.4l0.4-0.4l2.6 1l0.4-0.3l1 0.7l7 1.3l5.3 1.7l0.3-0.4l2.4 1l0.3-0.3l12 3.3l9.7 2l1 0.7l0.3-0.3l23.7 6.3l0.3-0.3l3.7 1.3l1.3 0l9 2.7l8 1.6l2.3 1l0.4-0.3l7.3 2.3l0.3-0.3l10 3l0.4-0.3l6 2l2.6 0.3l15 4.3l6.4 1.4l6 2l2.6 0.3l2.4 1l3.6 0.7l1 0.6l2.7 0.4l2.3 1l5 1l1 0.6l1.4 0l9.6 3l1.4 0l4.3 1.7l5 1l2 1l7.3 1.7l17 5.3l3.7 0.7l4.3 1.6l1.4 0l2 1l2.3 0.4l4.3 1.6l1.4 0l1 0.7l7.6 2l7.4 2.7l8.6 2.3l1 0.7l14.4 4.6l1.3 0l1 0.7l6 1.7l3 1.3l2 0.3l3 1.4l1 0l2 1l15 4.6l1 0.7l1 0l1 0.7l1 0l2.7 1.3l0.3-0.3l5.7 2.3l3 0.7l3.6 1.6l27 9.4l8 3.3l2 0.3l1.7 1l12 4.4l9 4l1 0l2.3 1.3l14.7 5.7l27.3 12l1 0l1.4 1l4 1.3l1.3 1l1.7 0.3l13 6l1.6 0.4l1.4 1l1.6 0.3l13 6l1 0l23 10.3l1 0l1.4 1l0.3-0.3l3.3 1.7l1-0.4l0-0.6l-21-18.4l-52.6-48.6l-32-28.7l-23-19.3l-23.4-18l-18-12.4l-12.6-7.6l-15.7-8.7l-20.7-10.3l-14-6.4l-18-7.3l-13-4.7l-15.6-4.3l-15.7-3.3l-16.3-2.7l-14.4-1.7l-12.3-0.6l-0.3-0.4l-6 0l-0.4-0.3l-10.3 0l-0.3-0.3l-14 0l-0.4 0.3l-11 0l-0.3 0.3l-11.7 0.4l-0.3 0.3l-4.3 0l-0.4 0.3l-14 1l-16.3 2l-35 6l-24.7 5.7l-39 11l-11.3 2.7zM908 94l-6.3 31.7l-7.7 34l-8 33l-0.7 1.3l-2 9l-6.6 24.7l-8.7 29.3l-10.7 32.7l-9.3 25.3l-7.7 18.3l0 1.4l7.4 1.6l1.6 0l4.7 1.4l3.3 0.3l1.7 0.7l3.3 0.3l1.4 0.7l0.3-0.4l1.3 0.7l6.7 1l1.3 0.7l2 0l2.7 1l0.3-0.4l22.7 5.4l0.3-0.4l6 1.7l0.4-0.3l5.3 1.6l1.7 0l3 1l4.6 0.7l1.4 0.7l1.6 0l5.4 1.6l1.6 0l1.4 0.7l7.3 1.3l8.7 2.4l0.3-0.4l1 0.7l3 0.3l1 0.7l0.3-0.3l8.4 2.3l7 1.3l1 0.7l0.3-0.3l1.3 0.6l0.4-0.3l1 0.7l1.3 0l8 2.3l0.3-0.3l23.7 6.3l1.7 0l1.3 0.7l8 1.6l4.7 1.7l0.3-0.3l2.3 1l7.7 1.6l1 0.7l0.3-0.3l1.4 0.6l2.6 0.4l3.4 1.3l0.3-0.3l4.7 1.6l0.3-0.3l1 0.7l2.7 0.3l1 0.7l0.3-0.4l2.3 1l4 0.7l3.4 1.3l12.3 3l8.3 2.7l2.7 0.3l16.3 5l1.4 0l7.6 2.7l0.4-0.3l10.3 3.3l4.7 1l2 1l0.3-0.3l1 0.6l3.3 0.7l5.4 2l0.3-0.3l1 0.6l2.3 0.4l1 0.6l0.4-0.3l3 1.3l0.3-0.3l5 2l2.7 0.3l1.6 1l0.4-0.3l6.3 2.3l4.3 1l1 0.7l4.7 1l1 0.7l2 0.3l3 1.3l1.3 0l4 1.7l1.4 0l7 2.7l3.6 0.6l12 4.4l4.4 1l1.6 1l3.4 0.6l2 1l12 3.7l2.6 1.3l1.4 0l2 1l7 2l3.6 1.7l6 1.7l1.7 1l5 1.3l1.7 1l2.3 0.3l8.3 3.4l10.7 3.3l4.3 2l5.7 1.7l7 3l2 0.3l1.7 1l1 0l1.6 1l1 0l1.7 1l1 0l7 3l1 0l4.3 2l6 2l3.4 1.7l2 0.3l5.6 2.7l5.4 1.6l3 1.7l1.6 0.3l3.4 1.7l0.3-0.3l7.7 3.6l0.3-0.3l11 5l5.7 2l3 1.7l21 9l2 1.3l8 3.3l3.3 2l2.3 0.7l23.4 11.7l16.6 9.3l1.7-0.7l9.3-23.3l8.7-24.3l8.7-26.7l8.6-29.3l0.7-3.7l8-28.7l6.3-25.6l0.7-4.4l1-2.6l5.7-26.7l2.3-9l1.3-8l3.7-16.3l0-1.7l-0.7-0.3l-1 0.3l-5.3 4l-16.3 10.7l-18 10.3l-17.4 8.7l-18 7.6l-19 6.7l-17.6 5l-18.7 4l-17.7 2.7l-13.6 1l-0.4 0.3l-4.6 0l-0.4 0.3l-26 0.4l-0.3-0.4l-18-0.6l-18.3-2l-22.7-3.7l-17-3.7l-22.3-6l-21.7-7l-18.7-7l-17.3-7.3l-21.7-10.3l-18.6-10l-18-10.7l-20-13l-18.4-13l-22-17l-16-13.3l-24-21.7l-30.6-30.7l-18-19.6l-19.7-23l-24.3-30.7l-12.4-17l-1.6-1.3z"/>
<path fill="#60ff9f" d="M143.7 478.7l0 0.6l1 0.7l8.3 1.7l4 1.3l0.3-0.3l1 0.6l0.4-0.3l2.6 1l0.4-0.3l1 0.6l5.6 1l5.4 1.7l0.3-0.3l1 0.6l0.3-0.3l4 1.3l0.4-0.3l1 0.7l0.3-0.4l1 0.7l2.7 0.3l8.3 2.4l0.3-0.4l1 0.7l2.7 0.7l0.3-0.4l1 0.7l0.4-0.3l2.3 1l1.3 0l6.7 2l0.3-0.4l1 0.7l0.4-0.3l10.3 3l0.3-0.4l1 0.7l0.4-0.3l7.6 2.3l6.7 1.3l1 0.7l0.3-0.3l2.4 1l0.3-0.4l2.3 1l0.4-0.3l2.3 1l0.3-0.3l2.4 1l0.3-0.4l3.3 1.4l0.4-0.4l2.3 1l1.3 0l2.7 1l0.3-0.3l12.4 3.7l4 0.6l18.6 5.4l1.4 0l6.3 2l6.3 1.3l1 0.7l6.4 1.3l3.6 1.3l1.4 0l1 0.7l6 1.3l1 0.7l3 0.3l1 0.7l5 1l5.6 2l1.4 0l16.3 5l2.7 0.3l4.3 1.7l8.3 2l7.7 2.7l3.7 0.6l6.3 2.4l1.3 0l2 1l1.4 0l2 1l1.3 0l1 0.6l3.3 0.7l1 0.7l1.4 0l9.3 3.3l7.7 2l5 2l9.3 2.7l1 0.6l0.3-0.3l3 1.3l1 0l8 3l0.4-0.3l2.6 1.3l2 0.4l8 3l0.4-0.4l7.6 3l1 0l12.7 4.7l11.7 3.7l15.6 6l5.7 1.6l8.7 3.7l2 0.3l10.3 4.4l2.7 0.6l4 2l3.6 1l2.4 1.4l5 1.6l6.3 3l1 0l2.3 1.4l1.7 0.3l2.3 1.3l19 7.7l5.4 2.7l1.6 0.3l19.4 8.7l4 1.3l3.6 2l1 0l1.4 1l4 1.3l1.3 1l1.7 0.4l14.6 6.6l0.4-0.3l1.3 1l8.7 3.7l1.3-0.4l-0.3-1l-9.4-8l-52.6-48.6l-32-28.7l-23-19.3l-23.4-18l-18-12.4l-12.6-7.6l-15.7-8.7l-20.7-10.3l-14-6.4l-18-7.3l-13-4.7l-15.6-4.3l-15.7-3.3l-27.3-4l-15.7-1l-0.3-0.4l-16.7-0.3l-0.3-0.3l-32 0.6l-0.4 0.4l-17.3 1l-23 2.6l-30 5l-29.7 6.7zM908 94l-6.3 31.7l-7.7 34l-8 33l-0.7 1.3l-2 9l-6.6 24.7l-8.7 29.3l-10.7 32.7l-14.3 38l3.3 1l8.4 1.3l1.3 0.7l11.7 2l1 0.6l0.3-0.3l2 0.3l1 0.7l1.7 0.3l0.3-0.3l1.3 0.7l0.4-0.4l2.6 1l0.4-0.3l1.3 0.7l0.3-0.4l9 2.4l0.4-0.4l10.3 2.7l0.3-0.3l6 1.3l1 0.7l0.4-0.4l1.3 0.7l0.3-0.3l5.7 1.6l4.7 0.7l1.3 0.7l3 0.3l5.7 1.7l1.6 0l1.4 0.6l11.6 2.4l1 0.6l7.7 1.4l1 0.6l0.3-0.3l1.4 0.7l2.6 0.3l1 0.7l0.4-0.4l11 3l0.3-0.3l1 0.7l7 1.3l2.7 1l1.6 0l1 0.7l1.7 0l7.7 2.3l1.6 0l9 2.7l0.4-0.4l7.3 2.4l0.7-0.4l2.3 1l0.3-0.3l3.4 1.3l0.3-0.3l2.3 1l0.4-0.3l2.3 1l5.3 1l1 0.6l3 0.4l1 0.6l9 2l1 0.7l0.4-0.3l4.6 1.6l0.4-0.3l4.6 1.7l0.4-0.4l1 0.7l3.6 0.7l1 0.6l3 0.4l1 0.6l13.4 3.4l6 2l2.6 0.3l8 2.7l0.4-0.4l5.3 2l0.3-0.3l3.4 1.3l0.3-0.3l5.3 2l0.4-0.3l11.3 3.6l8 2l1 0.7l0.3-0.3l1 0.6l1.4 0l5.3 2l12.3 3.4l1 0.6l0.4-0.3l1.6 1l0.4-0.3l1 0.6l3.3 0.7l5.3 2l1.4 0l4 1.7l4.6 1l1 0.6l2 0.4l3 1.3l1.4 0l3 1.3l1.3 0l6 2.4l0.3-0.4l53.7 17.7l1 0.7l1 0l2.7 1.3l1.3 0l3.7 1.7l1.3 0l1.7 1l1.3 0l1.3 1l2.4 0.3l4.6 2l3 0.7l1.7 1l5 1.3l4.3 2l13.4 4.3l3.3 1.7l2 0.3l11.7 4.7l1 0l1.6 1l1 0l3.4 1.7l1 0l6 2.6l2 0.4l10 4.3l2 0.3l2.3 1.4l12 4.3l6.3 3l2.7 0.7l2.3 1.3l3.4 1l9.3 4.3l4 1.4l1.3 1l0.4-0.4l1.3 1l1.7 0.4l7.3 3.6l1.7 0.4l22 10l33.3 16.6l8 4.4l2.7 2.3l0.6-0.3l7-17.7l8.7-24.3l8.7-26.7l8.6-29.3l0.7-3.7l8-28.7l6.3-25.6l0.7-4.4l1-2.6l5.7-26.7l2.3-9l1.3-8l3.7-16.3l0-1.7l-0.7-0.3l-1 0.3l-5.3 4l-16.3 10.7l-18 10.3l-17.4 8.7l-18 7.6l-19 6.7l-17.6 5l-18.7 4l-17.7 2.7l-13.6 1l-0.4 0.3l-4.6 0l-0.4 0.3l-26 0.4l-0.3-0.4l-18-0.6l-18.3-2l-22.7-3.7l-17-3.7l-22.3-6l-21.7-7l-18.7-7l-17.3-7.3l-21.7-10.3l-18.6-10l-18-10.7l-20-13l-18.4-13l-22-17l-16-13.3l-24-21.7l-30.6-30.7l-18-19.6l-19.7-23l-24.3-30.7l-12.4-17l-1.6-1.3z"/>
<path fill="#70ff8f" d="M154.3 475.7l0 1l0.7 0.3l1.3 0l4 1.3l0.4-0.3l5.3 1.7l0.3-0.4l1 0.7l0.4-0.3l1 0.6l0.3-0.3l13.7 3.7l0.3-0.4l1 0.7l9.3 2.3l0.4-0.3l1 0.7l1.6 0l1 0.6l1.4 0l6.6 2l0.4-0.3l1 0.7l0.3-0.4l18.3 5l0.4-0.3l3.6 1.3l1.4 0l11.6 3.4l8 1.6l2.4 1l5.3 1l3.7 1.4l1.3 0l3.7 1.3l4 0.7l3.6 1.3l0.4-0.3l14.6 4.3l12.7 3l1.3 0.7l1.4 0l1 0.6l0.3-0.3l1 0.7l5 1l1 0.6l11 2.7l1 0.7l2.7 0.3l1 0.7l1.3 0l7.3 2.3l1.4 0l1 0.7l8.3 2l1 0.6l1.3 0l7 2.4l2.7 0.3l2 1l16.3 4.3l5.4 2l1.3 0l4.3 1.7l1.4 0l2 1l1.3 0l7.3 2.7l1.4 0l1 0.6l6.6 1.7l3 1.3l2.4 0.4l2 1l8.6 2.3l6 2.3l6.4 1.7l7 2.7l0.3-0.4l4.7 2l0.3-0.3l1 0.7l3 0.6l15 5.4l1 0l6.7 2.6l4 1l49.3 17.7l51.3 20.7l3 1.6l10.4 4l3 1.7l3.3 1l3.7 2l1.6 0.3l5.4 2.7l1.6 0.3l3.7 2l3.3 1l28 12.4l1.4-0.4l0-0.6l-17.7-16l-33.3-31l-32-28.7l-26.4-22l-24.6-18.7l-17.7-11.6l-24-13.7l-20.7-10.3l-14-6.4l-18-7.3l-13-4.7l-21.3-5.6l-19.7-3.7l-14.6-2l-13.7-1l-0.3-0.3l-11-0.4l-0.4-0.3l-10.3 0l-0.3-0.3l-25.4 0.3l-0.3 0.3l-11.7 0.4l-0.3 0.3l-4.3 0l-17.4 1.7l-34.3 5l-33.3 7zM908 94l-10 48.3l-1.3 4.4l-5.4 24.3l-3 11l0 1.3l-8 31l-16 54.4l-9 26.6l-9.3 24l0.3 1.7l13.4 3l0.3-0.3l1.3 0.6l5 0.7l3 1l0.4-0.3l9 2.3l0.3-0.3l1.3 0.6l1.7 0l6 1.7l0.3-0.3l9 2.3l1.7 0l7 2l0.3-0.3l7.4 2l3.3 0.3l4 1.3l0.3-0.3l2.7 1l1.7 0l2.6 1l0.4-0.3l5.3 1.6l1.7 0l1.3 0.7l1.7 0l7 2l1.6 0l9.7 2.7l0.3-0.4l2.4 1l4.3 0.7l6.7 2l1.6 0l14.7 4l0.3-0.3l1.4 0.6l9.3 2l2.3 1l0.7-0.3l4.7 1.7l8.3 1.6l17.7 5l0.3-0.3l1 0.7l3 0.3l1 0.7l2.7 0.3l8.6 2.7l0.4-0.4l1 0.7l21 5.3l2 1l4 0.7l1 0.7l0.3-0.4l15 4.7l0.3-0.3l4.7 1.6l0.3-0.3l4.4 1.7l0.3-0.4l7.7 2.7l0.3-0.3l9 3l0.3-0.4l3 1.4l0.4-0.4l2 1l4.6 1l2 1l0.4-0.3l1 0.7l4.6 1l5.4 2l0.3-0.4l3 1.4l0.3-0.4l3 1.4l0.4-0.4l1 0.7l5.3 1.3l1 0.7l0.3-0.3l4 1.6l0.4-0.3l2 1l0.3-0.3l4 1.6l1.3 0l9.4 3.4l0.3-0.4l9.3 3.4l1.4 0l10 3.6l4.6 1l4.7 2l4.3 1l9 3.4l2.4 0.3l1.6 1l1 0l2 1l1 0l2 1l1 0l2 1l1 0l4 1.7l13 4l1.7 1l1.3 0l7.4 3l1 0l2 1l3 0.6l1.6 1l4 1l2.7 1.4l7 2l11.7 4.6l3 0.7l10.6 4.3l1 0l1.7 1l1 0l1.7 1l3 0.7l1.6 1l17.4 6.3l8.3 3.7l3.7 1l4 2l10 3.7l4.6 2.3l0.4-0.3l3 1.6l1.6 0.4l13.4 6l2.3 0.6l18 8.4l3 1l1.3 1l1 0l2 1.3l4.4 1.7l11.6 6l9 4l23.7 12.6l1.7-1l9-24l7-20.6l13.6-45l0.7-3.7l8-28.7l6.3-25.6l0.7-4.4l1-2.6l5.7-26.7l2.3-9l1.3-8l3.7-16.3l0-1.7l-0.7-0.3l-1 0.3l-5.3 4l-16.3 10.7l-18 10.3l-17.4 8.7l-18 7.6l-19 6.7l-17.6 5l-18.7 4l-17.7 2.7l-13.6 1l-0.4 0.3l-4.6 0l-0.4 0.3l-26 0.4l-0.3-0.4l-18-0.6l-18.3-2l-22.7-3.7l-17-3.7l-22.3-6l-21.7-7l-18.7-7l-17.3-7.3l-21.7-10.3l-18.6-10l-18-10.7l-20-13l-18.4-13l-22-17l-16-13.3l-24-21.7l-30.6-30.7l-18-19.6l-19.7-23l-24.3-30.7l-12.4-17l-1.6-1.3z"/>
<path fill="#80ff80" d="M164.7 473l0 0.7l2 0.6l0.3-0.3l1 0.7l0.3-0.4l1 0.7l3 0.3l4 1.4l0.4-0.4l1 0.7l2.6 0.7l0.4-0.4l1 0.7l1.3 0.3l0.3-0.3l1 0.7l0.4-0.4l1 0.7l0.3-0.3l2.3 1l0.4-0.4l6.6 2l0.4-0.3l1 0.7l0.3-0.4l6.3 2l2.7 0.4l4 1.3l0.3-0.3l1 0.6l12 2.7l1 0.7l0.4-0.4l2.3 1l0.3-0.3l7.4 2.3l0.3-0.3l2.3 1l8 1.7l2.4 1l0.3-0.4l3.7 1.4l0.3-0.4l2.3 1l9 2l4.7 1.7l0.3-0.3l8.7 2.6l14 3.4l1 0.6l0.3-0.3l1 0.7l9 2l1 0.6l5 1l1 0.7l7.7 1.7l4.3 1.6l2.7 0.4l14.3 4l1 0.6l1.4 0l4.6 1.7l6 1.3l2.4 1l2.6 0.4l3 1.3l5 1l9 3l3.7 0.7l5.3 2l3.4 0.6l1 0.7l1.3 0l44.3 13.7l15 5.3l4.4 1l2 1l16 5l1.6 1l0.4-0.3l1.6 1l7 2l2.7 1.3l7 2l13 5l2 0.3l3.7 1.7l1 0l7.3 2.7l2.7 1.3l1 0l1.6 1l1 0l1.7 1l1 0l9.7 4l1 0l4 2l2 0.3l2.3 1.4l9.3 3.3l17.7 7.7l1 0l2.3 1.3l5.7 2l7.7 3.7l22 9l3 1.6l3.3 1l3.7 2l5.6 2l1.4 1l3.3 1l3.7 2l1 0l3.3 1.7l1-0.3l0-0.7l-12-11.3l-60.3-54.7l-26.4-22l-28-21l-10-6.7l-15-9l-13.3-7.3l-20.7-10.3l-22.6-10l-22.4-8.4l-21.3-5.6l-19.7-3.7l-14.6-2l-13.7-1l-0.3-0.3l-11-0.4l-0.4-0.3l-10.3 0l-0.3-0.3l-25.4 0.3l-0.3 0.3l-11.7 0.4l-0.3 0.3l-4.3 0l-17.4 1.7l-34.3 5l-33.3 7l-25 6.6zM908 94l-10 48.3l-1.3 4.4l-5.4 24.3l-3 11l0 1.3l-8 31l-16 54.4l-7 21l-9 24.3l5 1.3l11.7 2l1.3 0.7l3 0.3l11 2.7l0.4-0.3l2.6 1l8 1.3l7.4 2l0.3-0.3l3 0.6l1 0.7l0.3-0.3l1.4 0.6l0.3-0.3l1 0.7l0.3-0.4l1.7 0.7l3 0.3l4.3 1.4l0.4-0.4l2.3 1l0.3-0.3l5.7 1.7l0.3-0.4l2.4 1l5 0.7l3.6 1.3l1.7 0l1.3 0.7l1.7 0l11.3 3l1.7 0l1 0.7l0.3-0.4l1.4 0.7l1.6 0l3.7 1.3l0.3-0.3l1 0.7l7.4 1.3l2.6 1l0.4-0.3l1 0.6l1.3 0l1.3 0.7l0.4-0.3l1 0.6l1.3 0l1.3 0.7l0.4-0.3l10.3 3l0.7-0.4l7.3 2.4l0.3-0.4l3.7 1.4l1.7 0l1.3 0.6l4 0.7l1 0.7l1.3 0l5 1.6l1.7 0l1 0.7l1.7 0l1 0.7l1.6 0l3.7 1.3l0.3-0.3l2 1l3 0.3l1 0.7l6.7 1.3l3.3 1.3l0.4-0.3l3.3 1.3l1.7 0l4.6 1.7l0.4-0.3l1 0.6l4 0.7l3.3 1.3l13.7 3.4l2 1l0.3-0.4l11.7 3.7l0.3-0.3l7 2.3l1.3 0l3.4 1.3l0.3-0.3l3.3 1.3l9.4 2.4l2 1l0.3-0.4l2 1l0.3-0.3l5.4 2l0.3-0.3l2 1l0.3-0.4l4.4 1.7l8 2l5.3 2l0.3-0.3l3 1.3l0.4-0.3l3 1.3l0.3-0.3l1 0.6l3.3 0.7l1 0.7l3.4 0.6l5.3 2l1.3 0l1.7 1l0.3-0.3l2 1l1.4 0l1 0.7l5.3 1.3l3 1.3l1.3 0l3 1.4l1.4 0l6 2.3l0.3-0.3l14.3 5l5.4 1.3l1.6 1l4.4 1l2 1l19 6l1 0.7l1 0l1 0.6l1 0l1 0.7l1 0l1 0.7l1 0l2.6 1.3l3.4 0.7l3.6 1.6l7 2l1.7 1l7 2l1.7 1l4 1l3.3 1.7l6 1.7l9 3.6l4 1l2.3 1.4l1.4 0l3.3 1.6l2 0.4l4.3 2l1 0l8 3.3l2.7 0.7l16.3 6.6l1 0l2.4 1.4l14.6 5.3l12 5.3l1.7 0.4l3 1.6l7.3 2.7l2 1.3l0.4-0.3l1.3 1l3.3 1l6.7 3.3l1.7 0.4l3.6 2l3.7 1.3l1.3 1l0.4-0.3l1.3 1l6 2.3l2 1.3l2.3 0.7l1.4 1l5.6 2.3l2.7 1.7l19 9l16.3 8.7l0.7-0.4l6.7-18l10.3-31l5.3-18.6l1.7-4.4l7-26.3l1.3-3.7l13.7-55.3l9-41.3l2-11.7l-0.7-0.3l-1 0.3l-5.3 4l-16.3 10.7l-18 10.3l-17.4 8.7l-18 7.6l-19 6.7l-17.6 5l-18.7 4l-17.7 2.7l-13.6 1l-0.4 0.3l-4.6 0l-0.4 0.3l-26 0.4l-0.3-0.4l-18-0.6l-18.3-2l-22.7-3.7l-17-3.7l-22.3-6l-21.7-7l-18.7-7l-17.3-7.3l-21.7-10.3l-18.6-10l-18-10.7l-20-13l-18.4-13l-22-17l-16-13.3l-24-21.7l-30.6-30.7l-18-19.6l-19.7-23l-24.3-30.7l-12.4-17l-1.6-1.3z"/>
<path fill="#8fff70" d="M175.3 470l0 0.7l1.7 0.6l1.3 0l5.4 1.7l0.3-0.3l1 0.6l1.3 0.4l0.4-0.4l1 0.7l1.6 0l1.4 0.7l5.3 1l1 0.6l0.3-0.3l2.7 1l2.7 0.3l1 0.7l0.3-0.3l1.3 0.6l2.7 0.4l1 0.6l0.3-0.3l3.7 1.3l0.3-0.3l3.7 1.3l0.3-0.3l2.4 1l8 1.7l2.3 1l0.3-0.4l2.4 1l0.3-0.3l2.3 1l0.4-0.3l6 2l2.6 0.3l2.4 1l0.3-0.3l3.7 1.3l0.3-0.3l4.7 1.6l0.3-0.3l6 2l0.3-0.3l8.7 2.6l0.3-0.3l5 1.7l12.4 3l1 0.6l0.3-0.3l1 0.7l13.7 3.3l1 0.7l2.6 0.3l2.4 1l2.6 0.3l1 0.7l2.7 0.3l1 0.7l2.7 0.3l1 0.7l1.3 0l1 0.7l1.3 0l5.7 2l4 0.6l1 0.7l5 1l1 0.7l6 1.3l2 1l2.7 0.3l13.6 4.4l9.4 2.3l4.3 1.7l3.3 0.6l1 0.7l2.7 0.3l1 0.7l4.3 1.3l1.4 0l4 1.7l1.3 0l3 1.3l4.7 1l6 2.4l3.6 0.6l6 2.4l5.4 1.3l43.6 14.7l1 0l1.7 1l5 1.3l2.7 1.3l0.3-0.3l5.7 2.3l1 0l5.6 2.4l4.7 1.3l1.7 1l3 0.7l1.6 1l1 0l12 4.3l10.7 4.3l1 0l22 9l1 0l2.3 1.4l1.7 0.3l13 5.7l5 1.6l1.3 1l5 1.7l6 3l18.4 7.3l10 4.7l0.3-0.3l12.3 5.6l1.4-0.3l0-0.7l-62-56.3l-26.4-22l-28-21l-10-6.7l-15-9l-13.3-7.3l-20.7-10.3l-22.6-10l-22.4-8.4l-21.3-5.6l-26.3-4.7l-27-2.7l-16.7-0.3l-0.3-0.3l-14 0l-0.4 0.3l-11 0l-0.3 0.3l-6.3 0l-0.4 0.4l-13.6 0.6l-35.7 4.4l-32.3 6l-18.4 4.3zM908 94l-10 48.3l-1.3 4.4l-5.4 24.3l-3 11l0 1.3l-6.6 26l-13.7 47.7l-10.7 32.7l-6.3 16.6l0.3 1l26 5.4l6 1.6l0.4-0.3l15 3.7l0.3-0.4l2.7 1l0.3-0.3l2.7 1l0.3-0.3l2.7 1l1.6 0l1.4 0.6l0.3-0.3l1.3 0.7l8.7 1.6l1.3 0.7l1.7 0l5.7 1.7l4.6 0.6l3.7 1.4l1.7 0l1.6 0.6l0.4-0.3l5.3 1.7l1.7 0l1 0.6l0.3-0.3l18 4.7l12.7 2.6l6.3 2l4.3 0.7l6.4 2l0.3-0.3l5 1.6l0.3-0.3l7.4 2.3l1.6 0l1.4 0.7l0.3-0.3l6 2l0.3-0.4l2.4 1l1.3 0l1 0.7l1.7 0l3.6 1.3l0.4-0.3l1 0.7l3 0.3l2 1l8 1.7l1 0.6l9 2l1 0.7l5 1l1 0.7l1.3 0.3l0.3-0.3l1 0.6l0.4-0.3l6.6 2.3l0.4-0.3l7.3 2l2 1l0.3-0.3l2 1l0.4-0.4l7 2.4l0.3-0.4l7 2.4l1.3 0l4.4 1.6l0.3-0.3l8 2.7l0.3-0.4l3 1.4l0.4-0.4l2.3 1l14.7 4l1 0.7l0.3-0.3l1 0.6l9 2.4l1 0.6l0.3-0.3l1 0.7l7.7 2l1 0.6l0.3-0.3l1.7 1l0.3-0.3l1 0.6l3.4 0.7l5.3 2l1.3 0l1.7 1l0.3-0.3l2 1l1.4 0l5 2l0.3-0.4l3 1.4l0.3-0.4l4 1.7l0.4-0.3l4 1.6l1.3 0l7 2.7l1.3 0l13.4 4.3l1.6 1l6.7 1.7l1.7 1l3.3 0.7l1 0.6l12 3.7l3.7 1.7l1.3 0l12.7 4.6l6 1.7l1.6 1l1.4 0l1.6 1l5 1.3l1.7 1l3 0.7l1.7 1l5 1.3l15.6 6l4 1l7 3l2 0.4l1.7 1l2 0.3l8.7 3.7l3 0.6l1.3 1l1 0l8.7 3.7l7 2.3l1.6 1l1 0l2.4 1.4l8.6 3l29 12l2.4 1.3l4 1.3l23.3 10.4l35.3 17l5.7 3.3l8.3 4l1.4 1.3l0.6-0.3l7.7-21.3l7-21.4l5.3-18.6l1.7-4.4l7-26.3l1.3-3.7l13.7-55.3l9-41.3l2-11.7l-0.7-0.3l-1 0.3l-5.3 4l-16.3 10.7l-18 10.3l-17.4 8.7l-18 7.6l-19 6.7l-17.6 5l-18.7 4l-17.7 2.7l-13.6 1l-0.4 0.3l-4.6 0l-0.4 0.3l-26 0.4l-0.3-0.4l-18-0.6l-18.3-2l-22.7-3.7l-17-3.7l-22.3-6l-21.7-7l-18.7-7l-17.3-7.3l-21.7-10.3l-18.6-10l-18-10.7l-20-13l-18.4-13l-22-17l-16-13.3l-24-21.7l-30.6-30.7l-18-19.6l-19.7-23l-24.3-30.7l-12.4-17l-1.6-1.3z"/>
<path fill="#9fff60" d="M186 467l0 0.7l1.3 0.6l17.4 4l10.3 3l0.3-0.3l1 0.7l6.7 1.3l7.7 2.3l0.3-0.3l3.3 1.3l0.4-0.3l6.3 2l0.3-0.3l4.7 1.6l0.3-0.3l11 3.3l0.4-0.3l8.6 2.7l0.4-0.4l10 3l8.6 2l1 0.7l0.4-0.3l1 0.6l7.6 1.7l5.7 2l4 0.7l1 0.6l2.7 0.4l4.6 1.6l8.7 2l3.3 1.4l6.4 1.3l2 1l1.3 0l1 0.7l5 1l6.7 2.3l2.6 0.3l18.4 5.7l3.6 0.7l5.4 2l3.3 0.6l1 0.7l2.7 0.3l1 0.7l2.3 0.3l2 1l1.3 0l4 1.7l1.4 0l1 0.7l1.3 0l8.3 3l5.7 1.3l5 2l6.7 1.7l13 4.6l1.3 0l2 1l3 0.7l26 9l1 0l10.3 4l0.4-0.3l25.3 9.3l2 0.3l1.7 1l10 3.4l2.6 1.3l2 0.3l4 2l1 0l6 2.7l2 0.3l1.4 1l2.6 0.7l1.7 1l16.7 6.3l4 2l3.3 1l42 17.7l5.3 2.7l3 1l0.7-0.4l0-0.6l-3.3-3.4l-50.4-45.3l-30.3-25l-21.7-16l-10-6.7l-15-9l-13.3-7.3l-20.7-10.3l-22.6-10l-22.4-8.4l-21.3-5.6l-26.3-4.7l-27-2.7l-16.7-0.3l-0.3-0.3l-14 0l-0.4 0.3l-11 0l-0.3 0.3l-16.3 0.7l-30.7 3.3l-30 5l-17.3 3.7zM908 94l-10 48.3l-1.3 4.4l-5.4 24.3l-3 11l0 1.3l-6.6 26l-13.7 47.7l-10.7 32.7l-3.6 9.3l0 1.3l2.6 1l0.4-0.3l1.6 0.7l6.4 1l3 1l0.3-0.4l2.7 1l0.3-0.3l1.3 0.7l0.4-0.4l2.6 1l0.4-0.3l2.6 1l0.4-0.3l7.3 2l0.3-0.4l7.7 2l0.3-0.3l1 0.7l0.4-0.4l1 0.7l0.3-0.3l2.7 1l0.3-0.4l4.7 1.4l0.3-0.4l3.7 1.4l0.3-0.4l4.3 1.4l0.4-0.4l7.3 2l0.3-0.3l2.4 1l4.6 1l0.4-0.3l6.6 2l4.4 0.6l1 0.7l1.6 0l1.7 0.7l0.3-0.4l1 0.7l1.7 0l8 2.3l11.7 2.4l4 1.3l1.3 0l1 0.7l0.7-0.4l3.3 1.4l0.7-0.4l1 0.7l1.3 0l1.3 0.7l0.4-0.4l1.3 0.7l1.3 0l2.7 1l1.3 0l1.4 0.7l16 3.6l1 0.7l1.6 0l2.4 1l0.3-0.3l9 2.6l4 0.7l2 1l0.3-0.3l6.4 2l1.3 0l2.7 1l0.3-0.4l3.3 1.4l6.4 1.3l1 0.7l4 0.6l4.6 1.7l0.4-0.3l1.3 0.3l1 0.7l7.7 1.6l4.6 1.7l0.4-0.3l1 0.6l7.3 2l0.3-0.3l5.4 2l0.3-0.3l2 1l0.3-0.4l14 4.4l0.4-0.4l4.3 1.7l0.3-0.3l3.4 1.3l0.3-0.3l10 3.3l0.3-0.3l2 1l0.4-0.4l3 1.4l0.3-0.4l2 1l0.3-0.3l1 0.7l8 2l1 0.6l0.4-0.3l4 1.7l0.3-0.4l5.3 2l8 2l3 1.4l0.4-0.4l4 1.7l0.3-0.3l2 1l0.3-0.4l1.7 1l1.3 0l1 0.7l6.7 1.7l6 2.3l1.3 0l3 1.3l0.4-0.3l5 2l0.3-0.3l8 3l1.3 0l5.4 2l5.3 1.3l2.7 1.3l6.3 1.7l1.7 1l3.3 0.7l1.7 1l2.3 0.3l2 1l2 0.3l20 7l1 0l2.7 1.4l1.3 0l6.3 2.6l1.4 0l1.6 1l10 3l1.7 1l4 1l3.3 1.7l7.7 2.3l6.3 2.7l4 1l8 3.3l1 0l5.4 2.4l1 0l1.6 1l1 0l1.7 1l4.7 1.3l5 2.3l2 0.4l6.6 3l1 0l1.7 1l16.3 6l3 1.6l0.4-0.3l5.3 2.7l0.3-0.4l24.7 10.4l30 13.3l21.3 10.7l3.7 1.3l18.7 10l1.3-0.7l5-13.6l8.7-26.7l13.6-47.7l13.7-55.3l9-41.3l2-11.7l-0.7-0.3l-1 0.3l-5.3 4l-16.3 10.7l-18 10.3l-17.4 8.7l-18 7.6l-19 6.7l-17.6 5l-18.7 4l-17.7 2.7l-13.6 1l-0.4 0.3l-4.6 0l-0.4 0.3l-26 0.4l-0.3-0.4l-18-0.6l-18.3-2l-22.7-3.7l-17-3.7l-22.3-6l-21.7-7l-18.7-7l-17.3-7.3l-21.7-10.3l-18.6-10l-18-10.7l-20-13l-18.4-13l-22-17l-16-13.3l-24-21.7l-30.6-30.7l-18-19.6l-19.7-23l-24.3-30.7l-12.4-17l-1.6-1.3z"/>
<path fill="#afff50" d="M197.3 464.3l0 0.7l2.7 1l5.3 1l1 0.7l0.4-0.4l9 2.7l0.3-0.3l2.3 1l13 3l2.4 1l0.3-0.4l7.3 2.4l1.7 0l4.7 1.6l0.3-0.3l5 1.7l0.3-0.4l9.7 3l0.3-0.3l2 1l0.4-0.3l4 1.3l8.6 2l2 1l9 2l1 0.7l4 1l1.4 0l1 0.6l7.3 1.7l1 0.7l0.3-0.4l3.4 1.4l0.3-0.4l3.3 1.4l2.7 0.3l10.7 3.3l1.3 0l1 0.7l1.3 0l2 1l4 0.7l2 1l6.4 1.3l3 1.3l1.6 0l4.4 1.7l16.3 4.3l3 1.4l3.7 0.6l3 1.4l2.6 0.3l2 1l2.4 0.3l4.3 1.7l1.3 0l1 0.7l12 3.3l4 1.7l2.4 0.3l6.3 2.3l3.3 0.7l8 3l0.4-0.3l8 3l1.3 0l3.7 1.6l0.3-0.3l14.7 5.3l0.3-0.3l3.7 1.7l1 0l17.6 6.3l2 0.3l3.7 1.7l6 1.7l3.7 1.6l4.6 1.4l1.7 1l0.3-0.4l9 3.7l2 0.3l10.7 4.4l3.7 1l5 2.3l11.3 4l1.3 1l3.7 1l6.3 3l2.7 0.7l9.7 4.3l2.6 0.7l2.4 1.3l19.3 7.7l1.3 1l15.4 6.3l0.6-0.3l-0.6-1.7l-40-36l-23-19.3l-23.4-18l-18-12.4l-20.3-12l-28.7-14.6l-22.6-10l-22.4-8.4l-21.3-5.6l-26.3-4.7l-22-2.3l-11-0.4l-0.4-0.3l-10.3 0l-0.3-0.3l-32 0.6l-0.4 0.4l-9.6 0.3l-17.4 1.7l-34.3 5l-20.3 4zM908 94l-10 48.3l-14.7 60.7l-6.6 24.7l-8.7 29.3l-10.7 32.7l-1.3 3l0 1l25.3 5.6l0.4-0.3l11.6 3l0.4-0.3l3 1l3.3 0.3l8.7 2.3l0.3-0.3l1.3 0.7l0.4-0.4l2.3 1l3.3 0.4l1.4 0.6l3 0.4l1.3 0.6l10 2l2.7 1l0.3-0.3l13 3l4 1.3l1.7 0l1 0.7l0.3-0.3l1 0.6l6 1l2.7 1l12.6 2.7l9 2.7l0.4-0.4l1.3 0.7l5.3 1l1 0.7l2 0l3.7 1.3l0.3-0.3l4.7 1.6l5.7 1l2.3 1l12 2.7l4.7 1.7l0.3-0.4l7.7 2.4l0.3-0.4l2 1l4 0.7l4.7 1.7l4 0.6l1 0.7l5.3 1l3.7 1.3l0.3-0.3l1 0.7l3.7 0.6l1 0.7l0.3-0.3l2 1l0.3-0.4l3.4 1.4l5 1.3l0.3-0.3l4.3 1.6l0.4-0.3l12.6 4l0.4-0.3l9.3 3l1.3 0l7.7 2.6l0.3-0.3l11.4 3.7l7 1.6l2 1l0.3-0.3l1 0.7l9 2.3l1 0.7l0.3-0.4l1 0.7l5.7 1.3l3 1.4l0.3-0.4l1.7 1l0.3-0.3l5.4 2l3.3 0.7l1 0.6l1.3 0l4 1.7l1.4 0l2 1l0.3-0.3l2.7 1.3l0.3-0.3l7.3 2.6l0.4-0.3l5 2l0.3-0.3l7 2.6l1.3 0l10.4 3.7l5.3 1.3l1.7 1l5.3 1.4l2 1l3 0.6l2 1l1 0l3 1.4l1 0l2 1l1 0l2 1l15 4.6l1 0.7l1 0l3.7 1.7l7 2l3.6 1.6l7 2l1.7 1l4 1l1.7 1l6 2l1 0l14.3 5.7l2.3 0.3l2.4 1.4l2 0.3l16 6.3l4.6 1.4l2.4 1.3l1 0l12 5l10.3 3.7l2.3 1.3l1.7 0.3l11.7 5l1 0l5.3 2.7l0.3-0.3l6 3l0.4-0.4l2.3 1.4l4 1.3l3.7 2l1.6 0.3l20.4 9.4l5.3 2l2 1.3l2.3 0.7l4 2.3l10 4.3l18 9l9 5l1-0.6l6.4-18l7.3-23.4l1.3-5.6l0.7-1l4.3-15l0.7-3.7l8-28.7l10-41.3l9-41.3l2-11.7l-0.7-0.3l-1 0.3l-5.3 4l-16.3 10.7l-18 10.3l-17.4 8.7l-18 7.6l-19 6.7l-17.6 5l-18.7 4l-17.7 2.7l-13.6 1l-0.4 0.3l-4.6 0l-0.4 0.3l-26 0.4l-0.3-0.4l-18-0.6l-18.3-2l-22.7-3.7l-17-3.7l-22.3-6l-21.7-7l-18.7-7l-17.3-7.3l-21.7-10.3l-18.6-10l-18-10.7l-20-13l-18.4-13l-22-17l-16-13.3l-24-21.7l-30.6-30.7l-18-19.6l-19.7-23l-24.3-30.7l-12.4-17l-1.6-1.3z"/>
<path fill="#bfff40" d="M209.3 461.7l0.4 1l2.6 1l0.4-0.4l2.3 1l0.3-0.3l2.4 1l0.3-0.3l2.3 1l0.4-0.4l3.3 1.4l0.3-0.4l10 3l0.4-0.3l4.6 1.7l0.4-0.4l6 2l0.3-0.3l6 2l0.7-0.3l12 3.6l14 3.4l4.6 1.6l6.7 1.4l1 0.6l8.7 2l2.3 1l1.3 0l1 0.7l2.7 0.3l1 0.7l5 1l5.7 2l4 0.7l4.3 1.6l4 0.7l2 1l1.7 0l2 1l6 1.3l4.3 1.7l2.7 0.3l15.6 5l5 1l3 1.4l3.7 0.6l2 1l2.3 0.4l2 1l1.4 0l2 1l1.3 0l6.3 2.3l1.4 0l1 0.7l6.6 1.6l4 1.7l2.4 0.3l2 1l2.3 0.4l3 1.3l8.7 2.3l20 7l6.3 1.7l4.7 2l0.3-0.3l3.7 1.6l0.3-0.3l1.7 1l6 1.7l2.6 1.3l0.4-0.3l2.6 1.3l6 1.7l7.4 3l10.6 3.3l4.4 2l0.3-0.3l8 3.3l1 0l9 3.7l1 0l1.7 1l2.6 0.6l2.7 1.4l1 0l5 2.3l6 2l4 2l4.3 1.3l4 2l11.7 4.4l6.3 3l1.7 0.3l2.3 1.3l18.4 7.4l3.3 1.6l0.7-0.3l0-1l-18.4-16.7l-34.6-29.6l-23.4-18l-18-12.4l-20.3-12l-28.7-14.6l-22.6-10l-22.4-8.4l-21.3-5.6l-26.3-4.7l-22-2.3l-11-0.4l-0.4-0.3l-10.3 0l-0.3-0.3l-25.4 0.3l-0.3 0.3l-11.7 0.4l-0.3 0.3l-4.3 0l-0.4 0.3l-14 1l-25.3 3.4zM908 94l-10 48.3l-12 50.4l-12.3 45.3l-15.4 49l11.7 2.3l1.3 0.7l0.4-0.3l6.3 1.6l0.3-0.3l16.4 4l0.3-0.3l1 0.6l0.3-0.3l4.7 1.3l0.3-0.3l5.4 1.7l3.3 0.3l1 0.7l0.7-0.4l1 0.7l3 0.3l3 1l0.3-0.3l2.3 1l3.4 0.3l1.3 0.7l0.3-0.3l5.4 1.6l1.6 0l1.4 0.7l3 0.3l4 1.4l0.3-0.4l5.3 1.7l1.7 0l1 0.7l0.3-0.4l7 2l3 0.4l3.7 1.3l0.7-0.3l1 0.6l8.3 1.7l10.7 3l0.3-0.3l1.3 0.6l5.4 1l1 0.7l1.3 0.3l0.3-0.3l1.4 0.7l10.6 2.3l2.4 1l10.6 2.3l2.4 1l0.3-0.3l2.3 1l0.4-0.3l2 1l3 0.3l2 1l0.3-0.3l3.7 1.3l0.3-0.3l1.3 0.6l1.4 0l1 0.7l0.3-0.3l1 0.6l5 1l1 0.7l4 0.7l1.3 0.6l3.7 0.7l1 0.7l6.3 1.3l1 0.7l1.4 0.3l0.3-0.3l1 0.6l0.3-0.3l1 0.7l3.7 0.6l14.7 4.4l1.3 0l2 1l0.3-0.4l14 4.4l0.4-0.4l4.3 1.7l0.3-0.3l4.4 1.3l1 0.7l0.3-0.4l3 1.4l0.3-0.4l8 2.7l0.4-0.3l2 1l5.6 1.3l2 1l0.4-0.3l1 0.6l0.3-0.3l6.3 2.3l0.4-0.3l1 0.7l3.3 0.6l3 1.4l0.3-0.4l3 1.4l0.4-0.4l3 1.4l0.3-0.4l1 0.7l1.3 0l7.4 2.7l0.3-0.4l2 1l0.3-0.3l1.7 1l1.3 0l4 1.7l1.4 0l2 1l4.6 1l2.7 1.3l0.7-0.3l3.6 1.6l1.4 0l3 1.4l3.3 0.6l13.3 4.7l5.4 1.3l7 2.7l3.3 0.7l1.7 1l2.3 0.3l11.7 4.3l1.3 0l17.7 6.4l9 2.6l1.6 1l5 1.4l6.4 2.6l4.3 1l2.3 1.4l10.7 3.3l4.3 2l4 1l4.4 2l5.6 1.7l2.4 1.3l1.3 0l8.7 3.7l1 0l3.3 1.6l0.3-0.3l1.4 1l3.6 1l12 5l0.4-0.3l7.3 3.3l2.7 0.7l4 2l12.6 4.6l11 5l6.7 2.4l5.3 2.6l1.7 0.4l1.3 1l1.7 0.3l10.3 5l7 2.7l2 1.3l3 1l2.7 1.7l1.7 0.3l2 1.3l12 5.4l24.6 12.6l1.4-0.3l7.3-21.7l5.3-18.6l1.7-4.4l12-44l10-41.3l9-41.3l2-11.7l-0.7-0.3l-1 0.3l-5.3 4l-16.3 10.7l-18 10.3l-17.4 8.7l-18 7.6l-19 6.7l-17.6 5l-18.7 4l-17.7 2.7l-13.6 1l-0.4 0.3l-4.6 0l-0.4 0.3l-26 0.4l-0.3-0.4l-18-0.6l-18.3-2l-22.7-3.7l-17-3.7l-22.3-6l-21.7-7l-18.7-7l-17.3-7.3l-21.7-10.3l-18.6-10l-18-10.7l-20-13l-18.4-13l-22-17l-16-13.3l-24-21.7l-30.6-30.7l-18-19.6l-19.7-23l-24.3-30.7l-12.4-17l-1.6-1.3z"/>
<path fill="#cfff30" d="M221.3 459.7l0 0.6l0.7 0.4l0.3-0.4l6.4 2l0.3-0.3l4.7 1.7l0.3-0.4l21.3 6l0.4-0.3l1.3 0.7l13.7 3.3l2 1l0.3-0.3l1 0.6l7.7 1.7l1 0.7l10 2.3l4.6 1.7l0.4-0.4l3.3 1.4l0.3-0.4l1 0.7l5 1l19 5.7l1.4 0l2 1l5 1l8 2.6l2.6 0.4l5.4 2l5 1l11 3.6l3.6 0.7l2 1l3.7 0.7l2 1l1.3 0l5.4 2l2.3 0.3l1 0.7l3.7 0.6l3 1.4l1.3 0l5 2l2.3 0.3l1 0.7l2.4 0.3l11.3 4l5.3 1.3l5 2l1.4 0l4 1.7l2 0.3l7 2.7l0.3-0.3l2.7 1.3l1 0l7 2.7l1 0l1 0.6l0.3-0.3l1.7 1l8 2.3l4.6 2l10 3l3.7 1.7l19.7 6.7l2.6 1.3l5.7 1.7l3.3 1.6l1 0l1.7 1l1 0l12.3 5l1 0l4 2l2 0.4l1.4 1l4.3 1.3l3.3 1.7l8.4 3l2.3 1.3l6 2l14.3 6.3l1 0l2.4 1.4l3.3 1l1.3 1l0.7-0.4l0-1l-7.7-7l-34.6-29.6l-23.4-18l-18-12.4l-20.3-12l-28.7-14.6l-22.6-10l-22.4-8.4l-21.3-5.6l-26.3-4.7l-22-2.3l-11-0.4l-0.4-0.3l-10.3 0l-0.3-0.3l-25.4 0.3l-0.3 0.3l-6.3 0l-0.4 0.4l-17.3 1l-32 4l-13.7 2.3zM908 94l-10 48.3l-12 50.4l-10 37.3l-15.3 50l2.3 1l0.3-0.3l3 1l2 0l12 3l0.4-0.4l16.6 4l0.4-0.3l1 0.7l6.3 1l2.7 1l4.6 0.6l7.4 2l0.3-0.3l7 2l0.3-0.3l3.7 1.3l7.7 1.3l1 0.7l0.3-0.3l4 1.3l1.7 0l9.6 2.7l14 3l2.4 1l0.6-0.4l1 0.7l3 0.3l12 3.4l4.4 0.6l2.3 1l1.3 0l9.4 2.7l0.3-0.3l11 3.3l11 2.3l2 1l3 0.4l3.3 1.3l5.4 1l1 0.7l0.3-0.4l1 0.7l4.3 0.7l1 0.6l4 0.7l1 0.7l10 2.3l6 2l0.4-0.3l1 0.6l0.3-0.3l2 1l7.3 1.7l9.4 3l0.3-0.4l2 1l0.3-0.3l5.7 2l2.7 0.3l9 3l0.3-0.3l2.3 1l0.4-0.3l4 1.6l0.3-0.3l5.7 2l0.3-0.3l6.3 2.3l0.4-0.3l3.3 1.3l0.3-0.3l5 2l0.4-0.4l1 0.7l0.3-0.3l1 0.6l3.3 0.7l5.4 2l0.3-0.3l4.3 1.6l0.4-0.3l5 2l0.3-0.3l7.3 2.6l0.7-0.3l1.7 1l3.3 0.7l1 0.6l1.3 0l1.7 1l1.3 0l4.4 1.7l1.3 0l2.7 1.3l0.3-0.3l15.7 5.3l0.3-0.3l12.3 4.3l8.4 2.4l3 1.3l3.3 0.7l1.7 1l3.3 0.6l1.7 1l2.3 0.4l1 0.6l5 1.4l3.7 1.6l2.3 0.4l2.7 1.3l13 4l9.6 3.7l2 0.3l1.7 1l1 0l2 1l3 0.7l1.7 1l5 1.3l1.6 1l9.7 3l8 3.3l4 1l2.3 1.4l6.7 2l9.7 4l4.6 1.3l5 2.3l0.4-0.3l8.3 3.7l1 0l7.7 3.3l8.6 3l13 5.7l2.7 0.6l11 5l6.7 2.4l3.6 2l7.7 3l3.7 2l1.6 0.3l3.7 2l1.7 0.3l5 2.7l0.3-0.3l13.3 6.6l7.4 3l26.3 13.4l1-0.7l5-14.7l5.3-18.6l1.7-4.4l12-44l10-41.3l9-41.3l2-11.7l-0.7-0.3l-1 0.3l-5.3 4l-16.3 10.7l-18 10.3l-17.4 8.7l-18 7.6l-19 6.7l-17.6 5l-18.7 4l-17.7 2.7l-13.6 1l-0.4 0.3l-4.6 0l-0.4 0.3l-26 0.4l-0.3-0.4l-18-0.6l-18.3-2l-22.7-3.7l-17-3.7l-22.3-6l-21.7-7l-18.7-7l-17.3-7.3l-21.7-10.3l-18.6-10l-18-10.7l-20-13l-18.4-13l-22-17l-16-13.3l-24-21.7l-30.6-30.7l-18-19.6l-19.7-23l-24.3-30.7l-12.4-17l-1.6-1.3z"/>
<path fill="#dfff20" d="M234.3 457.3l0 0.7l5.4 1.7l0.3-0.4l9.7 3l0.3-0.3l5 1.7l13.7 3.3l1 0.7l0.3-0.4l1 0.7l0.3-0.3l1 0.6l6.4 1.4l1 0.6l10 2.4l1 0.6l2.6 0.4l1 0.6l2.7 0.4l1 0.6l2.7 0.4l3.3 1.3l2.7 0.3l8.3 2.7l1.3 0l1 0.7l1.4 0l2 1l4 0.6l2 1l1.3 0l11.7 3.7l3.6 0.7l5.4 2l7.3 1.6l7.7 2.7l3.6 0.7l3 1.3l2.7 0.3l3 1.4l1.3 0l2 1l1.4 0l2 1l1.3 0l6.3 2.3l3.7 0.7l3 1.3l7.7 2l9.3 3.3l3.3 0.7l16.4 5.7l14.3 4.3l1.7 1l0.3-0.3l1.7 1l1 0l14 5l1 0l2.6 1.3l3 0.7l2.7 1.3l0.3-0.3l19.7 7.3l0.3-0.3l7 3l0.4-0.4l4.3 2l0.3-0.3l3.4 1.7l0.3-0.4l7.7 3.4l0.3-0.4l9.3 4l3.7 1l4 2l2 0.4l3 1.6l5.3 1.7l5.7 2.7l15.7 6l4.6 2.3l1.4 0.3l1-0.3l0-0.7l-8-7.3l-26.4-22l-20-15.3l-18-12.4l-20.3-12l-28.7-14.6l-22.6-10l-22.4-8.4l-21.3-5.6l-19.7-3.7l-17.6-2.3l-15.7-1l-0.3-0.4l-6 0l-0.4-0.3l-24.6-0.3l-0.4 0.3l-11 0l-0.3 0.3l-11.7 0.4l-0.3 0.3l-4.3 0l-17.4 1.7l-22.3 3zM908 94l-10 48.3l-12 50.4l-0.7 1.3l-2 9l-6.6 24.7l-8.7 29.3l-5 15l0 1.3l1.3 0.7l3.4 0.7l0.3-0.4l4 1.4l0.3-0.4l1.4 0.7l0.3-0.3l7.3 2l0.4-0.4l9 2.4l0.3-0.4l2.3 1l0.4-0.3l7.6 2l3 0.3l2.7 1l3.3 0.4l2.4 1l0.3-0.4l7.3 2l3.4 0.4l4 1.3l1.6 0l7 2l1.7 0l2.3 1l2 0l5.4 1.7l0.3-0.4l1 0.7l1.7 0l2.3 1l0.3-0.3l1.4 0.6l1.6 0l3.7 1.4l0.7-0.4l3.6 1.4l1.7 0l21.7 5.6l1.6 0l6.4 2l0.3-0.3l3.7 1.3l3 0.4l3.3 1.3l0.3-0.3l2.7 1l1.7 0l2 1l1.6 0l1 0.6l10.7 2.4l1 0.6l0.3-0.3l2.4 1l7.6 1.7l1 0.6l0.4-0.3l3.6 1.3l0.4-0.3l3.3 1.3l1.7 0l3.3 1.4l10.3 2.3l1 0.7l0.4-0.4l2 1l0.3-0.3l5.7 2l0.3-0.3l5 1.3l1 0.7l0.3-0.4l2 1l0.4-0.3l15.3 4.7l0.3-0.4l3 1.4l0.4-0.4l1.3 0.7l0.3-0.3l4 1.6l0.4-0.3l4.3 1.7l0.3-0.4l10.4 3.4l0.3-0.4l5.7 2l11.3 3l1 0.7l0.3-0.3l2 1l0.4-0.4l2 1l6.6 1.7l1 0.7l0.4-0.4l1 0.7l2.3 0.3l1 0.7l0.3-0.3l3 1.3l0.4-0.3l1 0.6l13 3.7l4 1.7l1.3 0l4.3 1.6l0.4-0.3l2.6 1.3l0.4-0.3l3 1.3l4.6 1l2.7 1.4l2.3 0.3l6 2.3l0.7-0.3l13 4.7l8.7 2.3l1.6 1l4.4 1l2 1l3 0.7l1.6 1l2.4 0.3l2 1l1 0l2 1l1 0l2 1l15 4.7l13.3 5l2.3 0.3l1.7 1l6 1.7l6.3 2.6l6 1.7l6 2.7l7 2l6 2.6l1.4 0l3.3 1.7l5.7 1.7l7 3l3 0.6l1.3 1l4.7 1.4l7.6 3.3l0.4-0.3l2.3 1.3l4.3 1.3l6.7 3l4.7 1.4l2.3 1.3l7.7 2.7l11 5l3.6 1l3 1.6l3.4 1l10 4.7l10 4l3 1.7l12 5l2 1.3l0.3-0.3l8.3 4.3l1.7 0.3l5.3 3l1.7 0.4l24 12.3l1-0.3l3-8.4l5.3-18.6l1.7-4.4l12-44l10-41.3l9-41.3l2-11.7l-0.7-0.3l-1 0.3l-5.3 4l-16.3 10.7l-18 10.3l-17.4 8.7l-18 7.6l-19 6.7l-17.6 5l-18.7 4l-17.7 2.7l-13.6 1l-0.4 0.3l-4.6 0l-0.4 0.3l-26 0.4l-0.3-0.4l-18-0.6l-18.3-2l-22.7-3.7l-17-3.7l-22.3-6l-21.7-7l-18.7-7l-17.3-7.3l-21.7-10.3l-18.6-10l-18-10.7l-20-13l-18.4-13l-22-17l-16-13.3l-24-21.7l-30.6-30.7l-18-19.6l-19.7-23l-24.3-30.7l-12.4-17l-1.6-1.3z"/>
<path fill="#efff10" d="M248 455.3l0 0.7l2.3 1l0.4-0.3l1 0.6l0.3-0.3l2.7 1l3.6 0.7l2 1l0.4-0.4l1 0.7l0.3-0.3l1 0.6l0.3-0.3l1 0.7l0.4-0.4l2 1l2.6 0.4l4.7 1.6l0.7-0.3l1 0.7l3.6 0.6l1 0.7l0.4-0.3l4.3 1.6l0.3-0.3l4.7 1.7l6.3 1.3l3.4 1.3l3 0.4l1 0.6l6 1.4l3.3 1.3l4 0.7l5.3 2l5 1l2 1l1.7 0l3 1.3l1.7 0l17 5.3l10.6 2.7l3 1.3l3.7 0.7l2 1l2.3 0.3l1 0.7l2.4 0.3l7.6 2.7l1.4 0l1 0.7l3.3 0.6l5 2l1.3 0l4 1.7l1.4 0l2 1l7.6 2l12.4 4.3l0.3-0.3l3 1.3l4 1l17 6l1 0l1.7 1l0.3-0.3l3.7 1.7l4.3 1l2.7 1.3l1 0l15.3 5.7l5 1.3l13 5l2 0.3l1.7 1l1 0l6.3 2.7l3 0.7l3.3 1.6l5.7 1.7l4 2l2.7 0.7l5.3 2.3l1 0l1.3 1l2.7 0.7l7.7 3.3l1 0l17.3 7.3l1.3-0.3l0-0.7l-5.6-5l-28-22.6l-17.4-12.7l-22.6-14.3l-15.7-8.7l-25-12.3l-18.3-8l-22.4-8.4l-15.6-4.3l-19.4-4l-20.6-3l-13.7-1l-0.3-0.3l-4.7 0l-0.3-0.4l-16.7-0.3l-0.3-0.3l-25.4 0.3l-0.3 0.3l-6.3 0l-0.4 0.4l-17.3 1l-17.7 2zM908 94l-8 39.3l-8.7 37.7l-3 11l0 1.3l-11.6 44.4l-11.7 39l3.3 1l1.7 0l1.3 0.6l0.4-0.3l3 0.7l1 0.6l0.3-0.3l4.7 1.3l0.3-0.3l9 2.3l0.3-0.3l3 1l4.4 0.7l1 0.6l0.3-0.3l1.3 0.7l5 0.6l1 0.7l4.7 0.7l1.3 0.6l0.4-0.3l8.3 2.3l2 0l2.7 1l0.3-0.3l2.3 1l1.7 0l5.7 1.7l6 1l1 0.6l7.3 1.4l2.3 1l3.4 0.3l3.6 1.3l7.7 1.4l2.3 1l1.4 0l1.3 0.6l0.3-0.3l1 0.7l0.7-0.4l2 1l0.3-0.3l1 0.7l0.7-0.4l2 1l0.7-0.3l10 3l2 0l5 1.7l1.3 0l4 1.3l9.3 2l1 0.7l1.7 0l2.3 1l4 0.6l1 0.7l1.7 0l3.7 1.3l0.3-0.3l2.3 1l7.7 1.7l1 0.6l0.3-0.3l3.7 1.3l2.7 0.4l1 0.6l0.3-0.3l4.7 1.7l1.6 0l1 0.6l1.4 0l1 0.7l0.3-0.3l1 0.6l0.3-0.3l4.4 1.7l0.3-0.4l2.7 0.7l1 0.7l10 2.3l2 1l0.3-0.3l3.3 1.3l0.4-0.3l3.6 1.3l2.4 0.3l8 2.7l0.3-0.3l4.7 1.6l0.3-0.3l1 0.7l2.3 0.3l3.4 1.3l0.3-0.3l10.3 3.3l0.4-0.3l5 2l0.3-0.3l7 2l7.7 2.6l0.3-0.3l1 0.7l0.3-0.4l1 0.7l3.4 0.7l5.3 2l0.3-0.4l4 1.7l8 2l1 0.7l0.4-0.4l1.6 1l0.4-0.3l1 0.7l1.3 0l1 0.6l7.7 2l2 1l0.3-0.3l12.3 4.3l0.4-0.3l9.3 3.3l0.3-0.3l8 3l1.7 0l15 5.3l5.3 1.4l1.7 1l3.3 0.6l1.7 1l1.3 0l3 1.4l2.4 0.3l1.6 1l1.4 0l1.6 1l1.4 0l1.6 1l16 5l3.7 1.7l1 0l2 1l7 2l1.7 1l6 1.6l1.6 1l4 1l1.7 1l8 2.4l14.3 5.6l2.4 0.4l3 1.6l1.3 0l6 2.7l1.3 0l1.7 1l3.7 1l14.6 6l0.4-0.3l2.3 1.3l7 2.3l6.7 3l3.6 1l2.4 1.4l7.6 2.6l10.4 4.7l0.3-0.3l3.7 2l0.3-0.4l9.3 4.4l7.4 2.6l1.3 1l19 8l1.3 1l2.4 0.7l8.6 4.3l1.7 0.4l4 2.3l10.7 4.7l18.3 9.3l-0.3 1.3l0.6 0.4l0.7-0.4l11.3-37.6l10.4-39l0-1.4l4.6-17.6l0.7-4.4l1-2.6l5.7-26.7l2.3-9l1.3-8l3.7-16.3l0-1.7l-0.7-0.3l-1 0.3l-5.3 4l-16.3 10.7l-18 10.3l-17.4 8.7l-18 7.6l-19 6.7l-17.6 5l-18.7 4l-17.7 2.7l-13.6 1l-0.4 0.3l-4.6 0l-0.4 0.3l-26 0.4l-0.3-0.4l-18-0.6l-18.3-2l-22.7-3.7l-17-3.7l-22.3-6l-21.7-7l-18.7-7l-17.3-7.3l-21.7-10.3l-18.6-10l-18-10.7l-20-13l-18.4-13l-22-17l-16-13.3l-24-21.7l-30.6-30.7l-18-19.6l-19.7-23l-24.3-30.7l-12.4-17l-1.6-1.3z"/>
<path fill="#ffff00" d="M262.3 453.7l0 0.6l1.4 0.7l0.3-0.3l1 0.6l0.3-0.3l1 0.7l6.4 1.3l5.6 2l0.7-0.3l4.3 1.6l0.7-0.3l1 0.7l6 1.3l3.3 1.3l2.7 0.4l1 0.6l1.3 0l1 0.7l1.4 0l5.6 2l4 0.7l3.7 1.3l2.3 0.3l1 0.7l5 1l2 1l2.7 0.3l7.7 2.7l4 0.7l5.3 2l7 1.6l4.3 1.7l6.4 1.3l3 1.4l11.3 3l4 1.6l1.7 0l1 0.7l9.6 2.7l1 0.6l1.4 0l3 1.4l2.3 0.3l5 2l9.7 2.7l17.3 5.6l1 0.7l4.3 1l2.7 1.3l0.3-0.3l4.7 2l0.3-0.3l3.7 1.6l1 0l12 4.4l1 0l2.7 1.3l0.3-0.3l9.3 3.6l4 1l8.4 3.4l2 0.3l11 4l2.6 1.3l0.4-0.3l2.6 1.3l1 0l12.4 5l1 0l30 12l1-0.3l0-0.7l-8-6.6l-23.4-18l-18-12.4l-12.6-7.6l-15.7-8.7l-25-12.3l-18.3-8l-22.4-8.4l-15.6-4.3l-15.7-3.3l-16.3-2.7l-22-2.3l-11-0.4l-0.4-0.3l-10.3 0l-0.3-0.3l-14 0l-0.4 0.3l-11 0l-0.3 0.3l-16.3 0.7l-0.4 0.3l-10.6 0.7zM908 94l-8 39.3l-8.7 37.7l-3 11l0 1.3l-11.6 44.4l-9.7 32.3l13 3l0.3-0.3l1 0.6l0.4-0.3l3 1l0.3-0.3l7.3 2l0.4-0.4l1 0.7l0.3-0.3l1 0.6l5 0.7l2.7 1l0.3-0.3l1 0.6l3.3 0.7l0.4-0.3l8.3 2.3l2 0l2.3 1l0.4-0.3l2.3 1l1.7 0l1.3 0.6l7.7 1.4l8.3 2.3l0.3-0.3l5.4 1.6l3 0.4l2.3 1l3.3 0.3l2.4 1l0.6-0.3l1 0.6l3 0.4l5.4 1.6l1.3 0l1 0.7l0.7-0.3l1 0.6l0.3-0.3l3.7 1.3l0.3-0.3l4 1.3l4 0.7l5 1.7l0.3-0.4l6.4 2l0.6-0.3l4.7 1.7l6 1l2 1l3 0.6l0.3-0.3l3.4 1.3l0.3-0.3l2.3 1l0.4-0.3l2.3 1l4 0.6l1 0.7l1.7 0l1 0.7l0.3-0.4l2 1l3 0.4l2 1l0.3-0.4l1 0.7l5.4 1l1 0.7l0.3-0.4l6.3 2l7.4 1.7l1 0.7l0.3-0.4l1 0.7l0.3-0.3l1 0.6l0.4-0.3l4.3 1.7l0.3-0.4l2.7 0.7l2 1l2.7 0.7l0.3-0.4l2 1l8.7 2.4l1.3 0l11.7 3.6l0.3-0.3l6.7 2.3l0.3-0.3l3.3 1.3l2.4 0.4l3.3 1.3l0.3-0.3l4.4 1.6l0.3-0.3l11.3 3.7l0.4-0.4l1 0.7l6.6 1.7l2 1l0.4-0.4l1 0.7l0.3-0.3l2 1l12.3 3.3l3 1.3l0.4-0.3l5.3 2l0.3-0.3l3 1.3l1.4 0l1 0.7l7.6 2l2 1l0.4-0.4l1.6 1l1.4 0l2 1l4.6 1l2.7 1.4l0.7-0.4l3.6 1.7l0.4-0.3l5 2l0.6-0.4l4.7 2l1 0l3 1.4l1.7 0l9.3 3l3.7 1.6l4.3 1l5 2l2.3 0.4l1.7 1l1 0l6 2.3l2.3 0.3l3.7 1.7l1 0l2 1l14 4.3l3.7 1.7l7 2l7.3 3l2.3 0.3l1.7 1l11.7 3.7l3.3 1.7l4.7 1.3l3.6 1.7l3.4 0.6l9.6 4l5.7 1.7l1.7 1l1 0l1.6 1l1 0l1.7 1l1 0l7 3l1 0l4.3 2l1 0l2.4 1.3l0.3-0.3l2.3 1.3l1 0l14.4 6l5.3 1.7l1.3 1l0.4-0.3l1.3 1l1.7 0.3l5 2.3l0.3-0.3l2 1.3l0.3-0.3l4.7 2.3l0.3-0.3l3.7 2l1 0l5.3 2.7l0.4-0.4l2.3 1.4l9.3 3.6l36.4 16.4l27 13.3l0.3 1l0.7 0.3l0.6-0.3l9-30.3l10.4-39l0-1.4l4.6-17.6l0.7-4.4l1-2.6l5.7-26.7l2.3-9l1.3-8l3.7-16.3l0-1.7l-0.7-0.3l-1 0.3l-5.3 4l-16.3 10.7l-18 10.3l-17.4 8.7l-18 7.6l-19 6.7l-17.6 5l-18.7 4l-17.7 2.7l-13.6 1l-0.4 0.3l-4.6 0l-0.4 0.3l-26 0.4l-0.3-0.4l-18-0.6l-18.3-2l-22.7-3.7l-17-3.7l-22.3-6l-21.7-7l-18.7-7l-17.3-7.3l-21.7-10.3l-18.6-10l-18-10.7l-20-13l-18.4-13l-22-17l-16-13.3l-24-21.7l-30.6-30.7l-18-19.6l-19.7-23l-24.3-30.7l-12.4-17l-1.6-1.3z"/>
<path fill="#ffef00" d="M277.7 452.3l0 0.7l0.6 0.3l1.4 0l1 0.7l9.6 2.3l3.4 1.4l3 0.3l1 0.7l1.3 0l5.7 2l4 0.6l1 0.7l4.6 1l2 1l1.7 0l2 1l1.3 0l7 2.3l2.7 0.4l3 1.3l4 0.7l1 0.6l11 3.4l9.7 2.3l3 1.3l2.6 0.4l3 1.3l1.4 0l2 1l2.3 0.3l4.3 1.7l1.4 0l6.3 2.3l1.3 0l3 1.4l1.4 0l9.3 3.3l2.3 0.3l2 1l9.7 2.7l7 2.7l1.3 0l2 1l20 6.3l1 0.7l0.4-0.4l1.6 1l7 2l4.7 2l0.3-0.3l2.7 1.3l1 0l3.7 1.7l0.3-0.3l9.3 3.6l7 2l2.7 1.4l24 8.3l6 2.7l0.3-0.4l5 2.4l9.7 3.3l2.3 1.3l2 0.4l2.4 1.3l1-0.3l0-0.7l-4.7-4l-21.7-16l-10-6.7l-20.3-12l-36.7-18.3l-16.3-7l-20.7-7.7l-15.6-4.3l-15.7-3.3l-16.3-2.7l-14.4-1.7l-12.3-0.6l-0.3-0.4l-6 0l-0.4-0.3l-10.3 0l-0.3-0.3l-25.4 0.3l-0.3 0.3l-11.7 0.4zM908 94l-6.3 31.7l-10.4 45.3l-11 43.3l-11 37.4l0.4 1.6l6.3 1.7l0.3-0.3l6 1.6l0.4-0.3l4.3 1.3l7.7 1.4l1 0.6l0.3-0.3l1.3 0.7l0.4-0.4l1 0.7l5 0.7l1 0.6l3.3 0.7l0.3-0.3l2.4 1l0.3-0.4l1.3 0.7l0.4-0.3l6.6 2l2 0l2.7 1l0.3-0.4l5.4 1.7l1.6 0l2.7 1l1.7 0l4 1.3l0.3-0.3l5.3 1.7l3 0.3l1 0.7l3.4 0.3l2.3 1l0.3-0.3l1.4 0.6l4.3 0.7l21.7 5.7l0.3-0.4l2 1l0.7-0.3l2.6 1l1.4 0l1 0.7l1.6 0l1.4 0.6l2.6 0.4l1 0.6l3 0.4l3.7 1.3l0.3-0.3l1.4 0.6l4 0.7l4.6 1.7l1.7 0l2.3 1l0.4-0.4l2.3 1l0.3-0.3l1.4 0.7l4 0.6l1 0.7l10.3 2.3l1 0.7l3 0.3l1 0.7l0.3-0.3l3.4 1.3l2.6 0.3l1 0.7l4 0.7l1 0.6l0.4-0.3l1 0.7l2.6 0.3l2.4 1l0.3-0.3l1 0.6l5 1l3.3 1.4l0.4-0.4l2.3 1l0.3-0.3l2 1l3.7 0.7l1.3 0.6l0.4-0.3l1 0.7l7 2l0.3-0.4l5.3 2l0.4-0.3l1.3 0.7l0.3-0.4l3 1.4l0.4-0.4l3 1.4l0.3-0.4l3.3 1.4l0.4-0.4l4.3 1.7l1.3 0l3.4 1.3l0.3-0.3l5.7 2l0.3-0.3l6.7 2.3l3.3 0.7l3 1.3l0.3-0.3l3.4 1.3l0.3-0.3l2 1l0.3-0.4l2 1l2.4 0.4l2 1l0.3-0.4l1 0.7l2.3 0.3l5.4 2l0.3-0.3l1.7 1l0.3-0.3l3 1.3l0.3-0.3l5.4 2l0.3-0.4l1 0.7l7.7 2l1.6 1l0.7-0.3l1.7 1l0.6-0.4l1.7 1l1.3 0l2 1l0.4-0.3l2.6 1.3l0.7-0.3l1.7 1l2.3 0.3l3 1.4l1.3 0l4 1.6l0.4-0.3l6 2.3l1.3 0l13.3 4.7l6.4 1.7l2.6 1.3l3.4 0.7l3 1.3l7 2l2 1l1.3 0l4.7 2l1.3 0l1.7 1l1 0l18.6 6.7l7 2l1.7 1l5 1.3l1.7 1l2.3 0.3l1.7 1l4 1l1.6 1l15.4 5l7 3l3 0.7l3.3 1.7l1.3 0l2.4 1.3l1.3 0l2.3 1.3l1 0l1.7 1l1 0l4.3 2l3 0.7l1.4 1l0.3-0.3l6.7 3l0.3-0.4l4.3 2l4.4 1.4l13.3 5.6l4.3 1.4l2.4 1.3l0.3-0.3l5.7 2.6l0.3-0.3l2 1.3l0.3-0.3l4.7 2.3l2.7 0.7l3 1.7l1 0l3 1.6l7.3 2.7l2 1.3l0.3-0.3l1.4 1l0.3-0.3l1.3 1l3.4 1l1.3 1l16.7 7l5.6 3l4.7 1.6l2 1.4l4.3 1.6l11.7 6l7 3l8 4.4l1.7-0.4l11.6-41l10-39.6l0.7-4.4l1-2.6l5.7-26.7l2.3-9l1.3-8l3.7-16.3l0-1.7l-0.7-0.3l-1 0.3l-5.3 4l-16.3 10.7l-18 10.3l-17.4 8.7l-18 7.6l-19 6.7l-17.6 5l-18.7 4l-17.7 2.7l-13.6 1l-0.4 0.3l-4.6 0l-0.4 0.3l-26 0.4l-0.3-0.4l-18-0.6l-18.3-2l-22.7-3.7l-17-3.7l-22.3-6l-21.7-7l-18.7-7l-17.3-7.3l-21.7-10.3l-18.6-10l-18-10.7l-20-13l-18.4-13l-22-17l-16-13.3l-24-21.7l-30.6-30.7l-18-19.6l-19.7-23l-24.3-30.7l-12.4-17l-1.6-1.3z"/>
<path fill="#ffdf00" d="M294.7 451.3l0 0.7l1.3 0.7l6 1.3l2 1l0.7-0.3l2 1l3.6 0.6l2 1l1.7 0l2 1l5 1l8 2.7l2.7 0.3l5.3 2l6.3 1.4l12 4l5 1l1.7 1l3.7 0.6l2 1l1.3 0l2 1l1.3 0l2 1l4.7 1l6.3 2.4l1.4 0l8.3 3l1.3 0l2 1l2.4 0.3l5 2l5.6 1.3l12 4.4l0.4-0.4l3 1.4l2 0.3l21 7.3l1 0l4.6 2l0.4-0.3l1.6 1l11 3.3l5.4 2.4l1.3 0l22.3 8.3l2 0.3l5.4 2.4l1 0l5.3 2.3l2 0.3l2.3 1.4l2 0.3l7.7 3.3l0.7-0.3l0-1l-4.4-3.3l-18-12.4l-12.6-7.6l-15.7-8.7l-20.7-10.3l-14-6.4l-18-7.3l-13-4.7l-21.3-5.6l-19.7-3.7l-14.6-2l-13.7-1l-0.3-0.3l-4.7 0l-0.3-0.4l-16.7-0.3l-0.3-0.3l-14 0l-0.4 0.3l-8 0zM1525 301l-0.7-0.3l-1 0.3l-15.3 10.7l-15.3 9.3l-15.4 8.3l-11 5.4l-26 10.6l-15.3 5l-19 5l-13 2.7l-15 2.3l-12.3 1.4l-9 0.3l-0.4 0.3l-7.6 0l-0.4 0.4l-18 0l-0.3-0.4l-13.3-0.3l-23-2.3l-15.7-2.7l-1.7 0.3l0 0.7l6.7 2l4.7 2l1 0l1.6 1l2.4 0.3l1.6 1l2.4 0.4l6.3 2.6l6 1.7l10.7 4.3l4.3 1l5 2.4l3 0.6l1.7 1l5.6 1.7l7.7 3.3l0.3-0.3l1.7 1l1 0l1.3 1l3 0.7l9.4 4l0.3-0.4l5 2.4l1 0l1.7 1l4.3 1.3l1.7 1l2.6 0.7l2.4 1.3l2.6 0.7l2.4 1.3l10 3.7l1.6 1l2.7 0.6l2.3 1.4l9.7 3.6l12.3 5.7l8.7 3.3l8 4l1 0l3.7 2l5.3 2l2.7 1.7l13.6 6l4 2.3l16.4 7.7l1.3-1.3l14.7-54l0-1.4l4.6-17.6l0.7-4.4l1-2.6l5.7-26.7l2.3-9l1.3-8l3.7-16.3zM908 94l-6.3 31.7l-10.4 45.3l-11 43.3l-9 30.7l0.4 1.7l6.3 1.6l0.3-0.3l1.7 0.7l0.3-0.4l1 0.7l0.4-0.3l4.3 1.3l0.3-0.3l2.4 1l0.3-0.4l5.7 1.7l0.3-0.3l4.7 1.3l3 0.3l1 0.7l3.6 0.3l1 0.7l3 0.3l5.7 1.7l3.3 0.3l1.4 0.7l1.6 0l1 0.7l7.7 1.3l1 0.7l1.7 0l1.3 0.6l0.3-0.3l5.4 1.7l1.6 0l1 0.6l0.4-0.3l9.6 2.7l0.4-0.4l2.3 1l6 1l1 0.7l0.3-0.3l1 0.6l0.7-0.3l1 0.7l6.7 1.3l5.3 1.7l1.7 0l1 0.6l0.6-0.3l2 1l0.4-0.3l5.3 1.6l1.3 0.4l0.4-0.4l1.3 0.7l3.7 0.7l1 0.6l3 0.4l2.3 1l4.7 0.6l3.3 1.4l1.7 0l2 1l1.6 0l1.4 0.6l0.3-0.3l4.7 1.7l1.6 0l1 0.6l1.7 0l1 0.7l0.3-0.3l2.4 1l2.6 0.3l2 1l0.4-0.3l3.6 1.3l0.4-0.3l1 0.6l5.3 1l1 0.7l0.3-0.3l1 0.6l0.4-0.3l3.3 1.3l0.3-0.3l2.4 1l1.3 0l1 0.7l0.3-0.4l1 0.7l0.4-0.3l4.6 1.6l0.4-0.3l2 1l3.6 0.7l1 0.6l0.4-0.3l2.6 0.7l2 1l0.4-0.4l1 0.7l0.3-0.3l3.3 1.3l0.4-0.3l2 1l0.3-0.4l1 0.7l0.3-0.3l2 1l0.4-0.4l2 1l0.3-0.3l2 1l0.3-0.3l2 1l0.4-0.4l3.6 1.4l0.4-0.4l6.6 2.4l0.4-0.4l6.6 2l1 0.7l0.4-0.3l4.3 1.6l0.3-0.3l5.7 2l0.3-0.3l3 1.3l0.4-0.3l5.6 2l8 2l2 1l0.4-0.4l2 1l3.6 0.7l2 1l0.4-0.3l1 0.6l0.3-0.3l1 0.7l1 0l4 1.6l0.3-0.3l1 0.7l0.4-0.4l5 2l0.3-0.3l1 0.7l1.3-0.4l0-0.6l-15-7l-18.6-10l-30-18.4l-18-12.3l-16.4-12l-30-24.3l-32.3-29.7l-14-14l-16.3-17.3l-18.7-21l-15.7-18.7l-19.6-25l-12.4-17l-1.6-1.3z"/>
<path fill="#ffcf00" d="M313.3 451l0 0.7l3.4 1.3l1.6 0l3 1.3l1.7 0l12.3 4l2.7 0.4l9.3 2.6l4 1.7l11.7 3l2 1l2.3 0.3l1 0.7l2.4 0.3l2 1l4.6 1l1 0.7l1.4 0l3 1.3l3.3 0.7l1 0.7l1.3 0l3 1.3l2.4 0.3l7.3 2.7l9.7 2.7l22.3 7.6l0.3-0.3l2.7 1.3l0.3-0.3l1.7 1l11 3.3l4.7 2l0.3-0.3l1 0.7l4 1l2.7 1.3l11.6 3.7l35.4 13l0.6-0.4l0-1l-18.6-11.6l-15.7-8.7l-20.7-10.3l-14-6.4l-18-7.3l-13-4.7l-21.3-5.6l-26.3-4.7l-27-2.7l-16.7-0.3l-0.3-0.3zM1525 301l-0.7-0.3l-1 0.3l-15.3 10.7l-15.3 9.3l-15.4 8.3l-11 5.4l-26 10.6l-22.3 7l-25 5.7l-23.7 3.3l-12.6 0.7l-0.4 0.3l-7.6 0l-0.4 0.4l-18 0l-0.3-0.4l-8 0l-0.3-0.3l-11.4-0.7l-0.6 0.4l0 0.6l6.6 2l3.7 1.7l1 0l7.7 3.3l4 1l3.3 1.7l5.7 1.7l7 3l3 0.6l1.3 1l3 0.7l1.3 1l0.4-0.3l1.6 1l0.4-0.4l2.3 1.4l1 0l6 2.3l2.3 1.3l0.4-0.3l2.3 1.3l0.3-0.3l1.7 1l11.7 4.3l2.3 1.4l0.3-0.4l11.4 5l0.3-0.3l7 3.3l0.3-0.3l7 3.3l5 1.7l2 1.3l0.4-0.3l2 1.3l5 1.7l1.3 1l7 2.7l8 4l0.3-0.4l9.4 4.7l4 1.3l18.6 9.4l3 1l9.4 5l0.6-0.4l0.4-2l0.6-0.6l17-65l0.7-4.4l1-2.6l5.7-26.7l2.3-9l1.3-8l3.7-16.3zM908 94l-6.3 31.7l-10.4 45.3l-11 43.3l-6.6 22.7l-0.4 3l10.4 2l3 1l0.3-0.3l1 0.6l0.3-0.3l3 0.7l2.4 1l0.6-0.4l1 0.7l0.4-0.3l2.6 1l0.4-0.4l3 0.7l1.3 0.7l10.3 2l4 1.3l0.7-0.3l9.7 2.6l1.6 0l5.7 1.7l1.7 0l1 0.7l0.3-0.4l3 0.7l1 0.7l6 1l4 1.3l3 0.3l9.7 2.7l8.3 1.7l1 0.6l0.3-0.3l1.4 0.7l1.6 0l1.4 0.6l4 0.7l1 0.7l1.3 0l4 1.3l0.3-0.3l11.4 3.3l6 1l1 0.7l2.6 0.3l2.4 1l0.3-0.3l3 0.6l2.3 1l4 0.7l2 1l5.7 1l2 1l0.3-0.3l3.7 1.3l0.3-0.3l2 1l0.7-0.4l1 0.7l10 2.3l3.3 1.4l0.4-0.4l2.3 1l0.7-0.3l1 0.7l3.6 0.6l2.4 1l0.3-0.3l1 0.7l3.7 0.6l1 0.7l0.3-0.3l3.3 1.3l0.4-0.3l1 0.6l3.6 0.7l1.4 0.7l0.3-0.4l1 0.7l0.3-0.3l2 1l8.4 2.3l1.3 0l2 1l0.3-0.3l4.7 1.6l0.3-0.3l5.7 2l1.3 0l5.7 1.7l2 1l0.3-0.4l12.7 4l0.3-0.3l5.4 2l0.6-0.3l0-0.7l-18.6-11l-20-13l-26.4-19l-30-24.3l-24-21.7l-22.3-22l-26.3-28.3l-19.7-23l-24.3-30.7l-12.4-17l-1.6-1.3z"/>
<path fill="#ffbf00" d="M335.7 452l0 0.7l15.6 4.3l3 1.3l3.7 0.7l3 1.3l2.7 0.4l1 0.6l2.3 0.4l2 1l1.3 0l4 1.6l1.4 0l6.3 2.4l1.3 0l3 1.3l1.4 0l1 0.7l2.3 0.3l7.3 2.7l7.7 2l2.7 1.3l5.3 1.7l1.3 0l14 5l0.4-0.4l1.6 1l7.4 2l1.6 1l9 2.7l1.7 1l0.3-0.3l1 0.6l1 0l2.7 1.4l7 2l3.7 1.6l0.3-0.3l2.7 1.3l4 1l13 5l1.6-0.3l0-0.7l-13.3-7.3l-20.7-10.3l-22.6-10l-22.4-8.4l-15.6-4.3l-19.4-4l-23.6-3.3l-10.7-0.7l-0.3-0.3zM1525 301l-0.7-0.3l-1 0.3l-5.3 4l-16.3 10.7l-24.4 13.6l-11 5.4l-14.6 6.3l-22.4 8l-23.3 6.3l-21 4l-15.7 2l-12.6 0.7l-0.4 0.3l-22.3 0.4l-0.7 0.3l0 0.7l2.7 0.6l3.3 1.7l2 0.3l1.7 1l4 1l2.3 1.4l0.4-0.4l1.6 1l1 0l1.4 1l1 0l1.6 1l0.4-0.3l10.3 4.3l0.3-0.3l11.7 5l2 0.3l1.7 1l2.6 0.7l2.4 1.3l2.6 0.7l2.4 1.3l10 3.7l6.3 3l0.3-0.3l2.4 1.3l1 0l7.6 3.7l0.4-0.4l1.3 1l1 0l18.3 8.4l4 1.3l2 1.3l1 0l7.4 3.7l3 1l4.3 2.3l1 0l3.3 2l2.4 0.7l3.3 2l3.7 1.3l6.6 3.7l7.7 3.3l2.7 2l0.6-0.3l4.7-18l1.3-3.7l10-39.6l0.7-4.4l1-2.6l5.7-26.7l2.3-9l1.3-8l3.7-16.3zM908 94l-6.3 31.7l-10.4 45.3l-9.6 38.3l-6.7 23.7l2.7 1l0.3-0.3l12 3l0.3-0.4l1 0.7l1.7 0.3l0.3-0.3l1 0.7l5 0.6l1 0.7l6 1l3 1l0.4-0.3l4 1.3l0.3-0.3l2.3 1l2 0l2.7 1l0.3-0.4l2.4 1l7.6 1.4l2.7 1l1.7 0l4 1.3l0.3-0.3l1 0.6l1.7 0l7 2l0.3-0.3l1 0.7l4.3 0.6l1.4 0.7l0.3-0.3l1 0.6l3 0.4l5.3 1.6l1.4 0l1 0.7l0.6-0.3l1 0.6l0.4-0.3l3.6 1.3l0.7-0.3l1 0.7l1.7 0l1 0.6l4.3 0.7l3.7 1.3l1.3 0l1 0.7l2 0l5 1.7l4 0.6l1 0.7l4.7 0.7l4.6 1.6l0.4-0.3l5.3 1.7l0.3-0.4l5.7 2l8.3 1.7l2 1l0.7-0.3l3.3 1.3l0.4-0.3l1 0.6l1.3 0l1.3 0.7l0.4-0.3l1 0.6l8.6 2l1 0.7l0.7-0.3l4.3 1.6l0.4-0.3l1.3 0.7l3.7 0.6l1 0.7l0.3-0.3l1 0.6l1.3 0.4l0.4-0.4l1 0.7l3.6 0.7l1 0.6l0.4-0.3l1 0.7l0.3-0.4l2 1l0.3-0.3l1 0.7l0.4-0.4l2 1l4 0.7l1 0.7l0.3-0.4l2 1l7 2l0.3-0.3l2 1l0.4-0.3l4.6 1.6l0.4-0.3l3 1.3l0.3-0.3l1.3 0.7l1.4 0l4 1.6l0.6-0.3l0-1l-7.6-4.7l-18-12.3l-16.4-12l-14-11l-27.6-23.7l-20.7-19.3l-22.3-22.7l-18-19.6l-19.7-23l-24.3-30.7l-12.4-17l-1.6-1.3z"/>
<path fill="#ffaf00" d="M365.3 455l0 0.7l1 0.6l2.4 0.4l4.3 1.6l1.3 0l1 0.7l9.7 2.7l3 1.3l1.3 0l4 1.7l2.7 0.3l6 2.3l4.7 1l12 4.4l0.3-0.4l4.7 2l0.3-0.3l2 1l11 3.3l1.7 1l0.3-0.3l3.7 1.7l1 0l12 4.3l1.3-0.3l0-0.7l-21.3-9.7l-26.4-10l-21.3-5.6l-22-4zM1525 301l-0.7-0.3l-1 0.3l-5.3 4l-16.3 10.7l-24.4 13.6l-17 8l-20 8l-22.3 7l-18 4.4l-24.7 4l-22.3 1.6l-0.7 0.4l0 0.6l11 4.4l1 0l6 2.6l1 0l10 4.4l0.4-0.4l8.3 3.7l3.7 1l1.3 1l9.3 3.3l6.4 3l0.3-0.3l5.3 2.7l0.4-0.4l3.6 2l0.4-0.3l44.3 19.3l2.7 1.7l1.6 0.3l4 2.4l4.4 1.6l2.6 1.7l2.4 0.7l12.6 6.3l1.4-1.3l13.6-53l0.7-4.4l1-2.6l5.7-26.7l2.3-9l1.3-8l3.7-16.3zM908 94l-6.3 31.7l-7.7 34l-8 33l-9 33.6l2.7 1l0.3-0.3l1 0.7l0.3-0.4l1 0.7l0.4-0.3l4.6 1.3l1.7 0l6 1.3l1 0.7l0.3-0.3l1.4 0.6l3.3 0.4l1.3 0.6l0.4-0.3l1 0.7l3 0.3l1.3 0.7l0.3-0.4l1.4 0.7l3 0.3l4 1.4l0.6-0.4l4 1.4l0.4-0.4l2.6 1l0.4-0.3l2.3 1l2 0l2.3 1l1.7 0l1.3 0.7l1.7 0l1 0.6l0.3-0.3l5.4 1.7l1.6 0l1 0.6l0.4-0.3l8.6 2l3.7 1.3l0.3-0.3l1 0.7l0.7-0.4l1 0.7l10 2l2.7 1l10.6 2.3l1 0.7l2 0l1 0.7l3 0.3l1 0.7l1.4 0.3l0.3-0.3l6 2l1.7 0l4.3 1l2 1l1.7 0l2.3 1l0.3-0.4l2.7 1l6.7 1.4l4.6 1.6l1.4 0l1 0.7l1.6 0l3.7 1.3l0.3-0.3l1 0.7l5.4 1l1 0.6l2.6 0.4l5 1.6l0.4-0.3l1.6 1l0.4-0.3l1.6 0.3l3 1.3l0.7-0.3l2.3 1l0.4-0.3l1 0.6l1.3 0.4l0.3-0.4l1 0.7l2.4 0.3l1 0.7l0.3-0.3l1 0.6l0.3-0.3l1 0.7l0.4-0.4l5.3 2l0.3-0.3l1 0.7l0.4-0.4l5 1.4l2 1l0.3-0.4l3.3 1.4l0.4-0.4l3.6 1.4l1.4-0.4l0-0.6l-15.4-10.7l-14-10.7l-24-19.6l-24-21.7l-22.3-22l-16.3-17.3l-18.7-21l-23.7-28.7l-11.6-15l-12.4-17l-1.6-1.3z"/>
<path fill="#ff9f00" d="M1525 301l-0.7-0.3l-1 0.3l-5.3 4l-16.3 10.7l-18 10.3l-17.4 8.7l-18 7.6l-19 6.7l-17.6 5l-18.7 4l-15 2.3l-8.3 0.7l-0.7 0.3l0 1l11.3 4.7l1 0l4 2l0.4-0.3l8.3 3.6l7 2.4l1.3 1l3.7 1l1.3 1l0.4-0.4l2 1.4l0.3-0.4l6.3 3l4.4 1.4l3.6 2l2.7 0.6l12.3 5.7l1.7 0.3l1.3 1l0.4-0.3l2.6 1.7l1.7 0.3l10.7 5l2.3 0.7l2.7 1.6l1 0l2 1.4l0.3-0.4l4.7 2.7l1 0l3.3 2l2.3 0.7l3.4 2l13.3 6l2.7 1.6l-0.4 1.4l0.7 0.3l0.7-0.3l2.6-9.4l10-39.6l0.7-4.4l1-2.6l5.7-26.7l2.3-9l1.3-8l3.7-16.3zM908 94l-10 48.3l-1.3 4.4l-5.4 24.3l-3 11l0 1.3l-8.6 32.4l-0.7 4l1 0.6l4.7 0.7l3 1l0.3-0.3l2.7 1l0.3-0.4l2.7 1l0.3-0.3l1 0.7l3 0.3l1.7 0.7l0.3-0.4l1.3 0.7l8.7 1.7l1.3 0.6l0.4-0.3l4 1.3l6.3 1l1 0.7l1.7 0l1.3 0.7l1.7 0l3.6 1.3l0.7-0.3l3.7 1.3l2 0l5.3 1.7l0.3-0.4l1.4 0.7l1.6 0l1.4 0.7l11 2.3l4 1.3l3 0.4l1 0.6l0.3-0.3l1 0.7l0.7-0.4l1 0.7l1.3 0l1 0.7l1.3 0l2.7 1l1.7 0l1.3 0.6l0.7-0.3l1.6 1l0.7-0.3l7.7 2.3l0.6-0.3l6 2l1.7 0l3.7 1.3l4.6 0.7l7 2.3l0.7-0.3l8.7 2.6l0.3-0.3l2 1l0.7-0.3l3.6 1.3l0.4-0.3l2 1l3 0.3l2 1l0.3-0.3l3.7 1.3l0.3-0.3l1 0.6l5 1l1 0.7l0.7-0.3l1.6 1l0.4-0.4l1.6 0.4l3 1.3l0.4-0.3l2.6 1l0.4-0.4l1 0.7l0.3-0.3l5.7 2l0.3-0.4l1 0.7l0.3-0.3l5.7 2l0.3-0.4l2 1l1.4-0.3l-0.7-1.3l-6.7-4.7l-14-11l-21.6-18.3l-18.4-16.7l-22.3-22l-16.3-17.3l-18.7-21l-23.7-28.7l-11.6-15l-12.4-17l-1.6-1.3z"/>
<path fill="#ff8f00" d="M1525 301l-0.7-0.3l-1 0.3l-15.3 10.7l-20.7 12.3l-12 6.3l-19.6 9l-15.4 6l-15.3 5l-25 6.4l-16.7 2.6l-0.6 0.4l0 0.6l12.6 5.4l7 2.3l2.4 1.3l0.3-0.3l3 1.7l4.3 1.3l1.4 1l0.3-0.3l4.7 2.3l2.6 0.7l11 5l1.7 0.3l1.3 1l5.7 2l1.3 1l0.4-0.3l1.3 1l7 2.6l1.3 1l1 0l17 8l1 0l2 1.4l8.7 3.6l17 8.4l1.3-1.4l10-39.6l0.7-4.4l1-2.6l5.7-26.7l2.3-9l1.3-8l3.7-16.3zM908 94l-10 48.3l-1.3 4.4l-5.4 24.3l-3 11l0 1.3l-7.6 29.7l8.6 2.3l13.7 2.7l1 0.7l0.7-0.4l1 0.7l1.6 0.3l0.4-0.3l4 1.3l0.3-0.3l2.3 1l5 0.7l2.7 1l0.3-0.4l6.4 2l5 0.7l1.3 0.7l2.7 0.3l1 0.7l2 0l8 2.3l3 0.3l1.3 0.7l0.3-0.3l2.4 1l7.3 1.3l1 0.7l0.7-0.4l1 0.7l1.3 0l8 2.3l1.7 0l3.6 1.4l0.7-0.4l9 2.7l0.7-0.3l6 2l0.3-0.4l4.7 1.7l0.6-0.3l1.4 0.6l4 0.7l2 1l1.6 0l7.7 2.3l0.3-0.3l3.4 1.3l0.3-0.3l3.7 1.3l1.6 0l1.4 0.7l0.3-0.3l4.3 1.6l0.7-0.3l1 0.7l9 2l3.3 1.3l0.4-0.3l1.3 0.3l1 0.7l1.3 0l1 0.6l0.4-0.3l4.6 1.7l0.4-0.4l2.3 1l1.3-0.3l-0.3-1l-6.7-5l-16-13.3l-19.3-17.4l-13-12.3l-22.3-22.7l-18-19.6l-19.7-23l-24.3-30.7l-12.4-17l-1.6-1.3z"/>
<path fill="#ff8000" d="M1525 301l-0.7-0.3l-1 0.3l-15.3 10.7l-20.7 12.3l-12 6.3l-15 7l-12 5l-19 6.7l-17.6 5l-11.7 2.7l-3.3 0.3l-1 0.7l0 0.6l14 5.4l1.3 1l0.3-0.4l1.7 1l1.7 0.4l7 3.3l0.3-0.3l2.3 1.3l1 0l3.7 2l1 0l5.3 2.7l12.7 5l15.7 7.3l4 1.3l3.3 2l1 0l1.3 1l4.7 1.7l4 2.3l2.3 0.7l1.4 1l15 7l1-0.7l0-1l0.6-0.6l8-32l0.7-4.4l1-2.6l5.7-26.7l2.3-9l1.3-8l3.7-16.3zM908 94l-10 48.3l-1.3 4.4l-5.4 24.3l-3 11l0 1.3l-6 23l4.4 1l1 0.7l0.6-0.3l2.4 1l0.6-0.4l2.4 1l0.3-0.3l3.3 0.7l1 0.6l0.4-0.3l1.3 0.7l4.7 0.6l1 0.7l2 0l2.3 1l0.3-0.3l3 0.6l1 0.7l0.4-0.3l2 0.3l4 1.3l7.3 1.4l1 0.6l5 0.7l5 1.7l0.3-0.4l11 3l10 2l5.7 1.7l3 0.3l3.3 1.4l0.7-0.4l3.3 1.4l0.7-0.4l10.3 3l0.7-0.3l6 2l0.7-0.3l3.6 1.3l3 0.3l3.4 1.4l0.3-0.4l2.7 1l2.6 0.4l2 1l4.4 0.6l2.3 1l0.3-0.3l2 1l6 1l4.4 1.7l0.6-0.4l3.4 1.4l6.6 1.3l2 1l0.4-0.3l1 0.6l0.6-0.3l1 0.7l1.7-0.4l0-0.6l-9.7-8l-24-21.7l-30.6-30.7l-18-19.6l-19.7-23l-24.3-30.7l-12.4-17l-1.6-1.3z"/>
<path fill="#ff7000" d="M1525 301l-0.7-0.3l-1 0.3l-15.3 10.7l-15.3 9.3l-15.4 8.3l-11 5.4l-26 10.6l-15.3 5l-13.3 3.7l-2.7 0.3l-1.7 0.7l0 0.7l47.7 19.6l3.3 2l1 0l12.7 6l5.3 2l2 1.4l6.7 2.6l3.3 2l13.4 6l0.6-0.3l0.7-1.7l6.3-25.6l0.7-4.4l1-2.6l5.7-26.7l2.3-9l1.3-8l3.7-16.3zM908 94l-10 48.3l-1.3 4.4l-5.4 24.3l-3 11l0 1.3l-4 14.7l0 2l2.4 0.7l0.3-0.4l1 0.7l0.3-0.3l1 0.6l6.7 1l1 0.7l6.3 1l1 0.7l2 0l2.4 1l0.3-0.4l4 1.4l0.3-0.4l2 0.4l1 0.6l1.7 0l5.3 1.7l0.4-0.3l2.6 1l0.4-0.4l4 1.4l6 1l6.6 2l1.7 0l1 0.6l0.7-0.3l1 0.7l3.3 0.3l2 1l0.7-0.3l1 0.6l8.6 1.7l1 0.7l0.4-0.4l1 0.7l2.6 0.3l2.7 1l1.7 0l5.3 1.7l0.7-0.3l2 1l0.3-0.4l9 2.7l0.7-0.3l6 2l3 0.3l2.3 1l4.7 0.7l2 1l2.6 0.3l2.4 1l0.3-0.3l1.3 0.6l1.7 0l2.3 1l0.4-0.3l3 1.3l0.6-0.3l1 0.7l1.7 0l3.7 1.3l0.3-0.3l1 0.6l4 0.7l1 0.7l1.3-0.4l-0.6-1.3l-12.7-11l-17-16l-22.3-22.7l-18-19.6l-19.7-23l-24.3-30.7l-12.4-17l-1.6-1.3z"/>
<path fill="#ff6000" d="M1525 301l-0.7-0.3l-1 0.3l-5.3 4l-16.3 10.7l-14.4 8.3l-12 6.3l-9 4.4l-18 7.6l-19 6.7l-10 2.7l-1 0.6l0 0.7l9.7 3.7l2 1.3l2 0.3l3 1.7l1 0l2.3 1.3l4 1.4l1.4 1l0.3-0.4l1.3 1l8.7 3.4l1.3 1l4 1.3l3.7 2l1.7 0.3l10.3 5l1 0l1.3 1l3.7 1.4l6.3 3.3l1.7 0.3l5.7 2.7l7.3 4l2.3 0.7l0.7-0.4l9-36.3l9-41.3zM908 94l-8 39.3l-8.7 37.7l-5.3 20.7l0 1.3l1 0.7l0.3-0.4l6.7 2l3.3 0.4l1 0.6l0.7-0.3l1 0.7l4.7 0.6l1.3 0.7l0.3-0.3l4 1.3l0.4-0.3l4 1.3l0.3-0.3l2.7 1l0.3-0.4l1.3 0.4l1 0.6l7.7 1.4l8.3 2.3l0.4-0.3l5.3 1.6l3 0.4l1 0.6l0.7-0.3l1.3 0.7l2.7 0.3l1 0.7l0.6-0.4l1 0.7l7 1.3l2.7 1l0.3-0.3l1 0.7l7 1.3l8 2.3l0.4-0.3l1 0.7l2 0l7.3 2.3l0.7-0.3l7.3 2.3l0.3-0.3l7.7 2.3l0.3-0.3l2.7 1l1.7 0l2 1l1.6 0l2 1l1.7 0l3.7 1.3l1.6 0l1.4 0.7l1.3-0.4l0-0.6l-10.7-9.7l-22.3-22l-26.3-28.3l-19.7-23l-24.3-30.7l-12.4-17l-1.6-1.3z"/>
<path fill="#ff5000" d="M1525 301l-0.7-0.3l-1 0.3l-5.3 4l-16.3 10.7l-24.4 13.6l-11 5.4l-14.6 6.3l-11.4 4.3l-11.3 3.7l0 1l5 2.3l3.3 1l3 1.7l2 0.3l2.4 1.4l4.6 1.6l6.7 3.4l0.3-0.4l29 13.4l0.4-0.4l19.6 9.7l1.4-0.3l3.6-14l0.7-4.4l1-2.6l5.7-26.7l2.3-9l1.3-8l3.7-16.3zM908 94l-8 39.3l-8.7 37.7l-3 11l-0.6 4.3l4.6 1.7l0.7-0.3l1 0.6l1.7 0.4l0.3-0.4l4.3 1.4l3 0.3l1 0.7l0.7-0.4l3.7 1.4l0.3-0.4l1.7 0.7l0.3-0.3l4 1.3l0.3-0.3l2.7 1l0.3-0.4l2.4 1l4.6 0.7l3.7 1.3l0.7-0.3l1.3 0.7l1.3 0l1 0.6l0.7-0.3l5.3 1.7l1.7 0l1 0.6l0.3-0.3l7 2l15.4 3.3l1 0.7l0.3-0.3l1 0.6l0.7-0.3l3.3 1.3l5.7 1l1 0.7l0.6-0.3l2 1l0.4-0.4l2 0.4l3.6 1.3l1.4 0l1 0.7l3.3 0.3l1 0.7l1.3 0.3l0.4-0.3l1 0.6l6.6 1.4l2.4 1l0.6-0.4l7.4 2.4l0.3-0.4l1.3 0.7l1.4-0.3l0-0.7l-8.7-8l-22.3-22.7l-18-19.6l-19.7-23l-24.3-30.7l-12.4-17l-1.6-1.3z"/>
<path fill="#ff4000" d="M1525 301l-0.7-0.3l-1 0.3l-5.3 4l-16.3 10.7l-18 10.3l-17.4 8.7l-14.6 6.3l-13.4 5l0 0.7l5.7 2.6l8.3 3l15 7l1 0l8.7 4.4l0.3-0.4l1.4 1l2.3 0.7l1.3 1l1 0l2 1.3l3 1l7.7 4l8.7 3.7l2.3 1.7l-0.3 1l0.6 0.3l0.7-0.3l12-51.7l1.3-8l3.7-16.3zM908 94l-6.3 31.7l-10.4 45.3l-2 7l0 2l8 1.7l1.4 0.6l4.6 0.7l1 0.7l0.4-0.4l4 1.4l0.3-0.4l3 1l1.7 0l2.3 1l0.3-0.3l3 0.7l2.4 1l1.6 0l4.4 1.3l0.6-0.3l10.7 3l0.7-0.4l3.3 1.4l0.7-0.4l7 2l3 0.4l3.3 1.3l0.7-0.3l1 0.6l14.3 3l10.3 3l2 0l3.7 1.4l2.7 0.3l1 0.7l1.6 0l2.4 1l3 0.3l3.3 1.3l0.7-0.3l1.3 0.7l0.7-0.4l-1-2l-20-20l-26.7-29.6l-23.7-28.7l-11.6-15l-12.4-17l-1.6-1.3z"/>
<path fill="#ff3000" d="M1525 301l-0.7-0.3l-1 0.3l-5.3 4l-16.3 10.7l-18 10.3l-17.4 8.7l-19 8l0 0.6l10 4l3 1.7l1.7 0.3l4.3 2.4l0.4-0.4l11 5.4l0.3-0.4l6.3 3.4l0.4-0.4l2 1.4l0.3-0.4l2.7 1.7l4.6 1.7l2.4 1.6l3.3 1l9 4.7l0.7-0.3l2.3-8l5.7-26.7l2.3-9l1.3-8l3.7-16.3zM908 94l-8 39.3l-9.3 40l3.6 0.7l1 0.7l2 0l1.4 0.6l0.3-0.3l2.7 1l1.6 0l1 0.7l0.7-0.4l3.7 1.4l0.6-0.4l6.7 2l1.7 0l2.3 1l0.7-0.3l2.3 1l0.7-0.3l2.3 1l0.7-0.4l3.6 1.4l2 0l2.4 1l1.6 0l1 0.6l0.7-0.3l4 1.3l0.3-0.3l1 0.7l3 0.3l2.4 1l4.6 0.7l1.4 0.6l0.3-0.3l1 0.7l15.3 3.3l1 0.7l0.4-0.4l11.6 3.4l2 0l6.4 2l0.3-0.4l2.7 1l0.6-0.3l0-0.7l-19.6-20.6l-24.4-27.7l-21.6-26.7l-20.4-27.3l-1.6-1.3z"/>
<path fill="#ff2000" d="M1525 301l-0.7-0.3l-1 0.3l-15.3 10.7l-20.7 12.3l-21 10.7l-10.3 4.3l0 0.7l9.7 4l3.6 2l4 1.3l8.7 4.3l0.3-0.3l2.7 1.7l1 0l1.3 1l0.4-0.4l12 6l5.3 2l4.7 2.7l1.3 0.3l0.7-0.3l8.3-37l1.3-8l3.7-16.3zM908 94l-6.3 31.7l-9.4 40.6l4.4 1.7l0.3-0.3l3 1l0.3-0.4l1 0.7l2 0.3l0.4-0.3l2 1l2 0.3l0.3-0.3l5 1.7l2.3 0l2.4 1l0.3-0.4l2.7 1l0.3-0.3l3.7 1.3l7.3 1.4l2.3 1l2.4 0l2.3 1l3 0.3l1 0.7l3.3 0.3l2.4 1l0.6-0.3l1 0.6l3 0.4l2.4 1l0.6-0.4l2.4 1l7.3 1.4l1.3 0.6l10.7 2.4l3.7 1.3l1.6 0l1 0.7l2.4 0.3l0.6-0.3l0-0.7l-20.6-22.3l-19.7-23l-24.3-30.7l-12.4-17l-1.6-1.3z"/>
<path fill="#ff1000" d="M1525 301l-0.7-0.3l-1 0.3l-15.3 10.7l-15.3 9.3l-15.4 8.3l-13 6l0 0.7l20 8.7l4.4 2.3l7.6 3l15.4 7.7l1.3-0.4l7-30.3l1.3-8l3.7-16.3zM908 94l-4 20.7l-6 27.6l-4 16l0 1.7l1 0.7l0.3-0.4l3.4 0.7l1 0.7l3.3 0.3l1 0.7l0.7-0.4l3.6 1.4l2 0.3l0.4-0.3l2.3 1l1.7 0l1 0.6l7.6 1.4l3.7 1.3l0.3-0.3l6 1.3l2.4 1l1.6 0l1 0.7l0.7-0.4l12.3 3.4l4.7 0.6l2 1l0.3-0.3l1 0.7l0.7-0.4l1 0.7l3 0.3l13.3 3.7l1.7-0.3l0-0.7l-12.3-13.3l-24.4-28.7l-19.6-25l-12.4-17l-1.6-1.3z"/>
<path fill="#ff0000" d="M1525 301l-0.7-0.3l-1 0.3l-5.3 4l-16.3 10.7l-18 10.3l-11 5.3l-0.4 1l8 3.4l1.4 1l1 0l5 2.6l2.3 0.7l1.3 1l0.4-0.3l1.3 1l1 0l2 1.3l3 1l2 1.3l2.3 0.7l10 5l1-0.3l1-2.7l0.4-3l4.3-18l1.3-8l3.7-16.3zM908 94l-6.3 31.7l-6.4 27.6l1.4 0.7l4.6 0.7l8.4 2.3l0.6-0.3l1 0.6l0.7-0.3l2.3 1l1.7 0l1 0.7l4.7 0.6l3.6 1.4l2 0l7 2l1.7 0l6.7 2l3 0.3l1 0.7l0.6-0.4l1 0.7l3 0.3l2.7 1l0.3-0.3l1 0.7l10.4 2l4.3 1.6l0.7-0.3l0-1l-18.4-21l-18-22l-11.6-15l-12.4-17l-1.6-1.3z"/>
<path fill="#ef0000" d="M1525 301l-0.7-0.3l-1 0.3l-5.3 4l-16.3 10.7l-14.4 8.3l-7.3 3.7l0 0.6l12 5.7l1 0l3.3 2l5.4 2l2 1.3l2.3 0.7l9.3 4.7l0.7-0.4l7-31.6zM908 94l-4 20.7l-7 32l2 1l0.3-0.4l8.4 2.4l0.3-0.4l2 0.4l1 0.6l4.7 0.7l2.3 1l0.7-0.3l2.3 1l0.7-0.4l2.3 1l0.7-0.3l3.6 1.3l1.4 0l1 0.7l0.6-0.3l4 1.3l0.7-0.3l1.3 0.6l1.4 0l6.6 2l0.4-0.3l1 0.7l4.3 0.6l1.3 0.7l4.4 0.7l5.6 1.6l0.7-0.3l-0.3-1.3l-15.7-18l-24.3-30.7l-12.4-17l-1.6-1.3z"/>
<path fill="#df0000" d="M1525 301l-0.7-0.3l-1 0.3l-15.3 10.7l-15.3 9.3l-4.7 2.3l-0.3 1.4l28 12.6l0.3 1.7l0.7 0.3l0.6-0.3l0.4-3l1-3l2.6-14l1.7-6.3zM908 94l-4 20.7l-5.7 25.6l2.4 0.7l0.3-0.3l4 1.3l0.3-0.3l2.4 1l1.6 0l1 0.6l5.4 0.7l2.3 1l0.7-0.3l3.3 1.3l2 0l1 0.7l2 0l1.3 0.6l3 0.4l1 0.6l7.4 1.4l1 0.6l1.6 0l4.4 1.4l3 0.3l2 1l0.6-0.3l2.4 1l0.6-0.4l0-1l-21-25.3l-11.6-15l-12.4-17l-1.6-1.3z"/>
<path fill="#cf0000" d="M1525 301l-0.7-0.3l-1 0.3l-15.3 10.7l-13 7.6l-0.7 1.4l0.7 0.3l0.3-0.3l9.4 4.6l1 0l1.3 1l1.7 0.4l9.3 4.6l0.7-0.3l1.3-4l1.3-8l3.7-16.3zM908 94l-8 39.3l1.7 1l3.3 0.4l5 1.6l0.3-0.3l1.7 0.7l0.3-0.4l1.4 0.7l1.6 0l1 0.7l2 0l3.4 1.3l0.6-0.3l2.4 1l0.6-0.4l3.7 1.4l1.7 0l1 0.6l0.3-0.3l4.3 1.3l0.4-0.3l3.3 1.3l0.7-0.3l6 1.7l1.3-0.4l-1-2l-4.7-5.3l-19.6-25l-12.4-17l-1.6-1.3z"/>
<path fill="#bf0000" d="M1525 301l-0.7-0.3l-1 0.3l-5.3 4l-16.7 10.7l0 0.6l6 3l1 0l2 1.4l1.7 0.3l2.7 1.7l3.3 1l1.3 1l1.4-1l4.3-21zM908 94l-6.7 33l7.4 2l0.6-0.3l2.4 1l1.6 0l1 0.6l4.7 0.7l3.7 1.3l0.3-0.3l7 2l7.7 1.3l2.3 1l1-0.3l0-1l-18.3-23l-12.4-17l-1.6-1.3z"/>
<path fill="#af0000" d="M1525 301l-1-0.3l-6 4.3l-9.3 6l-0.4 1.3l8.7 3.7l4 2.3l0.7-0.3l3.3-15.3zM908 94l-5.3 26.3l5.3 1.7l2.3 0l2.4 1l0.3-0.3l2.7 1l0.3-0.4l3.7 1.4l4.6 0.6l8.4 2.4l1.6-0.4l0-0.6l-11.6-14.7l-12.4-17l-1.6-1.3z"/>
<path fill="#9f0000" d="M1524.3 300.7l-10 6.6l0 0.7l6.4 2.7l1 1l0 1l0.6 0.3l0.7-0.3l2-10l0-1.7zM908 94l-4 20l2.7 0.7l0.3-0.4l1.3 0.7l2.7 0.3l1 0.7l0.7-0.3l5.3 1.6l2 0l2 1l2 0l3 1l0.7-0.3l-0.4-1.3l-4.6-5.7l-12.4-17l-1.6-1.3z"/>
<path fill="#8f0000" d="M1525 301l-0.7-0.3l-1 0.3l-2.3 1.7l-0.3 1l3 1.3l0.6-0.3zM908 94l-2.3 11.3l0 2l1.3 0.7l1.7 0l1 0.7l2.6 0l2.4 1l0.3-0.4l3.7 1.4l2.3-0.4l-1-2.3l-9.7-13l-1.6-1.3z"/>
<path fill="#800000" d="M908 94l-1 6.7l3 1l0.3-0.4l1.4 0.4l1 0.6l2-0.3l-0.4-1.7l-1.6-1.6l-2.4-3.7l-1.6-1.3z"/>
</g>
<g stroke="#000" stroke-width="1" fill="none" shape-rendering="crispEdges">
<path d="M106.5 215.1L106.5 650.5"/>
<path d="M106.5 650.5L722 848.2"/>
<path d="M722 848.2L1524.4 696.5"/>
<path d="M106.5 650.5L87 644.2"/>
<path d="M106.5 588.3L87 582"/>
<path d="M106.5 526.1L87 519.8"/>
<path d="M106.5 463.9L87 457.6"/>
<path d="M106.5 401.7L87 395.4"/>
<path d="M106.5 339.5L87 333.2"/>
<path d="M106.5 277.3L87 271"/>
<path d="M106.5 215.1L87 208.8"/>
<path d="M722 848.2L701.9 852"/>
<path d="M645.1 823.5L624.9 827.3"/>
<path d="M568.1 798.8L548 802.6"/>
<path d="M491.2 774.1L471 777.9"/>
<path d="M414.2 749.4L394.1 753.2"/>
<path d="M337.3 724.6L317.2 728.4"/>
<path d="M260.4 699.9L240.2 703.7"/>
<path d="M183.4 675.2L163.3 679"/>
<path d="M106.5 650.5L86.4 654.3"/>
<path d="M722 848.2L741.5 854.5"/>
<path d="M822.3 829.2L841.8 835.5"/>
<path d="M922.6 810.3L942.1 816.5"/>
<path d="M1022.9 791.3L1042.4 797.6"/>
<path d="M1123.2 772.4L1142.7 778.6"/>
<path d="M1223.5 753.4L1243 759.7"/>
<path d="M1323.8 734.4L1343.3 740.7"/>
<path d="M1424.1 715.5L1443.6 721.7"/>
<path d="M1524.4 696.5L1543.9 702.8"/>
</g>
<g font-family="Liberation Sans, sans-serif" font-size="16.3" fill="#000">
<text transform="translate(82.4,648.7) scale(1.0,1)" text-anchor="end">0</text>
<text transform="translate(82.4,586.5) scale(1.0,1)" text-anchor="end">1000</text>
<text transform="translate(82.4,524.3) scale(1.0,1)" text-anchor="end">2000</text>
<text transform="translate(82.4,462.1) scale(1.0,1)" text-anchor="end">3000</text>
<text transform="translate(82.4,399.9) scale(1.0,1)" text-anchor="end">4000</text>
<text transform="translate(82.4,337.7) scale(1.0,1)" text-anchor="end">5000</text>
<text transform="translate(82.4,275.5) scale(1.0,1)" text-anchor="end">6000</text>
<text transform="translate(82.4,213.3) scale(1.0,1)" text-anchor="end">7000</text>
<text transform="translate(698.3,867.3) scale(1.0,1)" text-anchor="end">-4</text>
<text transform="translate(621.3,842.6) scale(1.0,1)" text-anchor="end">-3</text>
<text transform="translate(544.4,817.9) scale(1.0,1)" text-anchor="end">-2</text>
<text transform="translate(467.4,793.2) scale(1.0,1)" text-anchor="end">-1</text>
<text transform="translate(390.5,768.5) scale(1.0,1)" text-anchor="end">0</text>
<text transform="translate(313.6,743.7) scale(1.0,1)" text-anchor="end">1</text>
<text transform="translate(236.6,719) scale(1.0,1)" text-anchor="end">2</text>
<text transform="translate(159.7,694.3) scale(1.0,1)" text-anchor="end">3</text>
<text transform="translate(82.8,669.6) scale(1.0,1)" text-anchor="end">4</text>
<text transform="translate(743.3,870) scale(1.0,1)" text-anchor="start">-4</text>
<text transform="translate(843.6,851) scale(1.0,1)" text-anchor="start">-3</text>
<text transform="translate(943.9,832) scale(1.0,1)" text-anchor="start">-2</text>
<text transform="translate(1044.2,813.1) scale(1.0,1)" text-anchor="start">-1</text>
<text transform="translate(1144.5,794.1) scale(1.0,1)" text-anchor="start">0</text>
<text transform="translate(1244.8,775.2) scale(1.0,1)" text-anchor="start">1</text>
<text transform="translate(1345.1,756.2) scale(1.0,1)" text-anchor="start">2</text>
<text transform="translate(1445.4,737.2) scale(1.0,1)" text-anchor="start">3</text>
</g>
<text x="813.9" y="47" text-anchor="middle" font-family="Liberation Serif, serif" font-weight="bold" font-size="32">3D View</text>
<text transform="translate(33,434.5) rotate(-90)" text-anchor="middle" font-family="Liberation Serif, serif" font-style="italic" font-size="27">f(X)</text>
<g transform="translate(408.2,865.3) rotate(34)" font-family="Liberation Serif, serif" font-style="italic"><text font-size="24" text-anchor="middle">x</text><text x="9" y="10" font-size="20">1</text></g>
<g transform="translate(1066.1,882.4) rotate(-19)" font-family="Liberation Serif, serif" font-style="italic"><text font-size="24" text-anchor="middle">x</text><text x="8.6" y="11.6" font-size="20">2</text></g>
<g shape-rendering="crispEdges">
<rect x="1545.5" y="836.3" width="27.3" height="12.9" fill="#00008f"/>
<rect x="1545.5" y="824" width="27.3" height="12.9" fill="#00009f"/>
<rect x="1545.5" y="811.7" width="27.3" height="12.9" fill="#0000af"/>
<rect x="1545.5" y="799.4" width="27.3" height="12.9" fill="#0000bf"/>
<rect x="1545.5" y="787.1" width="27.3" height="12.9" fill="#0000cf"/>
<rect x="1545.5" y="774.9" width="27.3" height="12.9" fill="#0000df"/>
<rect x="1545.5" y="762.6" width="27.3" height="12.9" fill="#0000ef"/>
<rect x="1545.5" y="750.3" width="27.3" height="12.9" fill="#0000ff"/>
<rect x="1545.5" y="738" width="27.3" height="12.9" fill="#0010ff"/>
<rect x="1545.5" y="725.7" width="27.3" height="12.9" fill="#0020ff"/>
<rect x="1545.5" y="713.4" width="27.3" height="12.9" fill="#0030ff"/>
<rect x="1545.5" y="701.1" width="27.3" height="12.9" fill="#0040ff"/>
<rect x="1545.5" y="688.8" width="27.3" height="12.9" fill="#0050ff"/>
<rect x="1545.5" y="676.5" width="27.3" height="12.9" fill="#0060ff"/>
<rect x="1545.5" y="664.2" width="27.3" height="12.9" fill="#0070ff"/>
<rect x="1545.5" y="652" width="27.3" height="12.9" fill="#0080ff"/>
<rect x="1545.5" y="639.7" width="27.3" height="12.9" fill="#008fff"/>
<rect x="1545.5" y="627.4" width="27.3" height="12.9" fill="#009fff"/>
<rect x="1545.5" y="615.1" width="27.3" height="12.9" fill="#00afff"/>
<rect x="1545.5" y="602.8" width="27.3" height="12.9" fill="#00bfff"/>
<rect x="1545.5" y="590.5" width="27.3" height="12.9" fill="#00cfff"/>
<rect x="1545.5" y="578.2" width="27.3" height="12.9" fill="#00dfff"/>
<rect x="1545.5" y="565.9" width="27.3" height="12.9" fill="#00efff"/>
<rect x="1545.5" y="553.6" width="27.3" height="12.9" fill="#00ffff"/>
<rect x="1545.5" y="541.3" width="27.3" height="12.9" fill="#10ffef"/>
<rect x="1545.5" y="529" width="27.3" height="12.9" fill="#20ffdf"/>
<rect x="1545.5" y="516.8" width="27.3" height="12.9" fill="#30ffcf"/>
<rect x="1545.5" y="504.5" width="27.3" height="12.9" fill="#40ffbf"/>
<rect x="1545.5" y="492.2" width="27.3" height="12.9" fill="#50ffaf"/>
<rect x="1545.5" y="479.9" width="27.3" height="12.9" fill="#60ff9f"/>
<rect x="1545.5" y="467.6" width="27.3" height="12.9" fill="#70ff8f"/>
<rect x="1545.5" y="455.3" width="27.3" height="12.9" fill="#80ff80"/>
<rect x="1545.5" y="443" width="27.3" height="12.9" fill="#8fff70"/>
<rect x="1545.5" y="430.7" width="27.3" height="12.9" fill="#9fff60"/>
<rect x="1545.5" y="418.4" width="27.3" height="12.9" fill="#afff50"/>
<rect x="1545.5" y="406.1" width="27.3" height="12.9" fill="#bfff40"/>
<rect x="1545.5" y="393.8" width="27.3" height="12.9" fill="#cfff30"/>
<rect x="1545.5" y="381.6" width="27.3" height="12.9" fill="#dfff20"/>
<rect x="1545.5" y="369.3" width="27.3" height="12.9" fill="#efff10"/>
<rect x="1545.5" y="357" width="27.3" height="12.9" fill="#ffff00"/>
<rect x="1545.5" y="344.7" width="27.3" height="12.9" fill="#ffef00"/>
<rect x="1545.5" y="332.4" width="27.3" height="12.9" fill="#ffdf00"/>
<rect x="1545.5" y="320.1" width="27.3" height="12.9" fill="#ffcf00"/>
<rect x="1545.5" y="307.8" width="27.3" height="12.9" fill="#ffbf00"/>
<rect x="1545.5" y="295.5" width="27.3" height="12.9" fill="#ffaf00"/>
<rect x="1545.5" y="283.2" width="27.3" height="12.9" fill="#ff9f00"/>
<rect x="1545.5" y="270.9" width="27.3" height="12.9" fill="#ff8f00"/>
<rect x="1545.5" y="258.6" width="27.3" height="12.9" fill="#ff8000"/>
<rect x="1545.5" y="246.4" width="27.3" height="12.9" fill="#ff7000"/>
<rect x="1545.5" y="234.1" width="27.3" height="12.9" fill="#ff6000"/>
<rect x="1545.5" y="221.8" width="27.3" height="12.9" fill="#ff5000"/>
<rect x="1545.5" y="209.5" width="27.3" height="12.9" fill="#ff4000"/>
<rect x="1545.5" y="197.2" width="27.3" height="12.9" fill="#ff3000"/>
<rect x="1545.5" y="184.9" width="27.3" height="12.9" fill="#ff2000"/>
<rect x="1545.5" y="172.6" width="27.3" height="12.9" fill="#ff1000"/>
<rect x="1545.5" y="160.3" width="27.3" height="12.9" fill="#ff0000"/>
<rect x="1545.5" y="148" width="27.3" height="12.9" fill="#ef0000"/>
<rect x="1545.5" y="135.7" width="27.3" height="12.9" fill="#df0000"/>
<rect x="1545.5" y="123.5" width="27.3" height="12.9" fill="#cf0000"/>
<rect x="1545.5" y="111.2" width="27.3" height="12.9" fill="#bf0000"/>
<rect x="1545.5" y="98.9" width="27.3" height="12.9" fill="#af0000"/>
<rect x="1545.5" y="86.6" width="27.3" height="12.9" fill="#9f0000"/>
<rect x="1545.5" y="74.3" width="27.3" height="12.9" fill="#8f0000"/>
<rect x="1545.5" y="62" width="27.3" height="12.9" fill="#800000"/>
</g>
<rect x="1545.5" y="62" width="27.3" height="786.6" fill="none" stroke="#000" stroke-width="1.2"/>
<g stroke="#000" stroke-width="1.2">
<path d="M1545.5 727.7L1552.5 727.7"/>
<path d="M1565.8 727.7L1572.8 727.7"/>
<path d="M1545.5 606.8L1552.5 606.8"/>
<path d="M1565.8 606.8L1572.8 606.8"/>
<path d="M1545.5 485.9L1552.5 485.9"/>
<path d="M1565.8 485.9L1572.8 485.9"/>
<path d="M1545.5 365.1L1552.5 365.1"/>
<path d="M1565.8 365.1L1572.8 365.1"/>
<path d="M1545.5 244.2L1552.5 244.2"/>
<path d="M1565.8 244.2L1572.8 244.2"/>
<path d="M1545.5 123.3L1552.5 123.3"/>
<path d="M1565.8 123.3L1572.8 123.3"/>
</g>
<g font-family="Liberation Sans, sans-serif" font-size="16.3" fill="#000"><text transform="translate(1575.8,733.3) scale(1.0,1)" text-anchor="start">1000</text><text transform="translate(1575.8,612.4) scale(1.0,1)" text-anchor="start">2000</text><text transform="translate(1575.8,491.5) scale(1.0,1)" text-anchor="start">3000</text><text transform="translate(1575.8,370.7) scale(1.0,1)" text-anchor="start">4000</text><text transform="translate(1575.8,249.8) scale(1.0,1)" text-anchor="start">5000</text><text transform="translate(1575.8,128.9) scale(1.0,1)" text-anchor="start">6000</text></g>
</svg></body></html>
